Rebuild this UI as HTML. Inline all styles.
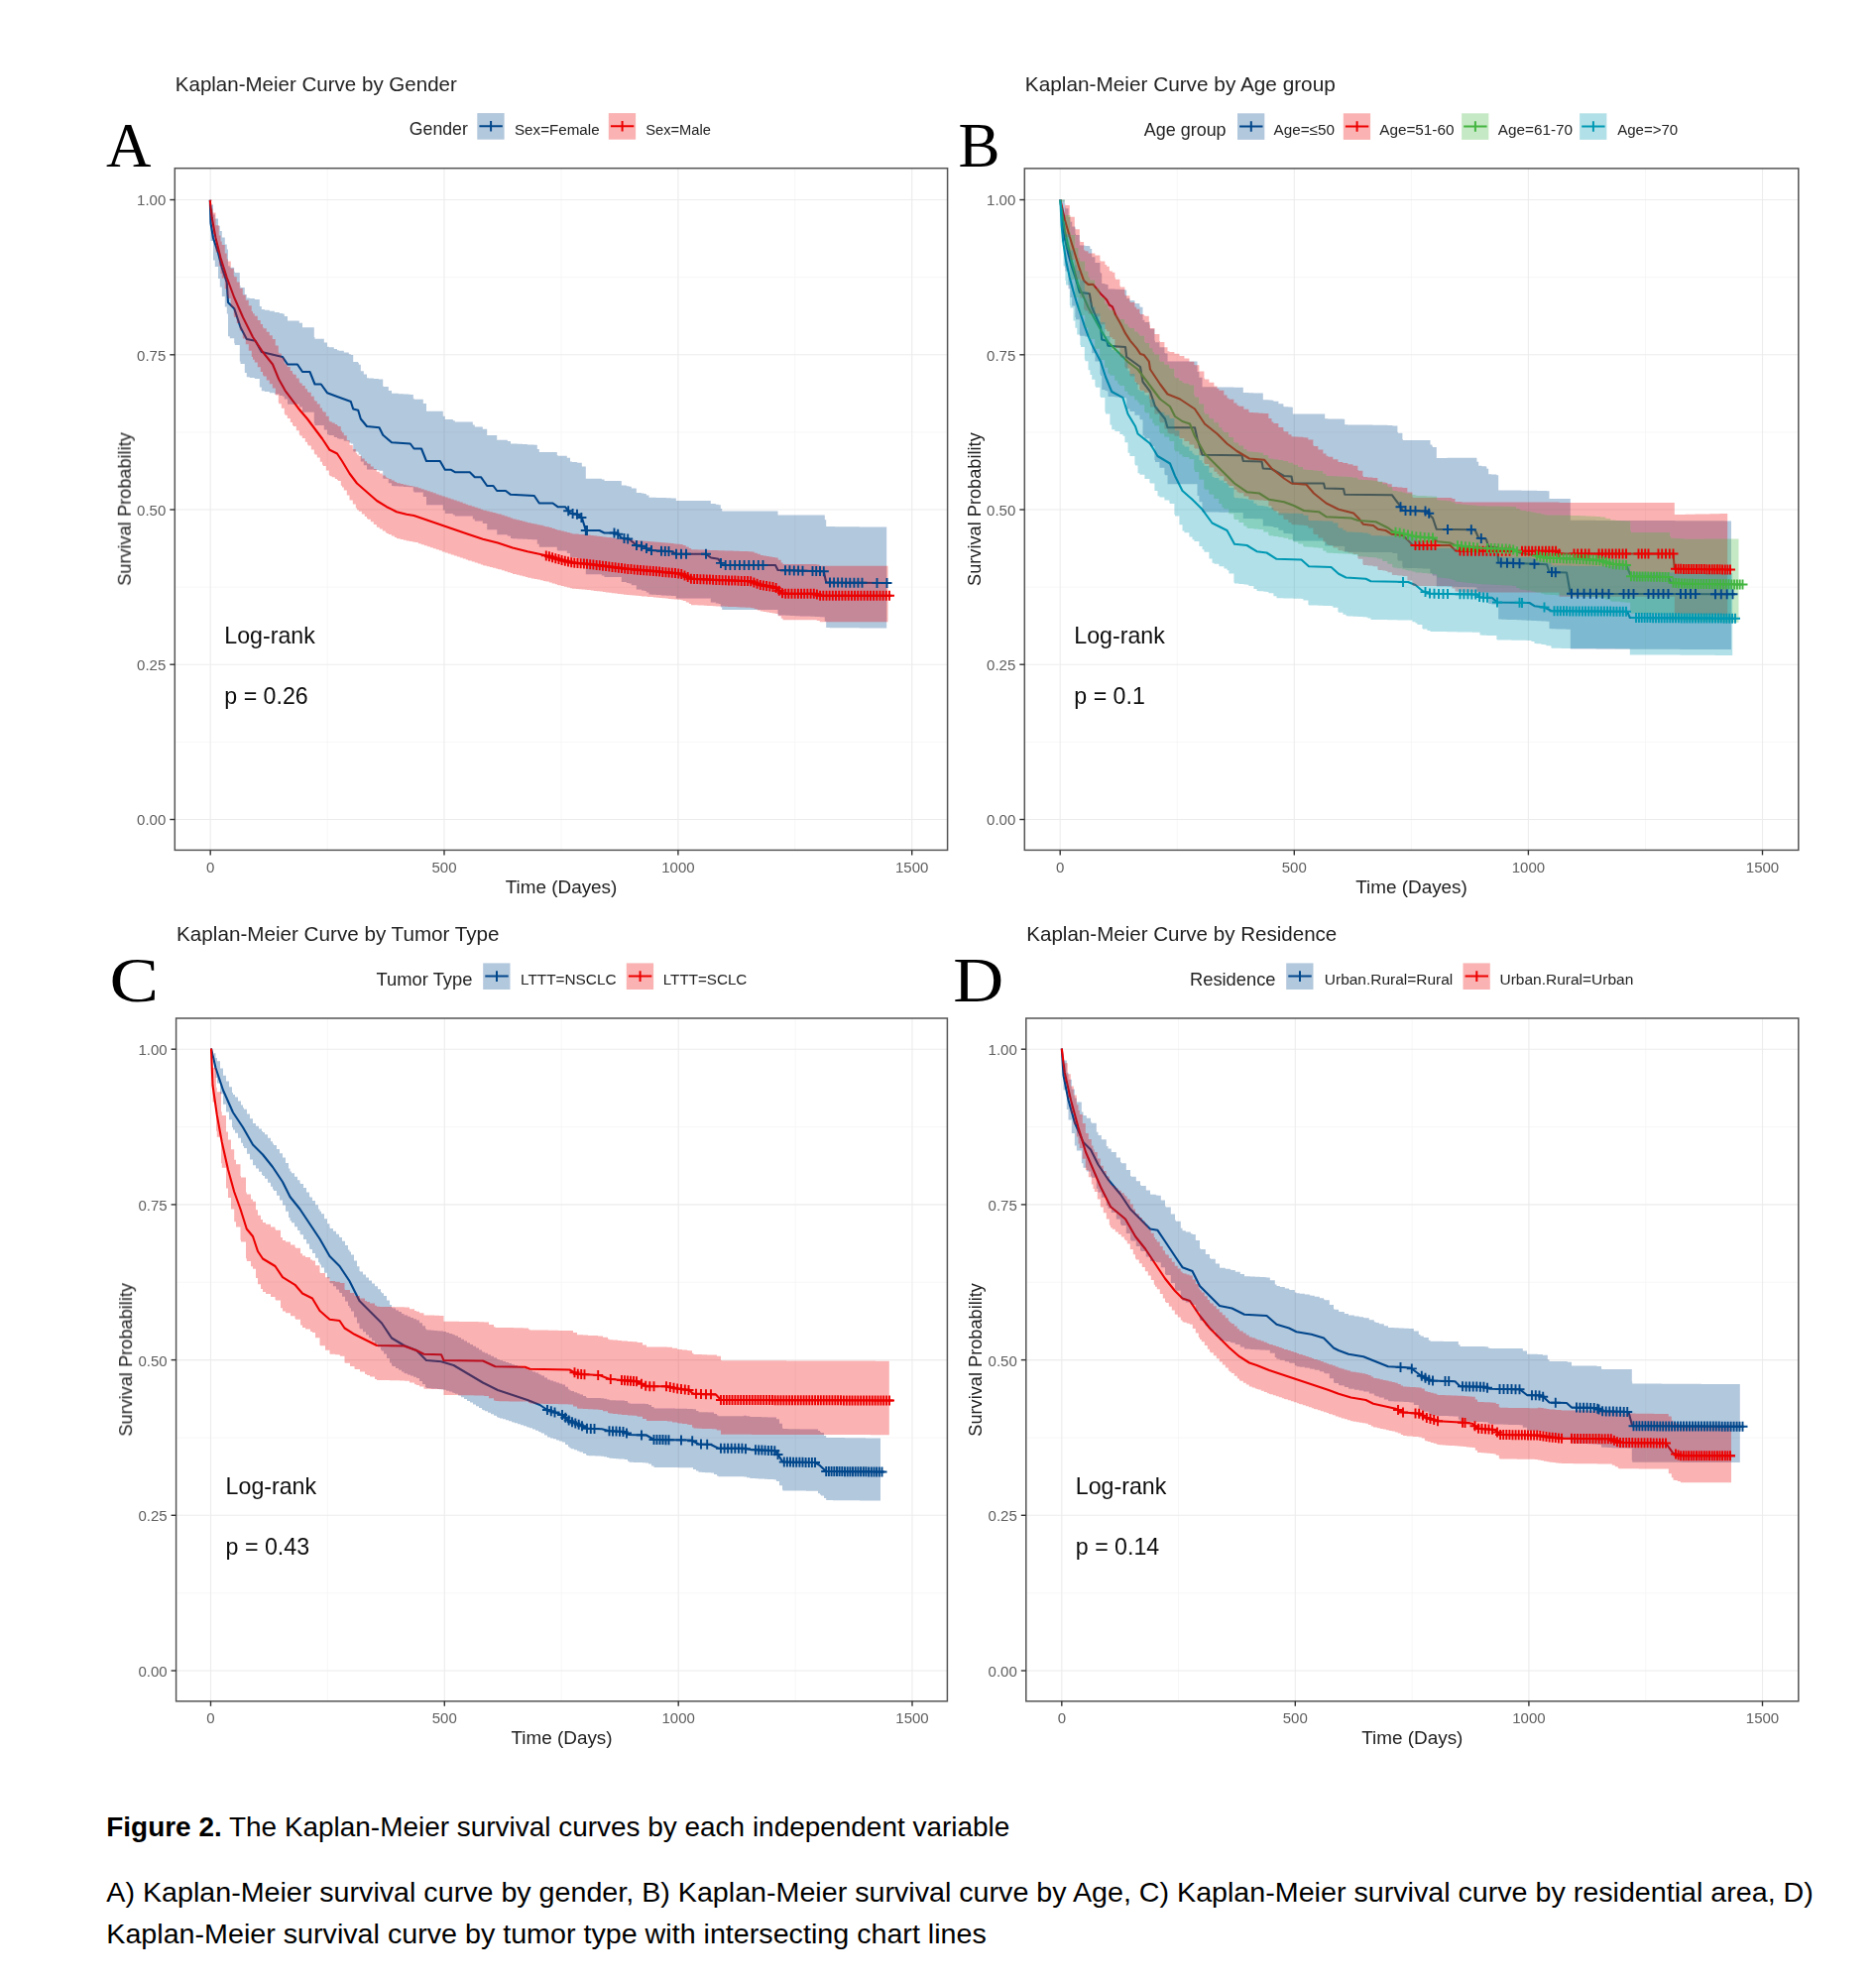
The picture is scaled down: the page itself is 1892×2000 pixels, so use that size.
<!DOCTYPE html>
<html><head><meta charset="utf-8"><title>Figure 2</title>
<style>
html,body{margin:0;padding:0;background:#fff}
svg{display:block}
.tk{font-family:"Liberation Sans", Arial, sans-serif;font-size:15px;fill:#5e5e5e}
.ax{font-family:"Liberation Sans", Arial, sans-serif;font-size:18.5px;fill:#222}
.ti{font-family:"Liberation Sans", Arial, sans-serif;font-size:20.6px;fill:#222}
.lt{font-family:"Liberation Sans", Arial, sans-serif;font-size:17.9px;fill:#222}
.ll{font-family:"Liberation Sans", Arial, sans-serif;font-size:15.2px;fill:#222}
.an{font-family:"Liberation Sans", Arial, sans-serif;font-size:23.2px;fill:#111}
.big{font-family:"Liberation Serif", "Times New Roman", serif;font-size:63px;fill:#000}
.cap{font-family:"Liberation Sans", Arial, sans-serif;font-size:27.5px;fill:#000}
</style></head><body>
<svg width="1892" height="2000" viewBox="0 0 1892 2000">
<rect width="1892" height="2000" fill="#fff"/>
<defs><filter id="soft" x="0" y="0" width="1892" height="1800" filterUnits="userSpaceOnUse"><feGaussianBlur stdDeviation="0.55"/></filter></defs>
<g filter="url(#soft)">
<line x1="330.1" x2="330.1" y1="169.7" y2="857.4" stroke="#f3f3f3" stroke-width="0.7"/>
<line x1="566.0" x2="566.0" y1="169.7" y2="857.4" stroke="#f3f3f3" stroke-width="0.7"/>
<line x1="801.8" x2="801.8" y1="169.7" y2="857.4" stroke="#f3f3f3" stroke-width="0.7"/>
<line x1="176.3" x2="955.6" y1="748.4" y2="748.4" stroke="#f3f3f3" stroke-width="0.7"/>
<line x1="176.3" x2="955.6" y1="592.1" y2="592.1" stroke="#f3f3f3" stroke-width="0.7"/>
<line x1="176.3" x2="955.6" y1="435.9" y2="435.9" stroke="#f3f3f3" stroke-width="0.7"/>
<line x1="176.3" x2="955.6" y1="279.6" y2="279.6" stroke="#f3f3f3" stroke-width="0.7"/>
<line x1="212.2" x2="212.2" y1="169.7" y2="857.4" stroke="#ececec" stroke-width="1.1"/>
<line x1="448.0" x2="448.0" y1="169.7" y2="857.4" stroke="#ececec" stroke-width="1.1"/>
<line x1="683.9" x2="683.9" y1="169.7" y2="857.4" stroke="#ececec" stroke-width="1.1"/>
<line x1="919.7" x2="919.7" y1="169.7" y2="857.4" stroke="#ececec" stroke-width="1.1"/>
<line x1="176.3" x2="955.6" y1="826.5" y2="826.5" stroke="#ececec" stroke-width="1.1"/>
<line x1="176.3" x2="955.6" y1="670.2" y2="670.2" stroke="#ececec" stroke-width="1.1"/>
<line x1="176.3" x2="955.6" y1="514.0" y2="514.0" stroke="#ececec" stroke-width="1.1"/>
<line x1="176.3" x2="955.6" y1="357.8" y2="357.8" stroke="#ececec" stroke-width="1.1"/>
<line x1="176.3" x2="955.6" y1="201.5" y2="201.5" stroke="#ececec" stroke-width="1.1"/>
<polyline points="211.8,201.8 212.5,225.0 215.0,240.0 220.0,255.0 223.8,270.0 228.8,285.0 230.0,305.0 236.2,311.2 242.5,330.0 248.8,342.0 257.5,343.8 263.8,355.0 285.0,360.0 290.0,367.5 300.0,367.5 305.0,375.0 312.5,375.0 317.5,387.5 323.8,387.5 330.0,396.2 340.0,400.0 353.8,405.0 356.2,412.5 361.2,413.8 363.8,422.5 370.0,430.0 382.5,431.2 386.2,438.8 395.0,446.2 413.8,447.5 417.5,452.5 425.0,452.5 430.0,465.0 443.8,465.0 448.8,473.8 455.0,473.8 458.8,476.2 473.8,476.2 478.8,481.2 485.0,481.2 491.2,490.0 497.5,490.0 501.2,495.0 510.0,495.0 515.0,498.8 538.8,500.0 543.8,507.5 557.5,507.5 562.5,511.2 570.0,511.2 575.0,517.5 582.5,518.8 587.0,522.5 590.8,535.0 604.5,535.0 609.5,537.5 622.0,537.5 627.0,542.5 634.5,543.8 642.0,550.0 649.5,551.2 654.5,555.0 677.0,556.2 682.0,558.8 712.0,558.8 717.0,562.5 724.5,563.8 728.2,570.0 782.0,570.0 784.5,575.0 830.8,576.2 833.2,587.5 898.2,588.0" fill="none" stroke="#00468B" stroke-width="2.1" stroke-linejoin="round"/>
<polyline points="211.8,201.8 213.8,220.0 217.5,240.0 222.5,260.0 228.8,280.0 236.2,300.0 245.0,320.0 255.0,340.0 265.0,355.0 275.0,367.5 281.2,382.5 287.5,393.8 295.0,403.8 302.5,413.8 310.0,422.5 317.5,432.5 325.0,442.5 332.5,453.8 340.0,457.5 345.0,465.0 352.5,477.5 360.0,487.5 370.0,496.2 380.0,505.0 390.0,511.2 400.0,516.2 410.0,518.8 417.5,520.0 472.0,538.8 487.0,543.8 502.0,547.5 517.0,552.5 532.0,556.2 549.5,560.0 562.0,563.8 577.0,567.5 592.0,568.8 612.0,571.2 632.0,573.8 662.0,576.2 687.0,578.8 697.0,583.8 724.5,585.0 757.0,586.2 767.0,590.0 782.0,592.5 789.5,598.8 822.0,598.8 827.0,600.8 899.5,600.8" fill="none" stroke="#ED0000" stroke-width="2.1" stroke-linejoin="round"/>
<polygon points="211.8,201.5 212.5,201.5 212.5,206.6 215.0,206.6 215.0,216.6 216.8,216.6 216.8,220.4 220.0,220.4 220.0,227.7 221.8,227.7 221.8,233.1 223.8,233.1 223.8,239.4 226.8,239.4 226.8,246.6 228.8,246.6 228.8,251.6 230.0,251.6 230.0,268.3 231.8,268.3 231.8,269.8 236.2,269.8 236.2,273.7 236.8,273.7 236.8,274.9 241.8,274.9 241.8,288.0 242.5,288.0 242.5,289.9 246.8,289.9 246.8,297.1 248.8,297.1 248.8,300.5 251.8,300.5 251.8,301.0 256.8,301.0 256.8,301.9 257.5,301.9 257.5,302.1 261.8,302.1 261.8,308.9 263.8,308.9 263.8,312.1 266.8,312.1 266.8,312.7 271.8,312.7 271.8,313.8 276.8,313.8 276.8,314.9 281.8,314.9 281.8,315.9 285.0,315.9 285.0,316.6 286.8,316.6 286.8,319.0 290.0,319.0 290.0,323.4 291.8,323.4 291.8,323.4 296.8,323.4 296.8,323.4 300.0,323.4 300.0,323.4 301.8,323.4 301.8,325.8 305.0,325.8 305.0,330.2 306.8,330.2 306.8,330.2 311.8,330.2 311.8,330.2 312.5,330.2 312.5,330.2 316.8,330.2 316.8,339.9 317.5,339.9 317.5,341.7 321.8,341.7 321.8,341.7 323.8,341.7 323.8,341.7 326.8,341.7 326.8,345.5 330.0,345.5 330.0,349.7 331.8,349.7 331.8,350.3 336.8,350.3 336.8,352.1 340.0,352.1 340.0,353.2 341.8,353.2 341.8,353.8 346.8,353.8 346.8,355.5 351.8,355.5 351.8,357.2 353.8,357.2 353.8,357.9 356.2,357.9 356.2,364.9 356.8,364.9 356.8,365.0 361.2,365.0 361.2,366.0 361.8,366.0 361.8,367.7 363.8,367.7 363.8,374.2 366.8,374.2 366.8,377.6 370.0,377.6 370.0,381.3 371.8,381.3 371.8,381.5 376.8,381.5 376.8,381.9 381.8,381.9 381.8,382.4 382.5,382.4 382.5,382.5 386.2,382.5 386.2,389.6 386.8,389.6 386.8,390.0 391.8,390.0 391.8,394.1 395.0,394.1 395.0,396.7 396.8,396.7 396.8,396.8 401.8,396.8 401.8,397.2 406.8,397.2 406.8,397.5 411.8,397.5 411.8,397.8 413.8,397.8 413.8,397.9 416.8,397.9 416.8,401.7 417.5,401.7 417.5,402.7 421.8,402.7 421.8,402.7 425.0,402.7 425.0,402.7 426.8,402.7 426.8,406.9 430.0,406.9 430.0,414.7 431.8,414.7 431.8,414.7 436.8,414.7 436.8,414.7 441.8,414.7 441.8,414.7 443.8,414.7 443.8,414.7 446.8,414.7 446.8,419.8 448.8,419.8 448.8,423.1 451.8,423.1 451.8,423.1 455.0,423.1 455.0,423.1 456.8,423.1 456.8,424.3 458.8,424.3 458.8,425.6 461.8,425.6 461.8,425.6 466.8,425.6 466.8,425.6 471.8,425.6 471.8,425.6 473.8,425.6 473.8,425.6 476.8,425.6 476.8,428.5 478.8,428.5 478.8,430.4 481.8,430.4 481.8,430.4 485.0,430.4 485.0,430.4 486.8,430.4 486.8,432.8 491.2,432.8 491.2,438.9 491.8,438.9 491.8,438.9 496.8,438.9 496.8,438.9 497.5,438.9 497.5,438.9 501.2,438.9 501.2,443.8 501.8,443.8 501.8,443.8 506.8,443.8 506.8,443.8 510.0,443.8 510.0,443.8 511.8,443.8 511.8,445.1 515.0,445.1 515.0,447.5 516.8,447.5 516.8,447.6 521.8,447.6 521.8,447.8 526.8,447.8 526.8,448.1 531.8,448.1 531.8,448.4 536.8,448.4 536.8,448.6 538.8,448.6 538.8,448.7 541.8,448.7 541.8,453.1 543.8,453.1 543.8,456.1 546.8,456.1 546.8,456.1 551.8,456.1 551.8,456.1 556.8,456.1 556.8,456.1 557.5,456.1 557.5,456.1 561.8,456.1 561.8,459.1 562.5,459.1 562.5,459.7 566.8,459.7 566.8,459.7 570.0,459.7 570.0,459.7 571.8,459.7 571.8,461.7 575.0,461.7 575.0,465.6 576.8,465.6 576.8,465.9 581.8,465.9 581.8,466.6 582.5,466.6 582.5,466.7 586.8,466.7 586.8,470.2 587.0,470.2 587.0,470.4 590.8,470.4 590.8,482.7 591.8,482.7 591.8,482.7 596.8,482.7 596.8,482.7 601.8,482.7 601.8,482.7 604.5,482.7 604.5,482.7 606.8,482.7 606.8,483.6 609.5,483.6 609.5,484.9 611.8,484.9 611.8,484.9 616.8,484.9 616.8,484.9 621.8,484.9 621.8,484.9 622.0,484.9 622.0,484.9 626.8,484.9 626.8,489.4 627.0,489.4 627.0,489.6 631.8,489.6 631.8,490.3 634.5,490.3 634.5,490.7 636.8,490.7 636.8,492.6 641.8,492.6 641.8,496.7 642.0,496.7 642.0,496.9 646.8,496.9 646.8,497.6 649.5,497.6 649.5,498.0 651.8,498.0 651.8,499.6 654.5,499.6 654.5,501.7 656.8,501.7 656.8,501.7 661.8,501.7 661.8,501.9 666.8,501.9 666.8,502.1 671.8,502.1 671.8,502.3 676.8,502.3 676.8,502.5 677.0,502.5 677.0,502.5 681.8,502.5 681.8,504.8 682.0,504.8 682.0,504.9 686.8,504.9 686.8,504.9 691.8,504.9 691.8,504.9 696.8,504.9 696.8,504.9 701.8,504.9 701.8,504.9 706.8,504.9 706.8,504.9 711.8,504.9 711.8,504.9 712.0,504.9 712.0,504.9 716.8,504.9 716.8,507.9 717.0,507.9 717.0,508.1 721.8,508.1 721.8,508.8 724.5,508.8 724.5,509.2 726.8,509.2 726.8,512.9 728.2,512.9 728.2,515.4 731.8,515.4 731.8,515.4 736.8,515.4 736.8,515.4 741.8,515.4 741.8,515.4 746.8,515.4 746.8,515.4 751.8,515.4 751.8,515.4 756.8,515.4 756.8,515.4 761.8,515.4 761.8,515.4 766.8,515.4 766.8,515.4 771.8,515.4 771.8,515.4 776.8,515.4 776.8,515.4 781.8,515.4 781.8,515.4 782.0,515.4 782.0,515.4 784.5,515.4 784.5,519.4 786.8,519.4 786.8,519.4 791.8,519.4 791.8,519.4 796.8,519.4 796.8,519.4 801.8,519.4 801.8,519.5 806.8,519.5 806.8,519.5 811.8,519.5 811.8,519.5 816.8,519.5 816.8,519.6 821.8,519.6 821.8,519.6 826.8,519.6 826.8,519.6 830.8,519.6 830.8,519.6 831.8,519.6 831.8,524.2 833.2,524.2 833.2,531.1 836.8,531.1 836.8,531.1 841.8,531.1 841.8,531.2 846.8,531.2 846.8,531.2 851.8,531.2 851.8,531.3 856.8,531.3 856.8,531.3 861.8,531.3 861.8,531.3 866.8,531.3 866.8,531.4 871.8,531.4 871.8,531.4 876.8,531.4 876.8,531.5 881.8,531.5 881.8,531.5 886.8,531.5 886.8,531.6 891.8,531.6 891.8,531.6 894.2,531.6 894.2,531.7 894.2,633.5 894.2,633.5 891.8,633.5 891.8,633.5 886.8,633.5 886.8,633.5 881.8,633.5 881.8,633.4 876.8,633.4 876.8,633.4 871.8,633.4 871.8,633.4 866.8,633.4 866.8,633.3 861.8,633.3 861.8,633.3 856.8,633.3 856.8,633.3 851.8,633.3 851.8,633.2 846.8,633.2 846.8,633.2 841.8,633.2 841.8,633.2 836.8,633.2 836.8,633.1 833.2,633.1 833.2,626.7 831.8,626.7 831.8,622.4 830.8,622.4 830.8,622.3 826.8,622.3 826.8,622.0 821.8,622.0 821.8,621.8 816.8,621.8 816.8,621.6 811.8,621.6 811.8,621.4 806.8,621.4 806.8,621.2 801.8,621.2 801.8,621.0 796.8,621.0 796.8,620.8 791.8,620.8 791.8,620.6 786.8,620.6 786.8,620.6 784.5,620.6 784.5,615.0 782.0,615.0 782.0,615.0 781.8,615.0 781.8,615.0 776.8,615.0 776.8,615.0 771.8,615.0 771.8,615.0 766.8,615.0 766.8,615.0 761.8,615.0 761.8,615.0 756.8,615.0 756.8,615.0 751.8,615.0 751.8,615.0 746.8,615.0 746.8,615.0 741.8,615.0 741.8,615.0 736.8,615.0 736.8,615.0 731.8,615.0 731.8,615.0 728.2,615.0 728.2,612.6 726.8,612.6 726.8,608.9 724.5,608.9 724.5,608.5 721.8,608.5 721.8,607.6 717.0,607.6 717.0,607.5 716.8,607.5 716.8,603.6 712.0,603.6 712.0,603.6 711.8,603.6 711.8,603.6 706.8,603.6 706.8,603.6 701.8,603.6 701.8,603.6 696.8,603.6 696.8,603.6 691.8,603.6 691.8,603.6 686.8,603.6 686.8,603.6 682.0,603.6 682.0,603.4 681.8,603.4 681.8,601.1 677.0,601.1 677.0,601.1 676.8,601.1 676.8,600.7 671.8,600.7 671.8,600.4 666.8,600.4 666.8,600.1 661.8,600.1 661.8,599.7 656.8,599.7 656.8,599.6 654.5,599.6 654.5,597.5 651.8,597.5 651.8,595.9 649.5,595.9 649.5,595.4 646.8,595.4 646.8,594.6 642.0,594.6 642.0,594.4 641.8,594.4 641.8,590.3 636.8,590.3 636.8,588.4 634.5,588.4 634.5,587.9 631.8,587.9 631.8,587.1 627.0,587.1 627.0,586.8 626.8,586.8 626.8,582.0 622.0,582.0 622.0,582.0 621.8,582.0 621.8,582.0 616.8,582.0 616.8,582.0 611.8,582.0 611.8,582.0 609.5,582.0 609.5,580.6 606.8,580.6 606.8,579.3 604.5,579.3 604.5,579.3 601.8,579.3 601.8,579.3 596.8,579.3 596.8,579.3 591.8,579.3 591.8,579.3 590.8,579.3 590.8,567.0 587.0,567.0 587.0,566.8 586.8,566.8 586.8,563.2 582.5,563.2 582.5,563.1 581.8,563.1 581.8,562.2 576.8,562.2 576.8,561.9 575.0,561.9 575.0,557.9 571.8,557.9 571.8,555.6 570.0,555.6 570.0,555.6 566.8,555.6 566.8,555.6 562.5,555.6 562.5,555.0 561.8,555.0 561.8,551.8 557.5,551.8 557.5,551.8 556.8,551.8 556.8,551.8 551.8,551.8 551.8,551.8 546.8,551.8 546.8,551.8 543.8,551.8 543.8,548.8 541.8,548.8 541.8,544.3 538.8,544.3 538.8,544.2 536.8,544.2 536.8,544.0 531.8,544.0 531.8,543.7 526.8,543.7 526.8,543.4 521.8,543.4 521.8,543.2 516.8,543.2 516.8,543.1 515.0,543.1 515.0,540.6 511.8,540.6 511.8,539.3 510.0,539.3 510.0,539.3 506.8,539.3 506.8,539.3 501.8,539.3 501.8,539.3 501.2,539.3 501.2,534.3 497.5,534.3 497.5,534.3 496.8,534.3 496.8,534.3 491.8,534.3 491.8,534.3 491.2,534.3 491.2,528.0 486.8,528.0 486.8,525.6 485.0,525.6 485.0,525.6 481.8,525.6 481.8,525.6 478.8,525.6 478.8,523.5 476.8,523.5 476.8,520.5 473.8,520.5 473.8,520.5 471.8,520.5 471.8,520.5 466.8,520.5 466.8,520.5 461.8,520.5 461.8,520.5 458.8,520.5 458.8,519.2 456.8,519.2 456.8,518.0 455.0,518.0 455.0,518.0 451.8,518.0 451.8,518.0 448.8,518.0 448.8,514.5 446.8,514.5 446.8,509.2 443.8,509.2 443.8,509.2 441.8,509.2 441.8,509.2 436.8,509.2 436.8,509.2 431.8,509.2 431.8,509.2 430.0,509.2 430.0,500.9 426.8,500.9 426.8,496.4 425.0,496.4 425.0,496.4 421.8,496.4 421.8,496.4 417.5,496.4 417.5,495.4 416.8,495.4 416.8,491.3 413.8,491.3 413.8,491.2 411.8,491.2 411.8,490.9 406.8,490.9 406.8,490.5 401.8,490.5 401.8,490.2 396.8,490.2 396.8,490.1 395.0,490.1 395.0,487.2 391.8,487.2 391.8,482.8 386.8,482.8 386.8,482.4 386.2,482.4 386.2,474.7 382.5,474.7 382.5,474.6 381.8,474.6 381.8,474.1 376.8,474.1 376.8,473.5 371.8,473.5 371.8,473.4 370.0,473.4 370.0,469.3 366.8,469.3 366.8,465.6 363.8,465.6 363.8,458.4 361.8,458.4 361.8,456.5 361.2,456.5 361.2,455.4 356.8,455.4 356.8,455.2 356.2,455.2 356.2,447.4 353.8,447.4 353.8,446.6 351.8,446.6 351.8,444.7 346.8,444.7 346.8,442.8 341.8,442.8 341.8,442.2 340.0,442.2 340.0,440.9 336.8,440.9 336.8,438.9 331.8,438.9 331.8,438.2 330.0,438.2 330.0,433.4 326.8,433.4 326.8,429.0 323.8,429.0 323.8,429.0 321.8,429.0 321.8,429.0 317.5,429.0 317.5,427.0 316.8,427.0 316.8,415.7 312.5,415.7 312.5,415.7 311.8,415.7 311.8,415.7 306.8,415.7 306.8,415.7 305.0,415.7 305.0,410.6 301.8,410.6 301.8,407.7 300.0,407.7 300.0,407.7 296.8,407.7 296.8,407.7 291.8,407.7 291.8,407.7 290.0,407.7 290.0,402.5 286.8,402.5 286.8,399.7 285.0,399.7 285.0,398.9 281.8,398.9 281.8,397.6 276.8,397.6 276.8,396.3 271.8,396.3 271.8,395.1 266.8,395.1 266.8,394.3 263.8,394.3 263.8,390.4 261.8,390.4 261.8,382.1 257.5,382.1 257.5,382.0 256.8,382.0 256.8,380.9 251.8,380.9 251.8,380.2 248.8,380.2 248.8,376.0 246.8,376.0 246.8,367.1 242.5,367.1 242.5,364.6 241.8,364.6 241.8,348.0 236.8,348.0 236.8,346.3 236.2,346.3 236.2,341.2 231.8,341.2 231.8,339.3 230.0,339.3 230.0,316.5 228.8,316.5 228.8,309.5 226.8,309.5 226.8,299.0 223.8,299.0 223.8,289.5 221.8,289.5 221.8,281.1 220.0,281.1 220.0,269.1 216.8,269.1 216.8,262.5 215.0,262.5 215.0,242.9 212.5,242.9 212.5,203.7 211.8,203.7" fill="#00468B" fill-opacity="0.3"/>
<polygon points="211.8,201.5 213.8,201.5 213.8,210.4 214.8,210.4 214.8,214.5 217.5,214.5 217.5,226.4 217.8,226.4 217.8,227.2 220.8,227.2 220.8,237.4 222.5,237.4 222.5,243.5 223.8,243.5 223.8,247.0 226.8,247.0 226.8,255.4 228.8,255.4 228.8,261.2 229.8,261.2 229.8,263.5 232.8,263.5 232.8,270.8 235.8,270.8 235.8,278.0 236.2,278.0 236.2,279.2 238.8,279.2 238.8,284.5 241.8,284.5 241.8,290.7 244.8,290.7 244.8,297.1 245.0,297.1 245.0,297.6 247.8,297.6 247.8,302.7 250.8,302.7 250.8,308.3 253.8,308.3 253.8,313.9 255.0,313.9 255.0,316.2 256.8,316.2 256.8,318.7 259.8,318.7 259.8,322.9 262.8,322.9 262.8,327.1 265.0,327.1 265.0,330.3 265.8,330.3 265.8,331.2 268.8,331.2 268.8,334.7 271.8,334.7 271.8,338.3 274.8,338.3 274.8,341.8 275.0,341.8 275.0,342.1 277.8,342.1 277.8,348.4 280.8,348.4 280.8,355.3 281.2,355.3 281.2,356.4 283.8,356.4 283.8,360.7 286.8,360.7 286.8,365.9 287.5,365.9 287.5,367.2 289.8,367.2 289.8,370.0 292.8,370.0 292.8,373.9 295.0,373.9 295.0,376.8 295.8,376.8 295.8,377.7 298.8,377.7 298.8,381.6 301.8,381.6 301.8,385.4 302.5,385.4 302.5,386.4 304.8,386.4 304.8,388.9 307.8,388.9 307.8,392.3 310.0,392.3 310.0,394.9 310.8,394.9 310.8,395.8 313.8,395.8 313.8,399.7 316.8,399.7 316.8,403.6 317.5,403.6 317.5,404.6 319.8,404.6 319.8,407.5 322.8,407.5 322.8,411.4 325.0,411.4 325.0,414.3 325.8,414.3 325.8,415.4 328.8,415.4 328.8,419.8 331.8,419.8 331.8,424.2 332.5,424.2 332.5,425.3 334.8,425.3 334.8,426.4 337.8,426.4 337.8,427.9 340.0,427.9 340.0,429.0 340.8,429.0 340.8,430.1 343.8,430.1 343.8,434.5 345.0,434.5 345.0,436.3 346.8,436.3 346.8,439.2 349.8,439.2 349.8,444.1 352.5,444.1 352.5,448.6 352.8,448.6 352.8,448.9 355.8,448.9 355.8,452.9 358.8,452.9 358.8,456.8 360.0,456.8 360.0,458.5 361.8,458.5 361.8,460.0 364.8,460.0 364.8,462.6 367.8,462.6 367.8,465.2 370.0,465.2 370.0,467.1 370.8,467.1 370.8,467.8 373.8,467.8 373.8,470.4 376.8,470.4 376.8,473.0 379.8,473.0 379.8,475.6 380.0,475.6 380.0,475.8 382.8,475.8 382.8,477.5 385.8,477.5 385.8,479.4 388.8,479.4 388.8,481.2 390.0,481.2 390.0,482.0 391.8,482.0 391.8,482.9 394.8,482.9 394.8,484.4 397.8,484.4 397.8,485.9 400.0,485.9 400.0,487.0 400.8,487.0 400.8,487.2 403.8,487.2 403.8,487.9 406.8,487.9 406.8,488.7 409.8,488.7 409.8,489.4 410.0,489.4 410.0,489.5 412.8,489.5 412.8,489.9 415.8,489.9 415.8,490.4 417.5,490.4 417.5,490.7 418.8,490.7 418.8,491.2 421.8,491.2 421.8,492.2 424.8,492.2 424.8,493.2 427.8,493.2 427.8,494.3 430.8,494.3 430.8,495.3 433.8,495.3 433.8,496.3 436.8,496.3 436.8,497.3 439.8,497.3 439.8,498.4 442.8,498.4 442.8,499.4 445.8,499.4 445.8,500.4 448.8,500.4 448.8,501.5 451.8,501.5 451.8,502.5 454.8,502.5 454.8,503.5 457.8,503.5 457.8,504.6 460.8,504.6 460.8,505.6 463.8,505.6 463.8,506.6 466.8,506.6 466.8,507.7 469.8,507.7 469.8,508.7 472.0,508.7 472.0,509.5 472.8,509.5 472.8,509.7 475.8,509.7 475.8,510.7 478.8,510.7 478.8,511.7 481.8,511.7 481.8,512.7 484.8,512.7 484.8,513.8 487.0,513.8 487.0,514.5 487.8,514.5 487.8,514.7 490.8,514.7 490.8,515.4 493.8,515.4 493.8,516.2 496.8,516.2 496.8,517.0 499.8,517.0 499.8,517.7 502.0,517.7 502.0,518.3 502.8,518.3 502.8,518.5 505.8,518.5 505.8,519.5 508.8,519.5 508.8,520.5 511.8,520.5 511.8,521.5 514.8,521.5 514.8,522.5 517.0,522.5 517.0,523.3 517.8,523.3 517.8,523.5 520.8,523.5 520.8,524.2 523.8,524.2 523.8,525.0 526.8,525.0 526.8,525.8 529.8,525.8 529.8,526.5 532.0,526.5 532.0,527.1 532.8,527.1 532.8,527.2 535.8,527.2 535.8,527.9 538.8,527.9 538.8,528.5 541.8,528.5 541.8,529.2 544.8,529.2 544.8,529.8 547.8,529.8 547.8,530.5 549.5,530.5 549.5,530.9 550.8,530.9 550.8,531.2 553.8,531.2 553.8,532.1 556.8,532.1 556.8,533.1 559.8,533.1 559.8,533.9 562.0,533.9 562.0,534.6 562.8,534.6 562.8,534.8 565.8,534.8 565.8,535.5 568.8,535.5 568.8,536.3 571.8,536.3 571.8,537.0 574.8,537.0 574.8,537.8 577.0,537.8 577.0,538.3 577.8,538.3 577.8,538.4 580.8,538.4 580.8,538.6 583.8,538.6 583.8,538.9 586.8,538.9 586.8,539.1 589.8,539.1 589.8,539.3 592.0,539.3 592.0,539.5 592.8,539.5 592.8,539.6 595.8,539.6 595.8,540.0 598.8,540.0 598.8,540.3 601.8,540.3 601.8,540.7 604.8,540.7 604.8,541.1 607.8,541.1 607.8,541.4 610.8,541.4 610.8,541.8 612.0,541.8 612.0,541.9 613.8,541.9 613.8,542.1 616.8,542.1 616.8,542.5 619.8,542.5 619.8,542.9 622.8,542.9 622.8,543.2 625.8,543.2 625.8,543.6 628.8,543.6 628.8,544.0 631.8,544.0 631.8,544.3 632.0,544.3 632.0,544.4 634.8,544.4 634.8,544.6 637.8,544.6 637.8,544.8 640.8,544.8 640.8,545.0 643.8,545.0 643.8,545.3 646.8,545.3 646.8,545.5 649.8,545.5 649.8,545.7 652.8,545.7 652.8,546.0 655.8,546.0 655.8,546.2 658.8,546.2 658.8,546.5 661.8,546.5 661.8,546.7 662.0,546.7 662.0,546.7 664.8,546.7 664.8,547.0 667.8,547.0 667.8,547.3 670.8,547.3 670.8,547.5 673.8,547.5 673.8,547.8 676.8,547.8 676.8,548.1 679.8,548.1 679.8,548.4 682.8,548.4 682.8,548.7 685.8,548.7 685.8,549.0 687.0,549.0 687.0,549.1 688.8,549.1 688.8,550.0 691.8,550.0 691.8,551.5 694.8,551.5 694.8,553.0 697.0,553.0 697.0,554.1 697.8,554.1 697.8,554.2 700.8,554.2 700.8,554.3 703.8,554.3 703.8,554.4 706.8,554.4 706.8,554.5 709.8,554.5 709.8,554.6 712.8,554.6 712.8,554.8 715.8,554.8 715.8,554.9 718.8,554.9 718.8,555.0 721.8,555.0 721.8,555.1 724.5,555.1 724.5,555.2 724.8,555.2 724.8,555.2 727.8,555.2 727.8,555.3 730.8,555.3 730.8,555.4 733.8,555.4 733.8,555.5 736.8,555.5 736.8,555.6 739.8,555.6 739.8,555.7 742.8,555.7 742.8,555.8 745.8,555.8 745.8,555.9 748.8,555.9 748.8,556.0 751.8,556.0 751.8,556.1 754.8,556.1 754.8,556.2 757.0,556.2 757.0,556.3 757.8,556.3 757.8,556.6 760.8,556.6 760.8,557.7 763.8,557.7 763.8,558.8 766.8,558.8 766.8,560.0 767.0,560.0 767.0,560.1 769.8,560.1 769.8,560.5 772.8,560.5 772.8,561.0 775.8,561.0 775.8,561.5 778.8,561.5 778.8,562.0 781.8,562.0 781.8,562.5 782.0,562.5 782.0,562.5 784.8,562.5 784.8,564.8 787.8,564.8 787.8,567.4 789.5,567.4 789.5,568.9 790.8,568.9 790.8,568.9 793.8,568.9 793.8,568.9 796.8,568.9 796.8,568.9 799.8,568.9 799.8,568.9 802.8,568.9 802.8,568.9 805.8,568.9 805.8,568.9 808.8,568.9 808.8,568.9 811.8,568.9 811.8,568.9 814.8,568.9 814.8,568.9 817.8,568.9 817.8,568.9 820.8,568.9 820.8,568.9 822.0,568.9 822.0,568.9 823.8,568.9 823.8,569.4 826.8,569.4 826.8,570.6 827.0,570.6 827.0,570.7 829.8,570.7 829.8,570.7 832.8,570.7 832.8,570.7 835.8,570.7 835.8,570.7 838.8,570.7 838.8,570.7 841.8,570.7 841.8,570.7 844.8,570.7 844.8,570.7 847.8,570.7 847.8,570.7 850.8,570.7 850.8,570.7 853.8,570.7 853.8,570.7 856.8,570.7 856.8,570.7 859.8,570.7 859.8,570.7 862.8,570.7 862.8,570.7 865.8,570.7 865.8,570.7 868.8,570.7 868.8,570.7 871.8,570.7 871.8,570.7 874.8,570.7 874.8,570.7 877.8,570.7 877.8,570.7 880.8,570.7 880.8,570.7 883.8,570.7 883.8,570.7 886.8,570.7 886.8,570.7 889.8,570.7 889.8,570.7 892.8,570.7 892.8,570.7 895.5,570.7 895.5,570.7 895.5,627.3 895.5,627.3 892.8,627.3 892.8,627.3 889.8,627.3 889.8,627.3 886.8,627.3 886.8,627.3 883.8,627.3 883.8,627.3 880.8,627.3 880.8,627.3 877.8,627.3 877.8,627.3 874.8,627.3 874.8,627.3 871.8,627.3 871.8,627.3 868.8,627.3 868.8,627.3 865.8,627.3 865.8,627.3 862.8,627.3 862.8,627.3 859.8,627.3 859.8,627.3 856.8,627.3 856.8,627.3 853.8,627.3 853.8,627.3 850.8,627.3 850.8,627.3 847.8,627.3 847.8,627.3 844.8,627.3 844.8,627.3 841.8,627.3 841.8,627.3 838.8,627.3 838.8,627.3 835.8,627.3 835.8,627.3 832.8,627.3 832.8,627.3 829.8,627.3 829.8,627.3 827.0,627.3 827.0,627.2 826.8,627.2 826.8,626.0 823.8,626.0 823.8,625.2 822.0,625.2 822.0,625.2 820.8,625.2 820.8,625.2 817.8,625.2 817.8,625.2 814.8,625.2 814.8,625.2 811.8,625.2 811.8,625.2 808.8,625.2 808.8,625.2 805.8,625.2 805.8,625.2 802.8,625.2 802.8,625.2 799.8,625.2 799.8,625.2 796.8,625.2 796.8,625.2 793.8,625.2 793.8,625.2 790.8,625.2 790.8,625.2 789.5,625.2 789.5,623.8 787.8,623.8 787.8,621.3 784.8,621.3 784.8,619.1 782.0,619.1 782.0,619.0 781.8,619.0 781.8,618.5 778.8,618.5 778.8,618.0 775.8,618.0 775.8,617.5 772.8,617.5 772.8,617.0 769.8,617.0 769.8,616.6 767.0,616.6 767.0,616.5 766.8,616.5 766.8,615.4 763.8,615.4 763.8,614.3 760.8,614.3 760.8,613.2 757.8,613.2 757.8,612.9 757.0,612.9 757.0,612.8 754.8,612.8 754.8,612.7 751.8,612.7 751.8,612.5 748.8,612.5 748.8,612.4 745.8,612.4 745.8,612.3 742.8,612.3 742.8,612.1 739.8,612.1 739.8,612.0 736.8,612.0 736.8,611.9 733.8,611.9 733.8,611.8 730.8,611.8 730.8,611.6 727.8,611.6 727.8,611.5 724.8,611.5 724.8,611.5 724.5,611.5 724.5,611.4 721.8,611.4 721.8,611.2 718.8,611.2 718.8,611.1 715.8,611.1 715.8,610.9 712.8,610.9 712.8,610.8 709.8,610.8 709.8,610.6 706.8,610.6 706.8,610.5 703.8,610.5 703.8,610.3 700.8,610.3 700.8,610.2 697.8,610.2 697.8,610.2 697.0,610.2 697.0,609.0 694.8,609.0 694.8,607.6 691.8,607.6 691.8,606.1 688.8,606.1 688.8,605.2 687.0,605.2 687.0,605.1 685.8,605.1 685.8,604.8 682.8,604.8 682.8,604.5 679.8,604.5 679.8,604.2 676.8,604.2 676.8,603.9 673.8,603.9 673.8,603.6 670.8,603.6 670.8,603.3 667.8,603.3 667.8,603.0 664.8,603.0 664.8,602.7 662.0,602.7 662.0,602.6 661.8,602.6 661.8,602.4 658.8,602.4 658.8,602.1 655.8,602.1 655.8,601.9 652.8,601.9 652.8,601.6 649.8,601.6 649.8,601.4 646.8,601.4 646.8,601.1 643.8,601.1 643.8,600.8 640.8,600.8 640.8,600.6 637.8,600.6 637.8,600.3 634.8,600.3 634.8,600.1 632.0,600.1 632.0,600.1 631.8,600.1 631.8,599.7 628.8,599.7 628.8,599.3 625.8,599.3 625.8,598.9 622.8,598.9 622.8,598.5 619.8,598.5 619.8,598.2 616.8,598.2 616.8,597.8 613.8,597.8 613.8,597.6 612.0,597.6 612.0,597.4 610.8,597.4 610.8,597.0 607.8,597.0 607.8,596.6 604.8,596.6 604.8,596.2 601.8,596.2 601.8,595.9 598.8,595.9 598.8,595.5 595.8,595.5 595.8,595.1 592.8,595.1 592.8,595.0 592.0,595.0 592.0,594.8 589.8,594.8 589.8,594.6 586.8,594.6 586.8,594.3 583.8,594.3 583.8,594.0 580.8,594.0 580.8,593.8 577.8,593.8 577.8,593.7 577.0,593.7 577.0,593.2 574.8,593.2 574.8,592.4 571.8,592.4 571.8,591.7 568.8,591.7 568.8,590.9 565.8,590.9 565.8,590.2 562.8,590.2 562.8,590.0 562.0,590.0 562.0,589.3 559.8,589.3 559.8,588.4 556.8,588.4 556.8,587.5 553.8,587.5 553.8,586.6 550.8,586.6 550.8,586.3 549.5,586.3 549.5,585.9 547.8,585.9 547.8,585.3 544.8,585.3 544.8,584.6 541.8,584.6 541.8,584.0 538.8,584.0 538.8,583.4 535.8,583.4 535.8,582.7 532.8,582.7 532.8,582.6 532.0,582.6 532.0,582.0 529.8,582.0 529.8,581.3 526.8,581.3 526.8,580.5 523.8,580.5 523.8,579.8 520.8,579.8 520.8,579.1 517.8,579.1 517.8,578.9 517.0,578.9 517.0,578.1 514.8,578.1 514.8,577.2 511.8,577.2 511.8,576.2 508.8,576.2 508.8,575.2 505.8,575.2 505.8,574.2 502.8,574.2 502.8,574.0 502.0,574.0 502.0,573.4 499.8,573.4 499.8,572.7 496.8,572.7 496.8,571.9 493.8,571.9 493.8,571.2 490.8,571.2 490.8,570.4 487.8,570.4 487.8,570.3 487.0,570.3 487.0,569.5 484.8,569.5 484.8,568.5 481.8,568.5 481.8,567.5 478.8,567.5 478.8,566.5 475.8,566.5 475.8,565.6 472.8,565.6 472.8,565.3 472.0,565.3 472.0,564.5 469.8,564.5 469.8,563.5 466.8,563.5 466.8,562.5 463.8,562.5 463.8,561.5 460.8,561.5 460.8,560.5 457.8,560.5 457.8,559.4 454.8,559.4 454.8,558.4 451.8,558.4 451.8,557.4 448.8,557.4 448.8,556.4 445.8,556.4 445.8,555.3 442.8,555.3 442.8,554.3 439.8,554.3 439.8,553.3 436.8,553.3 436.8,552.3 433.8,552.3 433.8,551.2 430.8,551.2 430.8,550.2 427.8,550.2 427.8,549.2 424.8,549.2 424.8,548.2 421.8,548.2 421.8,547.1 418.8,547.1 418.8,546.7 417.5,546.7 417.5,546.4 415.8,546.4 415.8,545.9 412.8,545.9 412.8,545.5 410.0,545.5 410.0,545.4 409.8,545.4 409.8,544.7 406.8,544.7 406.8,543.9 403.8,543.9 403.8,543.2 400.8,543.2 400.8,543.0 400.0,543.0 400.0,541.9 397.8,541.9 397.8,540.4 394.8,540.4 394.8,538.9 391.8,538.9 391.8,538.0 390.0,538.0 390.0,537.2 388.8,537.2 388.8,535.4 385.8,535.4 385.8,533.5 382.8,533.5 382.8,531.8 380.0,531.8 380.0,531.5 379.8,531.5 379.8,528.9 376.8,528.9 376.8,526.3 373.8,526.3 373.8,523.7 370.8,523.7 370.8,523.0 370.0,523.0 370.0,521.0 367.8,521.0 367.8,518.4 364.8,518.4 364.8,515.8 361.8,515.8 361.8,514.2 360.0,514.2 360.0,512.6 358.8,512.6 358.8,508.5 355.8,508.5 355.8,504.5 352.8,504.5 352.8,504.2 352.5,504.2 352.5,499.6 349.8,499.6 349.8,494.5 346.8,494.5 346.8,491.6 345.0,491.6 345.0,489.7 343.8,489.7 343.8,485.1 340.8,485.1 340.8,484.0 340.0,484.0 340.0,482.9 337.8,482.9 337.8,481.3 334.8,481.3 334.8,480.2 332.5,480.2 332.5,479.1 331.8,479.1 331.8,474.5 328.8,474.5 328.8,469.9 325.8,469.9 325.8,468.8 325.0,468.8 325.0,465.7 322.8,465.7 322.8,461.6 319.8,461.6 319.8,458.6 317.5,458.6 317.5,457.6 316.8,457.6 316.8,453.5 313.8,453.5 313.8,449.4 310.8,449.4 310.8,448.4 310.0,448.4 310.0,445.7 307.8,445.7 307.8,442.1 304.8,442.1 304.8,439.4 302.5,439.4 302.5,438.4 301.8,438.4 301.8,434.3 298.8,434.3 298.8,430.1 295.8,430.1 295.8,429.1 295.0,429.1 295.0,426.0 292.8,426.0 292.8,421.9 289.8,421.9 289.8,418.8 287.5,418.8 287.5,417.4 286.8,417.4 286.8,411.8 283.8,411.8 283.8,407.2 281.2,407.2 281.2,405.9 280.8,405.9 280.8,398.4 277.8,398.4 277.8,391.5 275.0,391.5 275.0,391.2 274.8,391.2 274.8,387.3 271.8,387.3 271.8,383.4 268.8,383.4 268.8,379.4 265.8,379.4 265.8,378.5 265.0,378.5 265.0,374.9 262.8,374.9 262.8,370.2 259.8,370.2 259.8,365.4 256.8,365.4 256.8,362.7 255.0,362.7 255.0,360.0 253.8,360.0 253.8,353.7 250.8,353.7 250.8,347.3 247.8,347.3 247.8,341.4 245.0,341.4 245.0,340.8 244.8,340.8 244.8,333.5 241.8,333.5 241.8,326.1 238.8,326.1 238.8,320.0 236.2,320.0 236.2,318.5 235.8,318.5 235.8,309.9 232.8,309.9 232.8,301.1 229.8,301.1 229.8,298.2 228.8,298.2 228.8,291.2 226.8,291.2 226.8,280.5 223.8,280.5 223.8,276.1 222.5,276.1 222.5,268.2 220.8,268.2 220.8,254.4 217.8,254.4 217.8,253.3 217.5,253.3 217.5,235.9 214.8,235.9 214.8,229.4 213.8,229.4 213.8,202.9 211.8,202.9" fill="#ED0000" fill-opacity="0.3"/>
<path d="M568.2 515.3h10.0M573.2 510.3v10.0M572.6 517.9h10.0M577.6 512.9v10.0M577.0 518.7h10.0M582.0 513.7v10.0M581.4 522.0h10.0M586.4 517.0v10.0M585.8 535.0h10.0M590.8 530.0v10.0M587.0 535.0h10.0M592.0 530.0v10.0M614.5 537.5h10.0M619.5 532.5v10.0M618.2 538.8h10.0M623.2 533.8v10.0M624.5 542.9h10.0M629.5 537.9v10.0M628.2 543.5h10.0M633.2 538.5v10.0M637.0 550.0h10.0M642.0 545.0v10.0M642.0 550.8h10.0M647.0 545.8v10.0M647.0 553.1h10.0M652.0 548.1v10.0M652.0 555.1h10.0M657.0 550.1v10.0M662.0 555.7h10.0M667.0 550.7v10.0M665.8 555.9h10.0M670.8 550.9v10.0M669.5 556.1h10.0M674.5 551.1v10.0M677.0 558.8h10.0M682.0 553.8v10.0M682.0 558.8h10.0M687.0 553.8v10.0M687.0 558.8h10.0M692.0 553.8v10.0M707.0 558.8h10.0M712.0 553.8v10.0M722.0 567.9h10.0M727.0 562.9v10.0M726.7 570.0h10.0M731.7 565.0v10.0M731.4 570.0h10.0M736.4 565.0v10.0M736.2 570.0h10.0M741.2 565.0v10.0M740.9 570.0h10.0M745.9 565.0v10.0M745.6 570.0h10.0M750.6 565.0v10.0M750.3 570.0h10.0M755.3 565.0v10.0M755.1 570.0h10.0M760.1 565.0v10.0M759.8 570.0h10.0M764.8 565.0v10.0M764.5 570.0h10.0M769.5 565.0v10.0M787.0 575.2h10.0M792.0 570.2v10.0M791.4 575.3h10.0M796.4 570.3v10.0M795.8 575.4h10.0M800.8 570.4v10.0M800.1 575.6h10.0M805.1 570.6v10.0M804.5 575.7h10.0M809.5 570.7v10.0M814.5 575.9h10.0M819.5 570.9v10.0M818.2 576.0h10.0M823.2 571.0v10.0M822.0 576.1h10.0M827.0 571.1v10.0M825.8 576.2h10.0M830.8 571.2v10.0M832.0 587.5h10.0M837.0 582.5v10.0M836.1 587.6h10.0M841.1 582.6v10.0M840.1 587.6h10.0M845.1 582.6v10.0M844.2 587.6h10.0M849.2 582.6v10.0M848.2 587.7h10.0M853.2 582.7v10.0M852.3 587.7h10.0M857.3 582.7v10.0M856.4 587.7h10.0M861.4 582.7v10.0M860.4 587.7h10.0M865.4 582.7v10.0M864.5 587.8h10.0M869.5 582.8v10.0M879.5 587.9h10.0M884.5 582.9v10.0M889.5 588.0h10.0M894.5 583.0v10.0" stroke="#00468B" stroke-width="1.9" fill="none"/>
<path d="M545.8 560.4h10.0M550.8 555.4v10.0M548.9 561.3h10.0M553.9 556.3v10.0M552.1 562.3h10.0M557.1 557.3v10.0M555.3 563.2h10.0M560.3 558.2v10.0M558.5 564.1h10.0M563.5 559.1v10.0M561.6 564.9h10.0M566.6 559.9v10.0M564.8 565.7h10.0M569.8 560.7v10.0M568.0 566.5h10.0M573.0 561.5v10.0M571.2 567.3h10.0M576.2 562.3v10.0M574.3 567.7h10.0M579.3 562.7v10.0M577.5 568.0h10.0M582.5 563.0v10.0M580.7 568.2h10.0M585.7 563.2v10.0M583.9 568.5h10.0M588.9 563.5v10.0M587.0 568.8h10.0M592.0 563.8v10.0M590.2 569.2h10.0M595.2 564.2v10.0M593.4 569.5h10.0M598.4 564.5v10.0M596.6 569.9h10.0M601.6 564.9v10.0M599.8 570.3h10.0M604.8 565.3v10.0M602.9 570.7h10.0M607.9 565.7v10.0M606.1 571.1h10.0M611.1 566.1v10.0M609.3 571.5h10.0M614.3 566.5v10.0M612.5 571.9h10.0M617.5 566.9v10.0M615.6 572.3h10.0M620.6 567.3v10.0M618.8 572.7h10.0M623.8 567.7v10.0M622.0 573.1h10.0M627.0 568.1v10.0M625.2 573.5h10.0M630.2 568.5v10.0M628.3 573.9h10.0M633.3 568.9v10.0M631.5 574.1h10.0M636.5 569.1v10.0M634.7 574.4h10.0M639.7 569.4v10.0M637.9 574.7h10.0M642.9 569.7v10.0M641.0 574.9h10.0M646.0 569.9v10.0M644.2 575.2h10.0M649.2 570.2v10.0M647.4 575.5h10.0M652.4 570.5v10.0M650.6 575.7h10.0M655.6 570.7v10.0M653.8 576.0h10.0M658.8 571.0v10.0M656.9 576.2h10.0M661.9 571.2v10.0M660.1 576.6h10.0M665.1 571.6v10.0M663.3 576.9h10.0M668.3 571.9v10.0M666.5 577.2h10.0M671.5 572.2v10.0M669.6 577.5h10.0M674.6 572.5v10.0M672.8 577.8h10.0M677.8 572.8v10.0M676.0 578.1h10.0M681.0 573.1v10.0M679.2 578.5h10.0M684.2 573.5v10.0M682.3 578.9h10.0M687.3 573.9v10.0M685.5 580.5h10.0M690.5 575.5v10.0M688.7 582.1h10.0M693.7 577.1v10.0M691.9 583.7h10.0M696.9 578.7v10.0M695.1 583.9h10.0M700.1 578.9v10.0M698.2 584.0h10.0M703.2 579.0v10.0M701.4 584.2h10.0M706.4 579.2v10.0M704.6 584.3h10.0M709.6 579.3v10.0M707.8 584.5h10.0M712.8 579.5v10.0M710.9 584.6h10.0M715.9 579.6v10.0M714.1 584.8h10.0M719.1 579.8v10.0M717.3 584.9h10.0M722.3 579.9v10.0M720.5 585.0h10.0M725.5 580.0v10.0M723.6 585.2h10.0M728.6 580.2v10.0M726.8 585.3h10.0M731.8 580.3v10.0M730.0 585.4h10.0M735.0 580.4v10.0M733.2 585.5h10.0M738.2 580.5v10.0M736.3 585.6h10.0M741.3 580.6v10.0M739.5 585.8h10.0M744.5 580.8v10.0M742.7 585.9h10.0M747.7 580.9v10.0M745.9 586.0h10.0M750.9 581.0v10.0M749.1 586.1h10.0M754.1 581.1v10.0M752.2 586.3h10.0M757.2 581.3v10.0M755.4 587.5h10.0M760.4 582.5v10.0M758.6 588.7h10.0M763.6 583.7v10.0M761.8 589.9h10.0M766.8 584.9v10.0M764.9 590.5h10.0M769.9 585.5v10.0M768.1 591.0h10.0M773.1 586.0v10.0M771.3 591.5h10.0M776.3 586.5v10.0M774.5 592.1h10.0M779.5 587.1v10.0M777.6 593.0h10.0M782.6 588.0v10.0M780.8 595.7h10.0M785.8 590.7v10.0M784.0 598.3h10.0M789.0 593.3v10.0M787.2 598.8h10.0M792.2 593.8v10.0M790.3 598.8h10.0M795.3 593.8v10.0M793.5 598.8h10.0M798.5 593.8v10.0M796.7 598.8h10.0M801.7 593.8v10.0M799.9 598.8h10.0M804.9 593.8v10.0M803.1 598.8h10.0M808.1 593.8v10.0M806.2 598.8h10.0M811.2 593.8v10.0M809.4 598.8h10.0M814.4 593.8v10.0M812.6 598.8h10.0M817.6 593.8v10.0M815.8 598.8h10.0M820.8 593.8v10.0M818.9 599.5h10.0M823.9 594.5v10.0M822.1 600.8h10.0M827.1 595.8v10.0M825.3 600.8h10.0M830.3 595.8v10.0M828.5 600.8h10.0M833.5 595.8v10.0M831.6 600.8h10.0M836.6 595.8v10.0M834.8 600.8h10.0M839.8 595.8v10.0M838.0 600.8h10.0M843.0 595.8v10.0M841.2 600.8h10.0M846.2 595.8v10.0M844.4 600.8h10.0M849.4 595.8v10.0M847.5 600.8h10.0M852.5 595.8v10.0M850.7 600.8h10.0M855.7 595.8v10.0M853.9 600.8h10.0M858.9 595.8v10.0M857.1 600.8h10.0M862.1 595.8v10.0M860.2 600.8h10.0M865.2 595.8v10.0M863.4 600.8h10.0M868.4 595.8v10.0M866.6 600.8h10.0M871.6 595.8v10.0M869.8 600.8h10.0M874.8 595.8v10.0M872.9 600.8h10.0M877.9 595.8v10.0M876.1 600.8h10.0M881.1 595.8v10.0M879.3 600.8h10.0M884.3 595.8v10.0M882.5 600.8h10.0M887.5 595.8v10.0M885.6 600.8h10.0M890.6 595.8v10.0M888.8 600.8h10.0M893.8 595.8v10.0M892.0 600.8h10.0M897.0 595.8v10.0" stroke="#ED0000" stroke-width="1.9" fill="none"/>
<rect x="176.3" y="169.7" width="779.3" height="687.7" fill="none" stroke="#555" stroke-width="1.5"/>
<line x1="212.2" x2="212.2" y1="857.4" y2="862.4" stroke="#333" stroke-width="1.4"/>
<text x="212.2" y="879.9" text-anchor="middle" class="tk">0</text>
<line x1="448.0" x2="448.0" y1="857.4" y2="862.4" stroke="#333" stroke-width="1.4"/>
<text x="448.0" y="879.9" text-anchor="middle" class="tk">500</text>
<line x1="683.9" x2="683.9" y1="857.4" y2="862.4" stroke="#333" stroke-width="1.4"/>
<text x="683.9" y="879.9" text-anchor="middle" class="tk">1000</text>
<line x1="919.7" x2="919.7" y1="857.4" y2="862.4" stroke="#333" stroke-width="1.4"/>
<text x="919.7" y="879.9" text-anchor="middle" class="tk">1500</text>
<line x1="171.3" x2="176.3" y1="826.5" y2="826.5" stroke="#333" stroke-width="1.4"/>
<text x="167.3" y="832.4" text-anchor="end" class="tk">0.00</text>
<line x1="171.3" x2="176.3" y1="670.2" y2="670.2" stroke="#333" stroke-width="1.4"/>
<text x="167.3" y="676.1" text-anchor="end" class="tk">0.25</text>
<line x1="171.3" x2="176.3" y1="514.0" y2="514.0" stroke="#333" stroke-width="1.4"/>
<text x="167.3" y="519.9" text-anchor="end" class="tk">0.50</text>
<line x1="171.3" x2="176.3" y1="357.8" y2="357.8" stroke="#333" stroke-width="1.4"/>
<text x="167.3" y="363.6" text-anchor="end" class="tk">0.75</text>
<line x1="171.3" x2="176.3" y1="201.5" y2="201.5" stroke="#333" stroke-width="1.4"/>
<text x="167.3" y="207.4" text-anchor="end" class="tk">1.00</text>
<text x="566.0" y="900.9" text-anchor="middle" class="ax" style="font-size:18.9px">Time (Dayes)</text>
<text transform="translate(131.8 513.5) rotate(-90)" text-anchor="middle" class="ax" style="font-size:18.2px">Survival Probability</text>
<text x="176.8" y="91.5" class="ti" textLength="284.0" lengthAdjust="spacingAndGlyphs">Kaplan-Meier Curve by Gender</text>
<text x="226.3" y="648.8" class="an">Log-rank</text>
<text x="226.3" y="710.2" class="an">p = 0.26</text>
<text x="412.8" y="136.3" class="lt" textLength="59.0" lengthAdjust="spacingAndGlyphs">Gender</text>
<rect x="481.3" y="114.1" width="27.3" height="26.6" fill="#00468B" fill-opacity="0.3"/>
<path d="M483.4 127.3h23.4M495.1 122.0v10.6" stroke="#00468B" stroke-width="2" fill="none"/>
<text x="519.0" y="135.9" class="ll" textLength="85.6" lengthAdjust="spacingAndGlyphs">Sex=Female</text>
<rect x="613.8" y="114.1" width="27.3" height="26.6" fill="#ED0000" fill-opacity="0.3"/>
<path d="M615.9 127.3h23.4M627.6 122.0v10.6" stroke="#ED0000" stroke-width="2" fill="none"/>
<text x="651.2" y="135.9" class="ll" textLength="65.8" lengthAdjust="spacingAndGlyphs">Sex=Male</text>
<line x1="1187.3" x2="1187.3" y1="169.9" y2="857.4" stroke="#f3f3f3" stroke-width="0.7"/>
<line x1="1423.4" x2="1423.4" y1="169.9" y2="857.4" stroke="#f3f3f3" stroke-width="0.7"/>
<line x1="1659.5" x2="1659.5" y1="169.9" y2="857.4" stroke="#f3f3f3" stroke-width="0.7"/>
<line x1="1033.3" x2="1813.8" y1="748.4" y2="748.4" stroke="#f3f3f3" stroke-width="0.7"/>
<line x1="1033.3" x2="1813.8" y1="592.1" y2="592.1" stroke="#f3f3f3" stroke-width="0.7"/>
<line x1="1033.3" x2="1813.8" y1="435.9" y2="435.9" stroke="#f3f3f3" stroke-width="0.7"/>
<line x1="1033.3" x2="1813.8" y1="279.6" y2="279.6" stroke="#f3f3f3" stroke-width="0.7"/>
<line x1="1069.2" x2="1069.2" y1="169.9" y2="857.4" stroke="#ececec" stroke-width="1.1"/>
<line x1="1305.3" x2="1305.3" y1="169.9" y2="857.4" stroke="#ececec" stroke-width="1.1"/>
<line x1="1541.4" x2="1541.4" y1="169.9" y2="857.4" stroke="#ececec" stroke-width="1.1"/>
<line x1="1777.5" x2="1777.5" y1="169.9" y2="857.4" stroke="#ececec" stroke-width="1.1"/>
<line x1="1033.3" x2="1813.8" y1="826.5" y2="826.5" stroke="#ececec" stroke-width="1.1"/>
<line x1="1033.3" x2="1813.8" y1="670.2" y2="670.2" stroke="#ececec" stroke-width="1.1"/>
<line x1="1033.3" x2="1813.8" y1="514.0" y2="514.0" stroke="#ececec" stroke-width="1.1"/>
<line x1="1033.3" x2="1813.8" y1="357.8" y2="357.8" stroke="#ececec" stroke-width="1.1"/>
<line x1="1033.3" x2="1813.8" y1="201.5" y2="201.5" stroke="#ececec" stroke-width="1.1"/>
<polyline points="1069.4,201.2 1071.2,221.2 1073.8,240.0 1077.5,256.2 1081.2,270.0 1085.0,281.2 1088.8,295.0 1090.0,295.0 1098.8,296.2 1101.2,310.0 1110.0,330.0 1111.2,342.5 1116.2,343.8 1117.5,348.8 1135.0,350.0 1136.2,360.0 1150.0,370.0 1152.5,385.0 1160.0,395.0 1165.0,410.0 1175.0,422.5 1177.5,431.2 1205.0,431.2 1207.5,442.5 1212.5,458.8 1252.5,459.2 1253.8,465.0 1272.5,465.5 1273.8,472.5 1282.5,473.0 1295.0,480.0 1302.5,480.5 1303.8,487.5 1335.0,487.5 1336.2,492.5 1355.0,493.0 1356.2,498.8 1403.8,499.2 1410.0,507.5 1415.0,515.0 1440.0,515.5 1442.5,520.0 1445.0,522.5 1448.8,533.8 1487.5,534.2 1491.2,542.5 1498.8,543.8 1501.2,551.2 1510.0,552.5 1511.2,567.5 1550.0,568.8 1560.0,569.2 1562.5,577.0 1580.0,577.5 1583.8,598.8 1750.0,599.2" fill="none" stroke="#00468B" stroke-width="2.1" stroke-linejoin="round"/>
<polyline points="1069.4,201.2 1073.8,221.2 1078.8,238.8 1083.8,255.0 1088.8,271.2 1093.1,283.1 1097.5,286.9 1102.5,286.9 1110.0,296.2 1116.2,302.5 1118.8,307.5 1121.9,309.4 1125.0,317.5 1130.0,326.2 1135.0,336.2 1140.0,343.8 1146.2,351.2 1150.0,356.9 1153.8,358.1 1158.8,364.6 1160.0,372.5 1170.0,387.5 1177.5,397.5 1190.0,402.5 1205.0,412.5 1215.0,427.5 1227.5,437.5 1237.5,447.5 1247.5,455.0 1260.0,462.5 1275.0,463.8 1282.5,472.5 1295.0,482.5 1302.5,487.5 1317.5,488.8 1325.0,497.5 1337.5,507.5 1350.0,513.8 1365.0,517.5 1370.0,522.5 1375.0,528.8 1385.0,530.0 1390.0,533.8 1397.5,535.0 1403.8,538.8 1415.0,540.0 1425.0,550.0 1462.5,550.0 1467.5,555.0 1475.0,555.8 1570.0,555.8 1572.5,558.5 1687.5,558.5 1688.8,573.8 1746.2,574.5" fill="none" stroke="#ED0000" stroke-width="2.1" stroke-linejoin="round"/>
<polyline points="1069.2,201.8 1073.8,232.5 1080.0,260.0 1087.5,287.5 1097.5,310.0 1110.0,332.5 1117.5,345.0 1127.5,355.0 1137.5,365.0 1147.5,372.5 1155.0,382.5 1162.5,392.5 1170.0,402.5 1180.0,410.0 1185.0,420.0 1192.5,425.0 1200.0,427.5 1205.0,440.0 1215.0,457.5 1220.0,462.5 1232.5,475.0 1245.0,487.5 1257.5,496.2 1270.0,497.5 1280.0,503.8 1295.0,506.2 1305.0,510.0 1315.0,515.0 1330.0,516.2 1337.5,521.2 1362.5,522.5 1370.0,525.0 1387.5,526.2 1400.0,532.5 1405.0,536.2 1417.5,538.8 1427.5,541.2 1445.0,542.5 1450.0,546.2 1462.5,547.5 1467.5,550.0 1490.0,552.5 1525.0,553.8 1532.5,557.5 1547.5,560.0 1557.5,562.5 1590.0,563.8 1612.5,565.0 1625.0,568.8 1640.0,570.0 1645.0,581.2 1682.5,582.0 1685.0,587.5 1700.0,588.8 1757.5,589.5" fill="none" stroke="#42B540" stroke-width="2.1" stroke-linejoin="round"/>
<polyline points="1069.4,201.2 1070.6,227.5 1072.5,246.2 1075.0,262.5 1078.8,280.0 1082.5,293.8 1086.2,306.2 1090.0,317.5 1093.8,328.8 1097.5,338.8 1101.2,347.5 1105.0,355.0 1110.0,364.6 1115.0,380.0 1121.2,395.0 1132.5,401.2 1137.5,417.5 1145.0,430.0 1147.5,437.5 1160.0,447.5 1167.5,460.0 1180.0,467.5 1185.0,480.0 1192.5,495.0 1202.5,503.8 1212.5,513.8 1222.5,527.5 1237.5,535.0 1245.0,548.8 1257.5,550.0 1267.5,556.2 1277.5,557.5 1287.5,563.8 1312.5,564.5 1320.0,571.2 1342.5,572.0 1350.0,578.8 1357.5,582.5 1377.5,583.8 1382.5,586.2 1420.0,587.0 1427.5,590.0 1435.0,596.2 1442.5,598.8 1490.0,599.5 1492.5,602.5 1505.0,603.0 1510.0,607.5 1542.5,608.0 1547.5,611.2 1557.5,612.5 1565.0,616.2 1641.2,616.8 1643.8,623.0 1751.2,623.8" fill="none" stroke="#0099B4" stroke-width="2.1" stroke-linejoin="round"/>
<polygon points="1069.4,201.5 1071.2,201.5 1071.2,201.5 1073.8,201.5 1073.8,208.5 1074.4,208.5 1074.4,210.2 1077.5,210.2 1077.5,219.0 1079.4,219.0 1079.4,223.7 1081.2,223.7 1081.2,228.6 1084.4,228.6 1084.4,235.5 1085.0,235.5 1085.0,236.9 1088.8,236.9 1088.8,247.4 1089.4,247.4 1089.4,247.4 1090.0,247.4 1090.0,247.4 1094.4,247.4 1094.4,247.9 1098.8,247.9 1098.8,248.4 1099.4,248.4 1099.4,251.1 1101.2,251.1 1101.2,259.3 1104.4,259.3 1104.4,265.1 1109.4,265.1 1109.4,274.4 1110.0,274.4 1110.0,275.6 1111.2,275.6 1111.2,286.1 1114.4,286.1 1114.4,286.7 1116.2,286.7 1116.2,287.1 1117.5,287.1 1117.5,291.4 1119.4,291.4 1119.4,291.5 1124.4,291.5 1124.4,291.8 1129.4,291.8 1129.4,292.1 1134.4,292.1 1134.4,292.4 1135.0,292.4 1135.0,292.4 1136.2,292.4 1136.2,301.0 1139.4,301.0 1139.4,303.0 1144.4,303.0 1144.4,306.1 1149.4,306.1 1149.4,309.3 1150.0,309.3 1150.0,309.7 1152.5,309.7 1152.5,322.8 1154.4,322.8 1154.4,325.1 1159.4,325.1 1159.4,331.0 1160.0,331.0 1160.0,331.7 1164.4,331.7 1164.4,343.5 1165.0,343.5 1165.0,345.2 1169.4,345.2 1169.4,350.2 1174.4,350.2 1174.4,355.9 1175.0,355.9 1175.0,356.6 1177.5,356.6 1177.5,364.6 1179.4,364.6 1179.4,364.6 1184.4,364.6 1184.4,364.6 1189.4,364.6 1189.4,364.6 1194.4,364.6 1194.4,364.6 1199.4,364.6 1199.4,364.6 1204.4,364.6 1204.4,364.6 1205.0,364.6 1205.0,364.6 1207.5,364.6 1207.5,375.0 1209.4,375.0 1209.4,380.7 1212.5,380.7 1212.5,390.2 1214.4,390.2 1214.4,390.2 1219.4,390.2 1219.4,390.3 1224.4,390.3 1224.4,390.4 1229.4,390.4 1229.4,390.5 1234.4,390.5 1234.4,390.5 1239.4,390.5 1239.4,390.6 1244.4,390.6 1244.4,390.7 1249.4,390.7 1249.4,390.8 1252.5,390.8 1252.5,390.8 1253.8,390.8 1253.8,396.1 1254.4,396.1 1254.4,396.1 1259.4,396.1 1259.4,396.2 1264.4,396.2 1264.4,396.4 1269.4,396.4 1269.4,396.5 1272.5,396.5 1272.5,396.6 1273.8,396.6 1273.8,403.2 1274.4,403.2 1274.4,403.2 1279.4,403.2 1279.4,403.5 1282.5,403.5 1282.5,403.7 1284.4,403.7 1284.4,404.7 1289.4,404.7 1289.4,407.3 1294.4,407.3 1294.4,410.0 1295.0,410.0 1295.0,410.3 1299.4,410.3 1299.4,410.6 1302.5,410.6 1302.5,410.8 1303.8,410.8 1303.8,417.5 1304.4,417.5 1304.4,417.5 1309.4,417.5 1309.4,417.5 1314.4,417.5 1314.4,417.5 1319.4,417.5 1319.4,417.5 1324.4,417.5 1324.4,417.5 1329.4,417.5 1329.4,417.5 1334.4,417.5 1334.4,417.5 1335.0,417.5 1335.0,417.5 1336.2,417.5 1336.2,422.3 1339.4,422.3 1339.4,422.4 1344.4,422.4 1344.4,422.5 1349.4,422.5 1349.4,422.6 1354.4,422.6 1354.4,422.8 1355.0,422.8 1355.0,422.8 1356.2,422.8 1356.2,428.3 1359.4,428.3 1359.4,428.4 1364.4,428.4 1364.4,428.4 1369.4,428.4 1369.4,428.5 1374.4,428.5 1374.4,428.6 1379.4,428.6 1379.4,428.6 1384.4,428.6 1384.4,428.7 1389.4,428.7 1389.4,428.8 1394.4,428.8 1394.4,428.8 1399.4,428.8 1399.4,428.9 1403.8,428.9 1403.8,428.9 1404.4,428.9 1404.4,429.6 1409.4,429.6 1409.4,436.0 1410.0,436.0 1410.0,436.8 1414.4,436.8 1414.4,443.2 1415.0,443.2 1415.0,444.1 1419.4,444.1 1419.4,444.1 1424.4,444.1 1424.4,444.1 1429.4,444.1 1429.4,444.1 1434.4,444.1 1434.4,444.1 1439.4,444.1 1439.4,444.1 1440.0,444.1 1440.0,444.1 1442.5,444.1 1442.5,448.5 1444.4,448.5 1444.4,450.3 1445.0,450.3 1445.0,450.9 1448.8,450.9 1448.8,461.9 1449.4,461.9 1449.4,461.9 1454.4,461.9 1454.4,461.9 1459.4,461.9 1459.4,461.8 1464.4,461.8 1464.4,461.8 1469.4,461.8 1469.4,461.8 1474.4,461.8 1474.4,461.7 1479.4,461.7 1479.4,461.7 1484.4,461.7 1484.4,461.7 1487.5,461.7 1487.5,461.7 1489.4,461.7 1489.4,465.7 1491.2,465.7 1491.2,469.7 1494.4,469.7 1494.4,470.2 1498.8,470.2 1498.8,470.8 1499.4,470.8 1499.4,472.7 1501.2,472.7 1501.2,478.3 1504.4,478.3 1504.4,478.6 1509.4,478.6 1509.4,479.3 1510.0,479.3 1510.0,479.3 1511.2,479.3 1511.2,494.4 1514.4,494.4 1514.4,494.4 1519.4,494.4 1519.4,494.5 1524.4,494.5 1524.4,494.5 1529.4,494.5 1529.4,494.6 1534.4,494.6 1534.4,494.7 1539.4,494.7 1539.4,494.7 1544.4,494.7 1544.4,494.8 1549.4,494.8 1549.4,494.8 1550.0,494.8 1550.0,494.9 1554.4,494.9 1554.4,495.0 1559.4,495.0 1559.4,495.1 1560.0,495.1 1560.0,495.2 1562.5,495.2 1562.5,502.9 1564.4,502.9 1564.4,503.0 1569.4,503.0 1569.4,503.0 1574.4,503.0 1574.4,503.0 1579.4,503.0 1579.4,503.1 1580.0,503.1 1580.0,503.1 1583.8,503.1 1583.8,524.7 1584.4,524.7 1584.4,524.8 1589.4,524.8 1589.4,524.8 1594.4,524.8 1594.4,524.8 1599.4,524.8 1599.4,524.8 1604.4,524.8 1604.4,524.8 1609.4,524.8 1609.4,524.9 1614.4,524.9 1614.4,524.9 1619.4,524.9 1619.4,524.9 1624.4,524.9 1624.4,524.9 1629.4,524.9 1629.4,524.9 1634.4,524.9 1634.4,525.0 1639.4,525.0 1639.4,525.0 1644.4,525.0 1644.4,525.0 1649.4,525.0 1649.4,525.0 1654.4,525.0 1654.4,525.0 1659.4,525.0 1659.4,525.1 1664.4,525.1 1664.4,525.1 1669.4,525.1 1669.4,525.1 1674.4,525.1 1674.4,525.1 1679.4,525.1 1679.4,525.1 1684.4,525.1 1684.4,525.1 1689.4,525.1 1689.4,525.2 1694.4,525.2 1694.4,525.2 1699.4,525.2 1699.4,525.2 1704.4,525.2 1704.4,525.2 1709.4,525.2 1709.4,525.2 1714.4,525.2 1714.4,525.3 1719.4,525.3 1719.4,525.3 1724.4,525.3 1724.4,525.3 1729.4,525.3 1729.4,525.3 1734.4,525.3 1734.4,525.3 1739.4,525.3 1739.4,525.4 1744.4,525.4 1744.4,525.4 1746.0,525.4 1746.0,525.4 1746.0,655.0 1746.0,655.0 1744.4,655.0 1744.4,655.0 1739.4,655.0 1739.4,654.9 1734.4,654.9 1734.4,654.9 1729.4,654.9 1729.4,654.9 1724.4,654.9 1724.4,654.9 1719.4,654.9 1719.4,654.9 1714.4,654.9 1714.4,654.9 1709.4,654.9 1709.4,654.9 1704.4,654.9 1704.4,654.9 1699.4,654.9 1699.4,654.9 1694.4,654.9 1694.4,654.8 1689.4,654.8 1689.4,654.8 1684.4,654.8 1684.4,654.8 1679.4,654.8 1679.4,654.8 1674.4,654.8 1674.4,654.8 1669.4,654.8 1669.4,654.8 1664.4,654.8 1664.4,654.8 1659.4,654.8 1659.4,654.8 1654.4,654.8 1654.4,654.8 1649.4,654.8 1649.4,654.7 1644.4,654.7 1644.4,654.7 1639.4,654.7 1639.4,654.7 1634.4,654.7 1634.4,654.7 1629.4,654.7 1629.4,654.7 1624.4,654.7 1624.4,654.7 1619.4,654.7 1619.4,654.7 1614.4,654.7 1614.4,654.7 1609.4,654.7 1609.4,654.6 1604.4,654.6 1604.4,654.6 1599.4,654.6 1599.4,654.6 1594.4,654.6 1594.4,654.6 1589.4,654.6 1589.4,654.6 1584.4,654.6 1584.4,654.6 1583.8,654.6 1583.8,634.8 1580.0,634.8 1580.0,634.8 1579.4,634.8 1579.4,634.6 1574.4,634.6 1574.4,634.4 1569.4,634.4 1569.4,634.2 1564.4,634.2 1564.4,634.1 1562.5,634.1 1562.5,626.8 1560.0,626.8 1560.0,626.8 1559.4,626.8 1559.4,626.5 1554.4,626.5 1554.4,626.2 1550.0,626.2 1550.0,626.2 1549.4,626.2 1549.4,625.9 1544.4,625.9 1544.4,625.7 1539.4,625.7 1539.4,625.5 1534.4,625.5 1534.4,625.3 1529.4,625.3 1529.4,625.1 1524.4,625.1 1524.4,624.9 1519.4,624.9 1519.4,624.7 1514.4,624.7 1514.4,624.5 1511.2,624.5 1511.2,610.3 1510.0,610.3 1510.0,610.2 1509.4,610.2 1509.4,609.4 1504.4,609.4 1504.4,608.9 1501.2,608.9 1501.2,603.5 1499.4,603.5 1499.4,601.7 1498.8,601.7 1498.8,601.0 1494.4,601.0 1494.4,600.4 1491.2,600.4 1491.2,596.4 1489.4,596.4 1489.4,592.4 1487.5,592.4 1487.5,592.3 1484.4,592.3 1484.4,592.2 1479.4,592.2 1479.4,592.1 1474.4,592.1 1474.4,592.0 1469.4,592.0 1469.4,591.8 1464.4,591.8 1464.4,591.7 1459.4,591.7 1459.4,591.6 1454.4,591.6 1454.4,591.5 1449.4,591.5 1449.4,591.4 1448.8,591.4 1448.8,580.5 1445.0,580.5 1445.0,579.8 1444.4,579.8 1444.4,578.0 1442.5,578.0 1442.5,573.5 1440.0,573.5 1440.0,573.5 1439.4,573.5 1439.4,573.4 1434.4,573.4 1434.4,573.2 1429.4,573.2 1429.4,573.0 1424.4,573.0 1424.4,572.9 1419.4,572.9 1419.4,572.8 1415.0,572.8 1415.0,571.8 1414.4,571.8 1414.4,565.4 1410.0,565.4 1410.0,564.6 1409.4,564.6 1409.4,558.0 1404.4,558.0 1404.4,557.1 1403.8,557.1 1403.8,557.1 1399.4,557.1 1399.4,557.0 1394.4,557.0 1394.4,557.0 1389.4,557.0 1389.4,557.0 1384.4,557.0 1384.4,556.9 1379.4,556.9 1379.4,556.9 1374.4,556.9 1374.4,556.8 1369.4,556.8 1369.4,556.8 1364.4,556.8 1364.4,556.7 1359.4,556.7 1359.4,556.7 1356.2,556.7 1356.2,551.0 1355.0,551.0 1355.0,551.0 1354.4,551.0 1354.4,550.8 1349.4,550.8 1349.4,550.7 1344.4,550.7 1344.4,550.6 1339.4,550.6 1339.4,550.5 1336.2,550.5 1336.2,545.5 1335.0,545.5 1335.0,545.5 1334.4,545.5 1334.4,545.5 1329.4,545.5 1329.4,545.5 1324.4,545.5 1324.4,545.5 1319.4,545.5 1319.4,545.5 1314.4,545.5 1314.4,545.5 1309.4,545.5 1309.4,545.5 1304.4,545.5 1304.4,545.5 1303.8,545.5 1303.8,538.5 1302.5,538.5 1302.5,538.3 1299.4,538.3 1299.4,538.0 1295.0,538.0 1295.0,537.7 1294.4,537.7 1294.4,534.8 1289.4,534.8 1289.4,532.0 1284.4,532.0 1284.4,531.0 1282.5,531.0 1282.5,530.8 1279.4,530.8 1279.4,530.5 1274.4,530.5 1274.4,530.5 1273.8,530.5 1273.8,523.4 1272.5,523.4 1272.5,523.3 1269.4,523.3 1269.4,523.2 1264.4,523.2 1264.4,523.0 1259.4,523.0 1259.4,522.9 1254.4,522.9 1254.4,522.9 1253.8,522.9 1253.8,516.9 1252.5,516.9 1252.5,516.9 1249.4,516.9 1249.4,516.9 1244.4,516.9 1244.4,516.8 1239.4,516.8 1239.4,516.8 1234.4,516.8 1234.4,516.7 1229.4,516.7 1229.4,516.6 1224.4,516.6 1224.4,516.6 1219.4,516.6 1219.4,516.5 1214.4,516.5 1214.4,516.5 1212.5,516.5 1212.5,506.2 1209.4,506.2 1209.4,499.9 1207.5,499.9 1207.5,488.3 1205.0,488.3 1205.0,488.3 1204.4,488.3 1204.4,488.3 1199.4,488.3 1199.4,488.3 1194.4,488.3 1194.4,488.3 1189.4,488.3 1189.4,488.3 1184.4,488.3 1184.4,488.3 1179.4,488.3 1179.4,488.3 1177.5,488.3 1177.5,479.2 1175.0,479.2 1175.0,478.4 1174.4,478.4 1174.4,471.8 1169.4,471.8 1169.4,466.1 1165.0,466.1 1165.0,464.1 1164.4,464.1 1164.4,450.2 1160.0,450.2 1160.0,449.3 1159.4,449.3 1159.4,442.2 1154.4,442.2 1154.4,439.5 1152.5,439.5 1152.5,423.3 1150.0,423.3 1150.0,422.8 1149.4,422.8 1149.4,418.8 1144.4,418.8 1144.4,414.9 1139.4,414.9 1139.4,412.4 1136.2,412.4 1136.2,401.4 1135.0,401.4 1135.0,401.3 1134.4,401.3 1134.4,400.9 1129.4,400.9 1129.4,400.5 1124.4,400.5 1124.4,400.1 1119.4,400.1 1119.4,400.0 1117.5,400.0 1117.5,394.4 1116.2,394.4 1116.2,393.9 1114.4,393.9 1114.4,393.0 1111.2,393.0 1111.2,379.0 1110.0,379.0 1110.0,377.4 1109.4,377.4 1109.4,364.4 1104.4,364.4 1104.4,356.2 1101.2,356.2 1101.2,344.2 1099.4,344.2 1099.4,340.1 1098.8,340.1 1098.8,339.4 1094.4,339.4 1094.4,338.7 1090.0,338.7 1090.0,338.7 1089.4,338.7 1089.4,338.7 1088.8,338.7 1088.8,322.2 1085.0,322.2 1085.0,320.0 1084.4,320.0 1084.4,308.5 1081.2,308.5 1081.2,300.0 1079.4,300.0 1079.4,291.2 1077.5,291.2 1077.5,273.6 1074.4,273.6 1074.4,269.9 1073.8,269.9 1073.8,243.2 1071.2,243.2 1071.2,201.5 1069.4,201.5" fill="#00468B" fill-opacity="0.3"/>
<polygon points="1069.4,201.5 1073.8,201.5 1073.8,205.5 1074.4,205.5 1074.4,206.9 1078.8,206.9 1078.8,217.3 1079.4,217.3 1079.4,218.8 1083.8,218.8 1083.8,229.6 1084.4,229.6 1084.4,231.2 1088.8,231.2 1088.8,242.5 1089.4,242.5 1089.4,243.9 1093.1,243.9 1093.1,252.3 1094.4,252.3 1094.4,253.2 1097.5,253.2 1097.5,255.5 1099.4,255.5 1099.4,255.5 1102.5,255.5 1102.5,255.5 1104.4,255.5 1104.4,257.5 1109.4,257.5 1109.4,262.7 1110.0,262.7 1110.0,263.4 1114.4,263.4 1114.4,267.1 1116.2,267.1 1116.2,268.7 1118.8,268.7 1118.8,273.1 1119.4,273.1 1119.4,273.4 1121.9,273.4 1121.9,274.7 1124.4,274.7 1124.4,280.3 1125.0,280.3 1125.0,281.7 1129.4,281.7 1129.4,288.5 1130.0,288.5 1130.0,289.4 1134.4,289.4 1134.4,297.2 1135.0,297.2 1135.0,298.3 1139.4,298.3 1139.4,304.2 1140.0,304.2 1140.0,305.0 1144.4,305.0 1144.4,309.7 1146.2,309.7 1146.2,311.8 1149.4,311.8 1149.4,316.0 1150.0,316.0 1150.0,316.9 1153.8,316.9 1153.8,318.0 1154.4,318.0 1154.4,318.7 1158.8,318.7 1158.8,323.9 1159.4,323.9 1159.4,327.5 1160.0,327.5 1160.0,331.1 1164.4,331.1 1164.4,337.1 1169.4,337.1 1169.4,344.1 1170.0,344.1 1170.0,344.9 1174.4,344.9 1174.4,350.3 1177.5,350.3 1177.5,354.2 1179.4,354.2 1179.4,354.9 1184.4,354.9 1184.4,356.8 1189.4,356.8 1189.4,358.7 1190.0,358.7 1190.0,358.9 1194.4,358.9 1194.4,361.6 1199.4,361.6 1199.4,364.7 1204.4,364.7 1204.4,367.9 1205.0,367.9 1205.0,368.3 1209.4,368.3 1209.4,374.5 1214.4,374.5 1214.4,381.6 1215.0,381.6 1215.0,382.4 1219.4,382.4 1219.4,385.8 1224.4,385.8 1224.4,389.6 1227.5,389.6 1227.5,391.9 1229.4,391.9 1229.4,393.7 1234.4,393.7 1234.4,398.5 1237.5,398.5 1237.5,401.5 1239.4,401.5 1239.4,402.8 1244.4,402.8 1244.4,406.4 1247.5,406.4 1247.5,408.7 1249.4,408.7 1249.4,409.8 1254.4,409.8 1254.4,412.7 1259.4,412.7 1259.4,415.6 1260.0,415.6 1260.0,415.9 1264.4,415.9 1264.4,416.3 1269.4,416.3 1269.4,416.7 1274.4,416.7 1274.4,417.1 1275.0,417.1 1275.0,417.1 1279.4,417.1 1279.4,422.1 1282.5,422.1 1282.5,425.6 1284.4,425.6 1284.4,427.1 1289.4,427.1 1289.4,430.9 1294.4,430.9 1294.4,434.8 1295.0,434.8 1295.0,435.3 1299.4,435.3 1299.4,438.2 1302.5,438.2 1302.5,440.2 1304.4,440.2 1304.4,440.4 1309.4,440.4 1309.4,440.8 1314.4,440.8 1314.4,441.2 1317.5,441.2 1317.5,441.4 1319.4,441.4 1319.4,443.6 1324.4,443.6 1324.4,449.3 1325.0,449.3 1325.0,450.0 1329.4,450.0 1329.4,453.4 1334.4,453.4 1334.4,457.4 1337.5,457.4 1337.5,459.8 1339.4,459.8 1339.4,460.8 1344.4,460.8 1344.4,463.2 1349.4,463.2 1349.4,465.7 1350.0,465.7 1350.0,466.0 1354.4,466.0 1354.4,467.1 1359.4,467.1 1359.4,468.3 1364.4,468.3 1364.4,469.6 1365.0,469.6 1365.0,469.7 1369.4,469.7 1369.4,474.1 1370.0,474.1 1370.0,474.7 1374.4,474.7 1374.4,480.1 1375.0,480.1 1375.0,480.9 1379.4,480.9 1379.4,481.4 1384.4,481.4 1384.4,482.1 1385.0,482.1 1385.0,482.1 1389.4,482.1 1389.4,485.4 1390.0,485.4 1390.0,485.9 1394.4,485.9 1394.4,486.6 1397.5,486.6 1397.5,487.1 1399.4,487.1 1399.4,488.2 1403.8,488.2 1403.8,490.9 1404.4,490.9 1404.4,490.9 1409.4,490.9 1409.4,491.5 1414.4,491.5 1414.4,492.0 1415.0,492.0 1415.0,492.1 1419.4,492.1 1419.4,496.4 1424.4,496.4 1424.4,501.3 1425.0,501.3 1425.0,501.9 1429.4,501.9 1429.4,501.9 1434.4,501.9 1434.4,501.9 1439.4,501.9 1439.4,501.9 1444.4,501.9 1444.4,501.9 1449.4,501.9 1449.4,501.9 1454.4,501.9 1454.4,501.9 1459.4,501.9 1459.4,501.9 1462.5,501.9 1462.5,501.9 1464.4,501.9 1464.4,502.9 1467.5,502.9 1467.5,506.0 1469.4,506.0 1469.4,506.1 1474.4,506.1 1474.4,506.5 1475.0,506.5 1475.0,506.6 1479.4,506.6 1479.4,506.6 1484.4,506.6 1484.4,506.6 1489.4,506.6 1489.4,506.6 1494.4,506.6 1494.4,506.6 1499.4,506.6 1499.4,506.6 1504.4,506.6 1504.4,506.6 1509.4,506.6 1509.4,506.6 1514.4,506.6 1514.4,506.6 1519.4,506.6 1519.4,506.6 1524.4,506.6 1524.4,506.6 1529.4,506.6 1529.4,506.6 1534.4,506.6 1534.4,506.6 1539.4,506.6 1539.4,506.6 1544.4,506.6 1544.4,506.6 1549.4,506.6 1549.4,506.6 1554.4,506.6 1554.4,506.6 1559.4,506.6 1559.4,506.6 1564.4,506.6 1564.4,506.6 1569.4,506.6 1569.4,506.6 1570.0,506.6 1570.0,506.6 1572.5,506.6 1572.5,506.9 1574.4,506.9 1574.4,506.9 1579.4,506.9 1579.4,506.9 1584.4,506.9 1584.4,506.9 1589.4,506.9 1589.4,506.9 1594.4,506.9 1594.4,506.9 1599.4,506.9 1599.4,506.9 1604.4,506.9 1604.4,506.9 1609.4,506.9 1609.4,506.9 1614.4,506.9 1614.4,506.9 1619.4,506.9 1619.4,506.9 1624.4,506.9 1624.4,506.9 1629.4,506.9 1629.4,506.9 1634.4,506.9 1634.4,506.9 1639.4,506.9 1639.4,506.9 1644.4,506.9 1644.4,506.9 1649.4,506.9 1649.4,506.9 1654.4,506.9 1654.4,506.9 1659.4,506.9 1659.4,506.9 1664.4,506.9 1664.4,506.9 1669.4,506.9 1669.4,506.9 1674.4,506.9 1674.4,506.9 1679.4,506.9 1679.4,506.9 1684.4,506.9 1684.4,506.9 1687.5,506.9 1687.5,506.9 1688.8,506.9 1688.8,519.0 1689.4,519.0 1689.4,519.0 1694.4,519.0 1694.4,518.9 1699.4,518.9 1699.4,518.8 1704.4,518.8 1704.4,518.7 1709.4,518.7 1709.4,518.6 1714.4,518.6 1714.4,518.5 1719.4,518.5 1719.4,518.4 1724.4,518.4 1724.4,518.3 1729.4,518.3 1729.4,518.2 1734.4,518.2 1734.4,518.0 1739.4,518.0 1739.4,517.9 1742.2,517.9 1742.2,518.0 1742.2,620.6 1742.2,620.5 1739.4,620.5 1739.4,620.4 1734.4,620.4 1734.4,620.2 1729.4,620.2 1729.4,620.0 1724.4,620.0 1724.4,619.8 1719.4,619.8 1719.4,619.7 1714.4,619.7 1714.4,619.5 1709.4,619.5 1709.4,619.3 1704.4,619.3 1704.4,619.1 1699.4,619.1 1699.4,619.0 1694.4,619.0 1694.4,618.8 1689.4,618.8 1689.4,618.8 1688.8,618.8 1688.8,601.8 1687.5,601.8 1687.5,601.8 1684.4,601.8 1684.4,601.8 1679.4,601.8 1679.4,601.8 1674.4,601.8 1674.4,601.8 1669.4,601.8 1669.4,601.8 1664.4,601.8 1664.4,601.8 1659.4,601.8 1659.4,601.8 1654.4,601.8 1654.4,601.8 1649.4,601.8 1649.4,601.8 1644.4,601.8 1644.4,601.8 1639.4,601.8 1639.4,601.8 1634.4,601.8 1634.4,601.8 1629.4,601.8 1629.4,601.8 1624.4,601.8 1624.4,601.8 1619.4,601.8 1619.4,601.8 1614.4,601.8 1614.4,601.8 1609.4,601.8 1609.4,601.8 1604.4,601.8 1604.4,601.8 1599.4,601.8 1599.4,601.8 1594.4,601.8 1594.4,601.8 1589.4,601.8 1589.4,601.8 1584.4,601.8 1584.4,601.8 1579.4,601.8 1579.4,601.8 1574.4,601.8 1574.4,601.8 1572.5,601.8 1572.5,597.4 1570.0,597.4 1570.0,597.4 1569.4,597.4 1569.4,597.4 1564.4,597.4 1564.4,597.4 1559.4,597.4 1559.4,597.4 1554.4,597.4 1554.4,597.4 1549.4,597.4 1549.4,597.4 1544.4,597.4 1544.4,597.4 1539.4,597.4 1539.4,597.4 1534.4,597.4 1534.4,597.4 1529.4,597.4 1529.4,597.4 1524.4,597.4 1524.4,597.4 1519.4,597.4 1519.4,597.4 1514.4,597.4 1514.4,597.4 1509.4,597.4 1509.4,597.4 1504.4,597.4 1504.4,597.4 1499.4,597.4 1499.4,597.4 1494.4,597.4 1494.4,597.4 1489.4,597.4 1489.4,597.4 1484.4,597.4 1484.4,597.4 1479.4,597.4 1479.4,597.4 1475.0,597.4 1475.0,597.3 1474.4,597.3 1474.4,596.7 1469.4,596.7 1469.4,596.5 1467.5,596.5 1467.5,593.4 1464.4,593.4 1464.4,591.0 1462.5,591.0 1462.5,591.0 1459.4,591.0 1459.4,591.0 1454.4,591.0 1454.4,591.0 1449.4,591.0 1449.4,591.0 1444.4,591.0 1444.4,591.0 1439.4,591.0 1439.4,591.0 1434.4,591.0 1434.4,591.0 1429.4,591.0 1429.4,591.0 1425.0,591.0 1425.0,590.4 1424.4,590.4 1424.4,585.4 1419.4,585.4 1419.4,581.0 1415.0,581.0 1415.0,581.0 1414.4,581.0 1414.4,580.4 1409.4,580.4 1409.4,579.9 1404.4,579.9 1404.4,579.8 1403.8,579.8 1403.8,577.2 1399.4,577.2 1399.4,576.1 1397.5,576.1 1397.5,575.6 1394.4,575.6 1394.4,574.9 1390.0,574.9 1390.0,574.4 1389.4,574.4 1389.4,571.2 1385.0,571.2 1385.0,571.1 1384.4,571.1 1384.4,570.5 1379.4,570.5 1379.4,570.0 1375.0,570.0 1375.0,569.2 1374.4,569.2 1374.4,563.8 1370.0,563.8 1370.0,563.2 1369.4,563.2 1369.4,558.9 1365.0,558.9 1365.0,558.7 1364.4,558.7 1364.4,557.5 1359.4,557.5 1359.4,556.3 1354.4,556.3 1354.4,555.2 1350.0,555.2 1350.0,554.9 1349.4,554.9 1349.4,552.4 1344.4,552.4 1344.4,549.9 1339.4,549.9 1339.4,549.0 1337.5,549.0 1337.5,546.5 1334.4,546.5 1334.4,542.5 1329.4,542.5 1329.4,539.0 1325.0,539.0 1325.0,538.3 1324.4,538.3 1324.4,532.5 1319.4,532.5 1319.4,530.3 1317.5,530.3 1317.5,530.0 1314.4,530.0 1314.4,529.6 1309.4,529.6 1309.4,529.2 1304.4,529.2 1304.4,529.0 1302.5,529.0 1302.5,526.9 1299.4,526.9 1299.4,524.0 1295.0,524.0 1295.0,523.5 1294.4,523.5 1294.4,519.5 1289.4,519.5 1289.4,515.4 1284.4,515.4 1284.4,513.9 1282.5,513.9 1282.5,510.2 1279.4,510.2 1279.4,505.1 1275.0,505.1 1275.0,505.0 1274.4,505.0 1274.4,504.6 1269.4,504.6 1269.4,504.2 1264.4,504.2 1264.4,503.8 1260.0,503.8 1260.0,503.4 1259.4,503.4 1259.4,500.4 1254.4,500.4 1254.4,497.3 1249.4,497.3 1249.4,496.2 1247.5,496.2 1247.5,493.8 1244.4,493.8 1244.4,490.0 1239.4,490.0 1239.4,488.5 1237.5,488.5 1237.5,485.3 1234.4,485.3 1234.4,480.2 1229.4,480.2 1229.4,478.3 1227.5,478.3 1227.5,475.7 1224.4,475.7 1224.4,471.6 1219.4,471.6 1219.4,468.0 1215.0,468.0 1215.0,467.0 1214.4,467.0 1214.4,459.3 1209.4,459.3 1209.4,452.5 1205.0,452.5 1205.0,452.0 1204.4,452.0 1204.4,448.6 1199.4,448.6 1199.4,445.1 1194.4,445.1 1194.4,442.0 1190.0,442.0 1190.0,441.8 1189.4,441.8 1189.4,439.7 1184.4,439.7 1184.4,437.6 1179.4,437.6 1179.4,436.8 1177.5,436.8 1177.5,432.4 1174.4,432.4 1174.4,426.3 1170.0,426.3 1170.0,425.3 1169.4,425.3 1169.4,417.4 1164.4,417.4 1164.4,410.4 1160.0,410.4 1160.0,406.3 1159.4,406.3 1159.4,402.1 1158.8,402.1 1158.8,396.0 1154.4,396.0 1154.4,395.1 1153.8,395.1 1153.8,393.8 1150.0,393.8 1150.0,392.8 1149.4,392.8 1149.4,387.7 1146.2,387.7 1146.2,385.3 1144.4,385.3 1144.4,379.6 1140.0,379.6 1140.0,378.6 1139.4,378.6 1139.4,371.5 1135.0,371.5 1135.0,370.1 1134.4,370.1 1134.4,360.5 1130.0,360.5 1130.0,359.3 1129.4,359.3 1129.4,350.9 1125.0,350.9 1125.0,349.1 1124.4,349.1 1124.4,341.9 1121.9,341.9 1121.9,340.2 1119.4,340.2 1119.4,339.8 1118.8,339.8 1118.8,334.2 1116.2,334.2 1116.2,332.1 1114.4,332.1 1114.4,327.2 1110.0,327.2 1110.0,326.3 1109.4,326.3 1109.4,319.2 1104.4,319.2 1104.4,316.5 1102.5,316.5 1102.5,316.5 1099.4,316.5 1099.4,316.5 1097.5,316.5 1097.5,313.5 1094.4,313.5 1094.4,312.2 1093.1,312.2 1093.1,300.5 1089.4,300.5 1089.4,298.5 1088.8,298.5 1088.8,281.8 1084.4,281.8 1084.4,279.3 1083.8,279.3 1083.8,262.0 1079.4,262.0 1079.4,259.4 1078.8,259.4 1078.8,239.6 1074.4,239.6 1074.4,236.6 1073.8,236.6 1073.8,201.5 1069.4,201.5" fill="#ED0000" fill-opacity="0.3"/>
<polygon points="1069.2,201.5 1073.8,201.5 1073.8,215.4 1074.2,215.4 1074.2,217.1 1079.2,217.1 1079.2,234.3 1080.0,234.3 1080.0,237.0 1084.2,237.0 1084.2,250.0 1087.5,250.0 1087.5,260.1 1089.2,260.1 1089.2,263.5 1094.2,263.5 1094.2,273.4 1097.5,273.4 1097.5,279.8 1099.2,279.8 1099.2,282.6 1104.2,282.6 1104.2,290.6 1109.2,290.6 1109.2,298.7 1110.0,298.7 1110.0,299.9 1114.2,299.9 1114.2,306.4 1117.5,306.4 1117.5,311.3 1119.2,311.3 1119.2,312.9 1124.2,312.9 1124.2,317.5 1127.5,317.5 1127.5,320.4 1129.2,320.4 1129.2,322.1 1134.2,322.1 1134.2,326.7 1137.5,326.7 1137.5,329.7 1139.2,329.7 1139.2,330.9 1144.2,330.9 1144.2,334.4 1147.5,334.4 1147.5,336.6 1149.2,336.6 1149.2,338.8 1154.2,338.8 1154.2,345.0 1155.0,345.0 1155.0,345.9 1159.2,345.9 1159.2,351.2 1162.5,351.2 1162.5,355.3 1164.2,355.3 1164.2,357.5 1169.2,357.5 1169.2,363.8 1170.0,363.8 1170.0,364.7 1174.2,364.7 1174.2,367.7 1179.2,367.7 1179.2,371.3 1180.0,371.3 1180.0,371.8 1184.2,371.8 1184.2,379.9 1185.0,379.9 1185.0,381.3 1189.2,381.3 1189.2,384.0 1192.5,384.0 1192.5,386.1 1194.2,386.1 1194.2,386.7 1199.2,386.7 1199.2,388.2 1200.0,388.2 1200.0,388.5 1204.2,388.5 1204.2,398.7 1205.0,398.7 1205.0,400.5 1209.2,400.5 1209.2,407.6 1214.2,407.6 1214.2,416.1 1215.0,416.1 1215.0,417.4 1219.2,417.4 1219.2,421.5 1220.0,421.5 1220.0,422.2 1224.2,422.2 1224.2,426.3 1229.2,426.3 1229.2,431.2 1232.5,431.2 1232.5,434.4 1234.2,434.4 1234.2,436.1 1239.2,436.1 1239.2,441.0 1244.2,441.0 1244.2,445.9 1245.0,445.9 1245.0,446.6 1249.2,446.6 1249.2,449.5 1254.2,449.5 1254.2,453.0 1257.5,453.0 1257.5,455.2 1259.2,455.2 1259.2,455.4 1264.2,455.4 1264.2,455.9 1269.2,455.9 1269.2,456.4 1270.0,456.4 1270.0,456.5 1274.2,456.5 1274.2,459.1 1279.2,459.1 1279.2,462.2 1280.0,462.2 1280.0,462.6 1284.2,462.6 1284.2,463.3 1289.2,463.3 1289.2,464.1 1294.2,464.1 1294.2,465.0 1295.0,465.0 1295.0,465.1 1299.2,465.1 1299.2,466.7 1304.2,466.7 1304.2,468.5 1305.0,468.5 1305.0,468.8 1309.2,468.8 1309.2,470.9 1314.2,470.9 1314.2,473.4 1315.0,473.4 1315.0,473.8 1319.2,473.8 1319.2,474.1 1324.2,474.1 1324.2,474.5 1329.2,474.5 1329.2,474.9 1330.0,474.9 1330.0,475.0 1334.2,475.0 1334.2,477.8 1337.5,477.8 1337.5,480.0 1339.2,480.0 1339.2,480.0 1344.2,480.0 1344.2,480.3 1349.2,480.3 1349.2,480.5 1354.2,480.5 1354.2,480.8 1359.2,480.8 1359.2,481.0 1362.5,481.0 1362.5,481.2 1364.2,481.2 1364.2,481.8 1369.2,481.8 1369.2,483.4 1370.0,483.4 1370.0,483.7 1374.2,483.7 1374.2,484.0 1379.2,484.0 1379.2,484.3 1384.2,484.3 1384.2,484.7 1387.5,484.7 1387.5,484.9 1389.2,484.9 1389.2,485.8 1394.2,485.8 1394.2,488.3 1399.2,488.3 1399.2,490.8 1400.0,490.8 1400.0,491.2 1404.2,491.2 1404.2,494.4 1405.0,494.4 1405.0,494.9 1409.2,494.9 1409.2,495.8 1414.2,495.8 1414.2,496.8 1417.5,496.8 1417.5,497.4 1419.2,497.4 1419.2,497.8 1424.2,497.8 1424.2,499.0 1427.5,499.0 1427.5,499.8 1429.2,499.8 1429.2,499.9 1434.2,499.9 1434.2,500.1 1439.2,500.1 1439.2,500.4 1444.2,500.4 1444.2,500.7 1445.0,500.7 1445.0,500.8 1449.2,500.8 1449.2,503.9 1450.0,503.9 1450.0,504.5 1454.2,504.5 1454.2,504.8 1459.2,504.8 1459.2,505.3 1462.5,505.3 1462.5,505.6 1464.2,505.6 1464.2,506.4 1467.5,506.4 1467.5,508.0 1469.2,508.0 1469.2,508.2 1474.2,508.2 1474.2,508.7 1479.2,508.7 1479.2,509.2 1484.2,509.2 1484.2,509.6 1489.2,509.6 1489.2,510.1 1490.0,510.1 1490.0,510.2 1494.2,510.2 1494.2,510.3 1499.2,510.3 1499.2,510.4 1504.2,510.4 1504.2,510.5 1509.2,510.5 1509.2,510.6 1514.2,510.6 1514.2,510.7 1519.2,510.7 1519.2,510.8 1524.2,510.8 1524.2,510.9 1525.0,510.9 1525.0,511.0 1529.2,511.0 1529.2,513.0 1532.5,513.0 1532.5,514.6 1534.2,514.6 1534.2,514.9 1539.2,514.9 1539.2,515.7 1544.2,515.7 1544.2,516.4 1547.5,516.4 1547.5,516.9 1549.2,516.9 1549.2,517.4 1554.2,517.4 1554.2,518.5 1557.5,518.5 1557.5,519.3 1559.2,519.3 1559.2,519.4 1564.2,519.4 1564.2,519.5 1569.2,519.5 1569.2,519.6 1574.2,519.6 1574.2,519.7 1579.2,519.7 1579.2,519.8 1584.2,519.8 1584.2,520.0 1589.2,520.0 1589.2,520.1 1590.0,520.1 1590.0,520.1 1594.2,520.1 1594.2,520.3 1599.2,520.3 1599.2,520.5 1604.2,520.5 1604.2,520.7 1609.2,520.7 1609.2,520.9 1612.5,520.9 1612.5,521.0 1614.2,521.0 1614.2,521.5 1619.2,521.5 1619.2,522.9 1624.2,522.9 1624.2,524.4 1625.0,524.4 1625.0,524.6 1629.2,524.6 1629.2,524.9 1634.2,524.9 1634.2,525.2 1639.2,525.2 1639.2,525.6 1640.0,525.6 1640.0,525.6 1644.2,525.6 1644.2,535.3 1645.0,535.3 1645.0,537.0 1649.2,537.0 1649.2,537.0 1654.2,537.0 1654.2,537.0 1659.2,537.0 1659.2,537.0 1664.2,537.0 1664.2,537.1 1669.2,537.1 1669.2,537.1 1674.2,537.1 1674.2,537.1 1679.2,537.1 1679.2,537.1 1682.5,537.1 1682.5,537.1 1684.2,537.1 1684.2,541.0 1685.0,541.0 1685.0,542.7 1689.2,542.7 1689.2,543.0 1694.2,543.0 1694.2,543.3 1699.2,543.3 1699.2,543.7 1700.0,543.7 1700.0,543.7 1704.2,543.7 1704.2,543.8 1709.2,543.8 1709.2,543.7 1714.2,543.7 1714.2,543.7 1719.2,543.7 1719.2,543.6 1724.2,543.6 1724.2,543.6 1729.2,543.6 1729.2,543.6 1734.2,543.6 1734.2,543.6 1739.2,543.6 1739.2,543.5 1744.2,543.5 1744.2,543.5 1749.2,543.5 1749.2,543.5 1753.5,543.5 1753.5,543.6 1753.5,627.9 1753.5,627.8 1749.2,627.8 1749.2,627.7 1744.2,627.7 1744.2,627.6 1739.2,627.6 1739.2,627.5 1734.2,627.5 1734.2,627.3 1729.2,627.3 1729.2,627.2 1724.2,627.2 1724.2,627.1 1719.2,627.1 1719.2,627.0 1714.2,627.0 1714.2,626.8 1709.2,626.8 1709.2,626.6 1704.2,626.6 1704.2,626.6 1700.0,626.6 1700.0,626.5 1699.2,626.5 1699.2,626.1 1694.2,626.1 1694.2,625.6 1689.2,625.6 1689.2,625.2 1685.0,625.2 1685.0,623.6 1684.2,623.6 1684.2,619.9 1682.5,619.9 1682.5,619.8 1679.2,619.8 1679.2,619.7 1674.2,619.7 1674.2,619.5 1669.2,619.5 1669.2,619.3 1664.2,619.3 1664.2,619.2 1659.2,619.2 1659.2,619.0 1654.2,619.0 1654.2,618.9 1649.2,618.9 1649.2,618.8 1645.0,618.8 1645.0,617.1 1644.2,617.1 1644.2,607.8 1640.0,607.8 1640.0,607.8 1639.2,607.8 1639.2,607.3 1634.2,607.3 1634.2,606.8 1629.2,606.8 1629.2,606.4 1625.0,606.4 1625.0,606.2 1624.2,606.2 1624.2,604.7 1619.2,604.7 1619.2,603.2 1614.2,603.2 1614.2,602.7 1612.5,602.7 1612.5,602.5 1609.2,602.5 1609.2,602.1 1604.2,602.1 1604.2,601.8 1599.2,601.8 1599.2,601.5 1594.2,601.5 1594.2,601.2 1590.0,601.2 1590.0,601.2 1589.2,601.2 1589.2,600.9 1584.2,600.9 1584.2,600.7 1579.2,600.7 1579.2,600.4 1574.2,600.4 1574.2,600.2 1569.2,600.2 1569.2,599.9 1564.2,599.9 1564.2,599.7 1559.2,599.7 1559.2,599.6 1557.5,599.6 1557.5,598.8 1554.2,598.8 1554.2,597.5 1549.2,597.5 1549.2,597.1 1547.5,597.1 1547.5,596.5 1544.2,596.5 1544.2,595.6 1539.2,595.6 1539.2,594.8 1534.2,594.8 1534.2,594.5 1532.5,594.5 1532.5,592.9 1529.2,592.9 1529.2,590.7 1525.0,590.7 1525.0,590.7 1524.2,590.7 1524.2,590.5 1519.2,590.5 1519.2,590.2 1514.2,590.2 1514.2,590.0 1509.2,590.0 1509.2,589.8 1504.2,589.8 1504.2,589.6 1499.2,589.6 1499.2,589.3 1494.2,589.3 1494.2,589.1 1490.0,589.1 1490.0,589.1 1489.2,589.1 1489.2,588.5 1484.2,588.5 1484.2,587.9 1479.2,587.9 1479.2,587.3 1474.2,587.3 1474.2,586.7 1469.2,586.7 1469.2,586.5 1467.5,586.5 1467.5,584.8 1464.2,584.8 1464.2,584.0 1462.5,584.0 1462.5,583.6 1459.2,583.6 1459.2,583.1 1454.2,583.1 1454.2,582.6 1450.0,582.6 1450.0,582.1 1449.2,582.1 1449.2,578.9 1445.0,578.9 1445.0,578.8 1444.2,578.8 1444.2,578.4 1439.2,578.4 1439.2,578.0 1434.2,578.0 1434.2,577.6 1429.2,577.6 1429.2,577.5 1427.5,577.5 1427.5,576.6 1424.2,576.6 1424.2,575.4 1419.2,575.4 1419.2,574.9 1417.5,574.9 1417.5,574.3 1414.2,574.3 1414.2,573.3 1409.2,573.3 1409.2,572.4 1405.0,572.4 1405.0,571.9 1404.2,571.9 1404.2,568.7 1400.0,568.7 1400.0,568.4 1399.2,568.4 1399.2,565.9 1394.2,565.9 1394.2,563.4 1389.2,563.4 1389.2,562.6 1387.5,562.6 1387.5,562.3 1384.2,562.3 1384.2,562.0 1379.2,562.0 1379.2,561.6 1374.2,561.6 1374.2,561.3 1370.0,561.3 1370.0,561.1 1369.2,561.1 1369.2,559.4 1364.2,559.4 1364.2,558.9 1362.5,558.9 1362.5,558.7 1359.2,558.7 1359.2,558.5 1354.2,558.5 1354.2,558.2 1349.2,558.2 1349.2,558.0 1344.2,558.0 1344.2,557.7 1339.2,557.7 1339.2,557.6 1337.5,557.6 1337.5,555.5 1334.2,555.5 1334.2,552.7 1330.0,552.7 1330.0,552.6 1329.2,552.6 1329.2,552.2 1324.2,552.2 1324.2,551.8 1319.2,551.8 1319.2,551.4 1315.0,551.4 1315.0,551.1 1314.2,551.1 1314.2,548.6 1309.2,548.6 1309.2,546.5 1305.0,546.5 1305.0,546.2 1304.2,546.2 1304.2,544.3 1299.2,544.3 1299.2,542.7 1295.0,542.7 1295.0,542.6 1294.2,542.6 1294.2,541.8 1289.2,541.8 1289.2,540.9 1284.2,540.9 1284.2,540.2 1280.0,540.2 1280.0,539.8 1279.2,539.8 1279.2,536.6 1274.2,536.6 1274.2,534.0 1270.0,534.0 1270.0,533.9 1269.2,533.9 1269.2,533.4 1264.2,533.4 1264.2,532.9 1259.2,532.9 1259.2,532.7 1257.5,532.7 1257.5,530.5 1254.2,530.5 1254.2,527.0 1249.2,527.0 1249.2,524.0 1245.0,524.0 1245.0,523.2 1244.2,523.2 1244.2,518.2 1239.2,518.2 1239.2,513.2 1234.2,513.2 1234.2,511.4 1232.5,511.4 1232.5,508.1 1229.2,508.1 1229.2,503.1 1224.2,503.1 1224.2,498.8 1220.0,498.8 1220.0,498.0 1219.2,498.0 1219.2,493.7 1215.0,493.7 1215.0,492.4 1214.2,492.4 1214.2,483.5 1209.2,483.5 1209.2,475.9 1205.0,475.9 1205.0,473.9 1204.2,473.9 1204.2,463.0 1200.0,463.0 1200.0,462.8 1199.2,462.8 1199.2,461.1 1194.2,461.1 1194.2,460.5 1192.5,460.5 1192.5,458.2 1189.2,458.2 1189.2,455.3 1185.0,455.3 1185.0,453.8 1184.2,453.8 1184.2,445.0 1180.0,445.0 1180.0,444.4 1179.2,444.4 1179.2,440.5 1174.2,440.5 1174.2,437.2 1170.0,437.2 1170.0,436.1 1169.2,436.1 1169.2,429.2 1164.2,429.2 1164.2,426.8 1162.5,426.8 1162.5,422.2 1159.2,422.2 1159.2,416.3 1155.0,416.3 1155.0,415.2 1154.2,415.2 1154.2,408.2 1149.2,408.2 1149.2,405.8 1147.5,405.8 1147.5,403.2 1144.2,403.2 1144.2,399.2 1139.2,399.2 1139.2,397.8 1137.5,397.8 1137.5,394.4 1134.2,394.4 1134.2,389.1 1129.2,389.1 1129.2,387.2 1127.5,387.2 1127.5,383.7 1124.2,383.7 1124.2,378.4 1119.2,378.4 1119.2,376.5 1117.5,376.5 1117.5,370.7 1114.2,370.7 1114.2,363.0 1110.0,363.0 1110.0,361.6 1109.2,361.6 1109.2,351.8 1104.2,351.8 1104.2,342.0 1099.2,342.0 1099.2,338.5 1097.5,338.5 1097.5,330.5 1094.2,330.5 1094.2,318.0 1089.2,318.0 1089.2,313.5 1087.5,313.5 1087.5,300.1 1084.2,300.1 1084.2,282.1 1080.0,282.1 1080.0,278.3 1079.2,278.3 1079.2,251.8 1074.2,251.8 1074.2,249.1 1073.8,249.1 1073.8,203.3 1069.2,203.3" fill="#42B540" fill-opacity="0.3"/>
<polygon points="1069.4,201.5 1070.6,201.5 1070.6,209.9 1072.5,209.9 1072.5,223.5 1074.4,223.5 1074.4,233.0 1075.0,233.0 1075.0,236.2 1078.8,236.2 1078.8,250.5 1079.4,250.5 1079.4,252.5 1082.5,252.5 1082.5,262.1 1084.4,262.1 1084.4,267.5 1086.2,267.5 1086.2,272.9 1089.4,272.9 1089.4,281.1 1090.0,281.1 1090.0,282.7 1093.8,282.7 1093.8,292.6 1094.4,292.6 1094.4,294.1 1097.5,294.1 1097.5,301.5 1099.4,301.5 1099.4,305.5 1101.2,305.5 1101.2,309.4 1104.4,309.4 1104.4,315.1 1105.0,315.1 1105.0,316.2 1109.4,316.2 1109.4,323.9 1110.0,323.9 1110.0,325.0 1114.4,325.0 1114.4,337.3 1115.0,337.3 1115.0,339.1 1119.4,339.1 1119.4,348.9 1121.2,348.9 1121.2,353.0 1124.4,353.0 1124.4,354.7 1129.4,354.7 1129.4,357.3 1132.5,357.3 1132.5,358.9 1134.4,358.9 1134.4,364.6 1137.5,364.6 1137.5,374.2 1139.4,374.2 1139.4,377.1 1144.4,377.1 1144.4,385.0 1145.0,385.0 1145.0,386.0 1147.5,386.0 1147.5,393.2 1149.4,393.2 1149.4,394.6 1154.4,394.6 1154.4,398.4 1159.4,398.4 1159.4,402.3 1160.0,402.3 1160.0,402.7 1164.4,402.7 1164.4,409.7 1167.5,409.7 1167.5,414.8 1169.4,414.8 1169.4,415.8 1174.4,415.8 1174.4,418.7 1179.4,418.7 1179.4,421.7 1180.0,421.7 1180.0,422.0 1184.4,422.0 1184.4,432.6 1185.0,432.6 1185.0,434.2 1189.4,434.2 1189.4,442.7 1192.5,442.7 1192.5,448.8 1194.4,448.8 1194.4,450.4 1199.4,450.4 1199.4,454.7 1202.5,454.7 1202.5,457.4 1204.4,457.4 1204.4,459.3 1209.4,459.3 1209.4,464.2 1212.5,464.2 1212.5,467.3 1214.4,467.3 1214.4,469.9 1219.4,469.9 1219.4,476.7 1222.5,476.7 1222.5,480.9 1224.4,480.9 1224.4,481.9 1229.4,481.9 1229.4,484.4 1234.4,484.4 1234.4,486.9 1237.5,486.9 1237.5,488.4 1239.4,488.4 1239.4,491.9 1244.4,491.9 1244.4,501.1 1245.0,501.1 1245.0,502.2 1249.4,502.2 1249.4,502.6 1254.4,502.6 1254.4,503.1 1257.5,503.1 1257.5,503.5 1259.4,503.5 1259.4,504.6 1264.4,504.6 1264.4,507.8 1267.5,507.8 1267.5,509.7 1269.4,509.7 1269.4,510.0 1274.4,510.0 1274.4,510.6 1277.5,510.6 1277.5,511.0 1279.4,511.0 1279.4,512.2 1284.4,512.2 1284.4,515.3 1287.5,515.3 1287.5,517.3 1289.4,517.3 1289.4,517.4 1294.4,517.4 1294.4,517.5 1299.4,517.5 1299.4,517.7 1304.4,517.7 1304.4,517.8 1309.4,517.8 1309.4,518.0 1312.5,518.0 1312.5,518.1 1314.4,518.1 1314.4,519.8 1319.4,519.8 1319.4,524.3 1320.0,524.3 1320.0,524.9 1324.4,524.9 1324.4,525.1 1329.4,525.1 1329.4,525.2 1334.4,525.2 1334.4,525.4 1339.4,525.4 1339.4,525.6 1342.5,525.6 1342.5,525.7 1344.4,525.7 1344.4,527.4 1349.4,527.4 1349.4,532.0 1350.0,532.0 1350.0,532.5 1354.4,532.5 1354.4,534.8 1357.5,534.8 1357.5,536.4 1359.4,536.4 1359.4,536.5 1364.4,536.5 1364.4,536.8 1369.4,536.8 1369.4,537.1 1374.4,537.1 1374.4,537.4 1377.5,537.4 1377.5,537.6 1379.4,537.6 1379.4,538.6 1382.5,538.6 1382.5,540.2 1384.4,540.2 1384.4,540.2 1389.4,540.2 1389.4,540.3 1394.4,540.3 1394.4,540.4 1399.4,540.4 1399.4,540.5 1404.4,540.5 1404.4,540.6 1409.4,540.6 1409.4,540.7 1414.4,540.7 1414.4,540.8 1419.4,540.8 1419.4,540.9 1420.0,540.9 1420.0,540.9 1424.4,540.9 1424.4,542.7 1427.5,542.7 1427.5,544.0 1429.4,544.0 1429.4,545.6 1434.4,545.6 1434.4,549.8 1435.0,549.8 1435.0,550.4 1439.4,550.4 1439.4,551.8 1442.5,551.8 1442.5,552.9 1444.4,552.9 1444.4,552.9 1449.4,552.9 1449.4,553.0 1454.4,553.0 1454.4,553.0 1459.4,553.0 1459.4,553.1 1464.4,553.1 1464.4,553.2 1469.4,553.2 1469.4,553.2 1474.4,553.2 1474.4,553.3 1479.4,553.3 1479.4,553.4 1484.4,553.4 1484.4,553.4 1489.4,553.4 1489.4,553.5 1490.0,553.5 1490.0,553.5 1492.5,553.5 1492.5,556.6 1494.4,556.6 1494.4,556.6 1499.4,556.6 1499.4,556.8 1504.4,556.8 1504.4,557.0 1505.0,557.0 1505.0,557.0 1509.4,557.0 1509.4,561.1 1510.0,561.1 1510.0,561.7 1514.4,561.7 1514.4,561.7 1519.4,561.7 1519.4,561.8 1524.4,561.8 1524.4,561.8 1529.4,561.8 1529.4,561.9 1534.4,561.9 1534.4,562.0 1539.4,562.0 1539.4,562.0 1542.5,562.0 1542.5,562.1 1544.4,562.1 1544.4,563.3 1547.5,563.3 1547.5,565.4 1549.4,565.4 1549.4,565.6 1554.4,565.6 1554.4,566.3 1557.5,566.3 1557.5,566.6 1559.4,566.6 1559.4,567.6 1564.4,567.6 1564.4,570.2 1565.0,570.2 1565.0,570.5 1569.4,570.5 1569.4,570.5 1574.4,570.5 1574.4,570.6 1579.4,570.6 1579.4,570.6 1584.4,570.6 1584.4,570.7 1589.4,570.7 1589.4,570.7 1594.4,570.7 1594.4,570.7 1599.4,570.7 1599.4,570.8 1604.4,570.8 1604.4,570.8 1609.4,570.8 1609.4,570.9 1614.4,570.9 1614.4,570.9 1619.4,570.9 1619.4,570.9 1624.4,570.9 1624.4,571.0 1629.4,571.0 1629.4,571.0 1634.4,571.0 1634.4,571.1 1639.4,571.1 1639.4,571.1 1641.2,571.1 1641.2,571.1 1643.8,571.1 1643.8,577.2 1644.4,577.2 1644.4,577.2 1649.4,577.2 1649.4,577.3 1654.4,577.3 1654.4,577.3 1659.4,577.3 1659.4,577.4 1664.4,577.4 1664.4,577.4 1669.4,577.4 1669.4,577.4 1674.4,577.4 1674.4,577.5 1679.4,577.5 1679.4,577.5 1684.4,577.5 1684.4,577.6 1689.4,577.6 1689.4,577.6 1694.4,577.6 1694.4,577.7 1699.4,577.7 1699.4,577.7 1704.4,577.7 1704.4,577.7 1709.4,577.7 1709.4,577.8 1714.4,577.8 1714.4,577.8 1719.4,577.8 1719.4,577.9 1724.4,577.9 1724.4,577.9 1729.4,577.9 1729.4,577.9 1734.4,577.9 1734.4,578.0 1739.4,578.0 1739.4,578.0 1744.4,578.0 1744.4,578.1 1747.2,578.1 1747.2,578.1 1747.2,661.0 1747.2,660.9 1744.4,660.9 1744.4,660.9 1739.4,660.9 1739.4,660.9 1734.4,660.9 1734.4,660.9 1729.4,660.9 1729.4,660.8 1724.4,660.8 1724.4,660.8 1719.4,660.8 1719.4,660.8 1714.4,660.8 1714.4,660.7 1709.4,660.7 1709.4,660.7 1704.4,660.7 1704.4,660.7 1699.4,660.7 1699.4,660.7 1694.4,660.7 1694.4,660.6 1689.4,660.6 1689.4,660.6 1684.4,660.6 1684.4,660.6 1679.4,660.6 1679.4,660.5 1674.4,660.5 1674.4,660.5 1669.4,660.5 1669.4,660.5 1664.4,660.5 1664.4,660.5 1659.4,660.5 1659.4,660.4 1654.4,660.4 1654.4,660.4 1649.4,660.4 1649.4,660.4 1644.4,660.4 1644.4,660.4 1643.8,660.4 1643.8,654.2 1641.2,654.2 1641.2,654.2 1639.4,654.2 1639.4,654.2 1634.4,654.2 1634.4,654.2 1629.4,654.2 1629.4,654.1 1624.4,654.1 1624.4,654.1 1619.4,654.1 1619.4,654.1 1614.4,654.1 1614.4,654.1 1609.4,654.1 1609.4,654.0 1604.4,654.0 1604.4,654.0 1599.4,654.0 1599.4,654.0 1594.4,654.0 1594.4,654.0 1589.4,654.0 1589.4,653.9 1584.4,653.9 1584.4,653.9 1579.4,653.9 1579.4,653.9 1574.4,653.9 1574.4,653.8 1569.4,653.8 1569.4,653.8 1565.0,653.8 1565.0,653.5 1564.4,653.5 1564.4,651.2 1559.4,651.2 1559.4,650.3 1557.5,650.3 1557.5,649.9 1554.4,649.9 1554.4,649.3 1549.4,649.3 1549.4,649.1 1547.5,649.1 1547.5,647.1 1544.4,647.1 1544.4,645.9 1542.5,645.9 1542.5,645.9 1539.4,645.9 1539.4,645.8 1534.4,645.8 1534.4,645.7 1529.4,645.7 1529.4,645.7 1524.4,645.7 1524.4,645.6 1519.4,645.6 1519.4,645.5 1514.4,645.5 1514.4,645.4 1510.0,645.4 1510.0,644.9 1509.4,644.9 1509.4,641.1 1505.0,641.1 1505.0,641.1 1504.4,641.1 1504.4,640.9 1499.4,640.9 1499.4,640.7 1494.4,640.7 1494.4,640.6 1492.5,640.6 1492.5,637.8 1490.0,637.8 1490.0,637.7 1489.4,637.7 1489.4,637.7 1484.4,637.7 1484.4,637.6 1479.4,637.6 1479.4,637.5 1474.4,637.5 1474.4,637.4 1469.4,637.4 1469.4,637.3 1464.4,637.3 1464.4,637.2 1459.4,637.2 1459.4,637.1 1454.4,637.1 1454.4,637.0 1449.4,637.0 1449.4,636.9 1444.4,636.9 1444.4,636.9 1442.5,636.9 1442.5,635.9 1439.4,635.9 1439.4,634.5 1435.0,634.5 1435.0,634.0 1434.4,634.0 1434.4,630.0 1429.4,630.0 1429.4,628.5 1427.5,628.5 1427.5,627.3 1424.4,627.3 1424.4,625.6 1420.0,625.6 1420.0,625.6 1419.4,625.6 1419.4,625.5 1414.4,625.5 1414.4,625.4 1409.4,625.4 1409.4,625.3 1404.4,625.3 1404.4,625.2 1399.4,625.2 1399.4,625.1 1394.4,625.1 1394.4,625.0 1389.4,625.0 1389.4,624.9 1384.4,624.9 1384.4,624.9 1382.5,624.9 1382.5,623.4 1379.4,623.4 1379.4,622.5 1377.5,622.5 1377.5,622.3 1374.4,622.3 1374.4,622.0 1369.4,622.0 1369.4,621.7 1364.4,621.7 1364.4,621.4 1359.4,621.4 1359.4,621.3 1357.5,621.3 1357.5,619.8 1354.4,619.8 1354.4,617.7 1350.0,617.7 1350.0,617.2 1349.4,617.2 1349.4,612.8 1344.4,612.8 1344.4,611.2 1342.5,611.2 1342.5,611.1 1339.4,611.1 1339.4,610.9 1334.4,610.9 1334.4,610.8 1329.4,610.8 1329.4,610.6 1324.4,610.6 1324.4,610.5 1320.0,610.5 1320.0,609.9 1319.4,609.9 1319.4,605.6 1314.4,605.6 1314.4,603.9 1312.5,603.9 1312.5,603.8 1309.4,603.8 1309.4,603.7 1304.4,603.7 1304.4,603.6 1299.4,603.6 1299.4,603.4 1294.4,603.4 1294.4,603.3 1289.4,603.3 1289.4,603.2 1287.5,603.2 1287.5,601.3 1284.4,601.3 1284.4,598.3 1279.4,598.3 1279.4,597.1 1277.5,597.1 1277.5,596.8 1274.4,596.8 1274.4,596.2 1269.4,596.2 1269.4,595.9 1267.5,595.9 1267.5,594.0 1264.4,594.0 1264.4,591.0 1259.4,591.0 1259.4,589.8 1257.5,589.8 1257.5,589.5 1254.4,589.5 1254.4,589.0 1249.4,589.0 1249.4,588.6 1245.0,588.6 1245.0,587.5 1244.4,587.5 1244.4,578.5 1239.4,578.5 1239.4,575.2 1237.5,575.2 1237.5,573.6 1234.4,573.6 1234.4,571.2 1229.4,571.2 1229.4,568.7 1224.4,568.7 1224.4,567.8 1222.5,567.8 1222.5,563.6 1219.4,563.6 1219.4,556.8 1214.4,556.8 1214.4,554.2 1212.5,554.2 1212.5,551.1 1209.4,551.1 1209.4,546.1 1204.4,546.1 1204.4,544.3 1202.5,544.3 1202.5,541.5 1199.4,541.5 1199.4,537.2 1194.4,537.2 1194.4,535.5 1192.5,535.5 1192.5,529.3 1189.4,529.3 1189.4,520.5 1185.0,520.5 1185.0,518.9 1184.4,518.9 1184.4,507.9 1180.0,507.9 1180.0,507.5 1179.4,507.5 1179.4,504.5 1174.4,504.5 1174.4,501.4 1169.4,501.4 1169.4,500.3 1167.5,500.3 1167.5,495.0 1164.4,495.0 1164.4,487.5 1160.0,487.5 1160.0,487.0 1159.4,487.0 1159.4,482.9 1154.4,482.9 1154.4,478.8 1149.4,478.8 1149.4,477.3 1147.5,477.3 1147.5,469.6 1145.0,469.6 1145.0,468.5 1144.4,468.5 1144.4,459.9 1139.4,459.9 1139.4,456.7 1137.5,456.7 1137.5,446.2 1134.4,446.2 1134.4,439.8 1132.5,439.8 1132.5,438.0 1129.4,438.0 1129.4,435.1 1124.4,435.1 1124.4,433.2 1121.2,433.2 1121.2,428.5 1119.4,428.5 1119.4,417.5 1115.0,417.5 1115.0,415.4 1114.4,415.4 1114.4,401.1 1110.0,401.1 1110.0,399.9 1109.4,399.9 1109.4,390.8 1105.0,390.8 1105.0,389.5 1104.4,389.5 1104.4,382.8 1101.2,382.8 1101.2,378.1 1099.4,378.1 1099.4,373.3 1097.5,373.3 1097.5,364.3 1094.4,364.3 1094.4,362.4 1093.8,362.4 1093.8,350.1 1090.0,350.1 1090.0,348.0 1089.4,348.0 1089.4,337.6 1086.2,337.6 1086.2,330.7 1084.4,330.7 1084.4,323.6 1082.5,323.6 1082.5,310.6 1079.4,310.6 1079.4,308.0 1078.8,308.0 1078.8,287.6 1075.0,287.6 1075.0,282.9 1074.4,282.9 1074.4,268.2 1072.5,268.2 1072.5,244.4 1070.6,244.4 1070.6,201.5 1069.4,201.5" fill="#0099B4" fill-opacity="0.3"/>
<path d="M1407.5 511.2h10.0M1412.5 506.2v10.0M1412.5 515.0h10.0M1417.5 510.0v10.0M1417.5 515.1h10.0M1422.5 510.1v10.0M1422.5 515.2h10.0M1427.5 510.2v10.0M1432.5 515.5h10.0M1437.5 510.5v10.0M1436.2 517.8h10.0M1441.2 512.8v10.0M1455.0 533.9h10.0M1460.0 528.9v10.0M1478.8 534.2h10.0M1483.8 529.2v10.0M1488.8 542.9h10.0M1493.8 537.9v10.0M1508.8 567.6h10.0M1513.8 562.6v10.0M1515.0 567.8h10.0M1520.0 562.8v10.0M1521.2 568.0h10.0M1526.2 563.0v10.0M1527.5 568.2h10.0M1532.5 563.2v10.0M1542.5 568.7h10.0M1547.5 563.7v10.0M1560.0 577.1h10.0M1565.0 572.1v10.0M1563.8 577.2h10.0M1568.8 572.2v10.0M1580.0 598.8h10.0M1585.0 593.8v10.0M1586.2 598.8h10.0M1591.2 593.8v10.0M1592.5 598.8h10.0M1597.5 593.8v10.0M1598.8 598.8h10.0M1603.8 593.8v10.0M1605.0 598.8h10.0M1610.0 593.8v10.0M1611.2 598.8h10.0M1616.2 593.8v10.0M1617.5 598.9h10.0M1622.5 593.9v10.0M1632.5 598.9h10.0M1637.5 593.9v10.0M1637.5 598.9h10.0M1642.5 593.9v10.0M1642.5 598.9h10.0M1647.5 593.9v10.0M1657.5 599.0h10.0M1662.5 594.0v10.0M1662.5 599.0h10.0M1667.5 594.0v10.0M1667.5 599.0h10.0M1672.5 594.0v10.0M1672.5 599.0h10.0M1677.5 594.0v10.0M1677.5 599.0h10.0M1682.5 594.0v10.0M1690.0 599.1h10.0M1695.0 594.1v10.0M1695.0 599.1h10.0M1700.0 594.1v10.0M1700.0 599.1h10.0M1705.0 594.1v10.0M1705.0 599.1h10.0M1710.0 594.1v10.0M1725.0 599.2h10.0M1730.0 594.2v10.0M1730.8 599.2h10.0M1735.8 594.2v10.0M1736.7 599.2h10.0M1741.7 594.2v10.0M1742.5 599.2h10.0M1747.5 594.2v10.0" stroke="#00468B" stroke-width="1.9" fill="none"/>
<path d="M1422.5 550.0h10.0M1427.5 545.0v10.0M1426.5 550.0h10.0M1431.5 545.0v10.0M1430.5 550.0h10.0M1435.5 545.0v10.0M1434.5 550.0h10.0M1439.5 545.0v10.0M1438.5 550.0h10.0M1443.5 545.0v10.0M1442.5 550.0h10.0M1447.5 545.0v10.0M1467.5 555.5h10.0M1472.5 550.5v10.0M1471.3 555.8h10.0M1476.3 550.8v10.0M1475.2 555.8h10.0M1480.2 550.8v10.0M1479.0 555.8h10.0M1484.0 550.8v10.0M1482.9 555.8h10.0M1487.9 550.8v10.0M1486.7 555.8h10.0M1491.7 550.8v10.0M1490.6 555.8h10.0M1495.6 550.8v10.0M1494.4 555.8h10.0M1499.4 550.8v10.0M1498.3 555.8h10.0M1503.3 550.8v10.0M1502.1 555.8h10.0M1507.1 550.8v10.0M1506.0 555.8h10.0M1511.0 550.8v10.0M1509.8 555.8h10.0M1514.8 550.8v10.0M1513.7 555.8h10.0M1518.7 550.8v10.0M1517.5 555.8h10.0M1522.5 550.8v10.0M1530.0 555.8h10.0M1535.0 550.8v10.0M1533.4 555.8h10.0M1538.4 550.8v10.0M1536.8 555.8h10.0M1541.8 550.8v10.0M1540.2 555.8h10.0M1545.2 550.8v10.0M1543.6 555.8h10.0M1548.6 550.8v10.0M1547.0 555.8h10.0M1552.0 550.8v10.0M1550.5 555.8h10.0M1555.5 550.8v10.0M1553.9 555.8h10.0M1558.9 550.8v10.0M1557.3 555.8h10.0M1562.3 550.8v10.0M1560.7 555.8h10.0M1565.7 550.8v10.0M1564.1 555.8h10.0M1569.1 550.8v10.0M1567.5 558.5h10.0M1572.5 553.5v10.0M1582.5 558.5h10.0M1587.5 553.5v10.0M1586.2 558.5h10.0M1591.2 553.5v10.0M1590.0 558.5h10.0M1595.0 553.5v10.0M1593.8 558.5h10.0M1598.8 553.5v10.0M1597.5 558.5h10.0M1602.5 553.5v10.0M1607.5 558.5h10.0M1612.5 553.5v10.0M1610.9 558.5h10.0M1615.9 553.5v10.0M1614.4 558.5h10.0M1619.4 553.5v10.0M1617.8 558.5h10.0M1622.8 553.5v10.0M1621.2 558.5h10.0M1626.2 553.5v10.0M1624.7 558.5h10.0M1629.7 553.5v10.0M1628.1 558.5h10.0M1633.1 553.5v10.0M1631.6 558.5h10.0M1636.6 553.5v10.0M1635.0 558.5h10.0M1640.0 553.5v10.0M1647.5 558.5h10.0M1652.5 553.5v10.0M1650.8 558.5h10.0M1655.8 553.5v10.0M1654.2 558.5h10.0M1659.2 553.5v10.0M1657.5 558.5h10.0M1662.5 553.5v10.0M1667.5 558.5h10.0M1672.5 553.5v10.0M1671.2 558.5h10.0M1676.2 553.5v10.0M1675.0 558.5h10.0M1680.0 553.5v10.0M1678.8 558.5h10.0M1683.8 553.5v10.0M1682.5 558.5h10.0M1687.5 553.5v10.0M1685.0 573.8h10.0M1690.0 568.8v10.0M1687.6 573.8h10.0M1692.6 568.8v10.0M1690.2 573.8h10.0M1695.2 568.8v10.0M1692.9 573.9h10.0M1697.9 568.9v10.0M1695.5 573.9h10.0M1700.5 568.9v10.0M1698.1 573.9h10.0M1703.1 568.9v10.0M1700.7 574.0h10.0M1705.7 569.0v10.0M1703.3 574.0h10.0M1708.3 569.0v10.0M1706.0 574.0h10.0M1711.0 569.0v10.0M1708.6 574.1h10.0M1713.6 569.1v10.0M1711.2 574.1h10.0M1716.2 569.1v10.0M1713.8 574.1h10.0M1718.8 569.1v10.0M1716.4 574.2h10.0M1721.4 569.2v10.0M1719.0 574.2h10.0M1724.0 569.2v10.0M1721.7 574.2h10.0M1726.7 569.2v10.0M1724.3 574.3h10.0M1729.3 569.3v10.0M1726.9 574.3h10.0M1731.9 569.3v10.0M1729.5 574.3h10.0M1734.5 569.3v10.0M1732.1 574.4h10.0M1737.1 569.4v10.0M1734.8 574.4h10.0M1739.8 569.4v10.0M1737.4 574.4h10.0M1742.4 569.4v10.0M1740.0 574.5h10.0M1745.0 569.5v10.0" stroke="#ED0000" stroke-width="1.9" fill="none"/>
<path d="M1402.5 536.8h10.0M1407.5 531.8v10.0M1406.7 537.6h10.0M1411.7 532.6v10.0M1410.8 538.4h10.0M1415.8 533.4v10.0M1415.0 539.4h10.0M1420.0 534.4v10.0M1419.2 540.4h10.0M1424.2 535.4v10.0M1423.3 541.3h10.0M1428.3 536.3v10.0M1427.5 541.6h10.0M1432.5 536.6v10.0M1431.7 541.9h10.0M1436.7 536.9v10.0M1435.8 542.2h10.0M1440.8 537.2v10.0M1440.0 542.5h10.0M1445.0 537.5v10.0M1465.0 550.3h10.0M1470.0 545.3v10.0M1469.0 550.7h10.0M1474.0 545.7v10.0M1473.0 551.2h10.0M1478.0 546.2v10.0M1477.0 551.6h10.0M1482.0 546.6v10.0M1481.0 552.1h10.0M1486.0 547.1v10.0M1485.0 552.5h10.0M1490.0 547.5v10.0M1495.0 552.9h10.0M1500.0 547.9v10.0M1498.8 553.0h10.0M1503.8 548.0v10.0M1502.5 553.1h10.0M1507.5 548.1v10.0M1506.2 553.3h10.0M1511.2 548.3v10.0M1510.0 553.4h10.0M1515.0 548.4v10.0M1513.8 553.5h10.0M1518.8 548.5v10.0M1517.5 553.7h10.0M1522.5 548.7v10.0M1521.2 554.4h10.0M1526.2 549.4v10.0M1525.0 556.2h10.0M1530.0 551.2v10.0M1545.0 560.6h10.0M1550.0 555.6v10.0M1548.3 561.5h10.0M1553.3 556.5v10.0M1551.7 562.3h10.0M1556.7 557.3v10.0M1555.0 562.6h10.0M1560.0 557.6v10.0M1558.3 562.7h10.0M1563.3 557.7v10.0M1561.7 562.9h10.0M1566.7 557.9v10.0M1565.0 563.0h10.0M1570.0 558.0v10.0M1568.3 563.1h10.0M1573.3 558.1v10.0M1571.7 563.2h10.0M1576.7 558.2v10.0M1575.0 563.4h10.0M1580.0 558.4v10.0M1578.3 563.5h10.0M1583.3 558.5v10.0M1581.7 563.6h10.0M1586.7 558.6v10.0M1585.0 563.8h10.0M1590.0 558.8v10.0M1588.3 563.9h10.0M1593.3 558.9v10.0M1591.7 564.1h10.0M1596.7 559.1v10.0M1595.0 564.3h10.0M1600.0 559.3v10.0M1598.3 564.5h10.0M1603.3 559.5v10.0M1601.7 564.7h10.0M1606.7 559.7v10.0M1605.0 564.9h10.0M1610.0 559.9v10.0M1608.3 565.2h10.0M1613.3 560.2v10.0M1611.7 566.2h10.0M1616.7 561.2v10.0M1615.0 567.2h10.0M1620.0 562.2v10.0M1618.3 568.2h10.0M1623.3 563.2v10.0M1621.7 568.9h10.0M1626.7 563.9v10.0M1625.0 569.2h10.0M1630.0 564.2v10.0M1628.3 569.4h10.0M1633.3 564.4v10.0M1631.7 569.7h10.0M1636.7 564.7v10.0M1635.0 570.0h10.0M1640.0 565.0v10.0M1640.0 581.2h10.0M1645.0 576.2v10.0M1642.9 581.3h10.0M1647.9 576.3v10.0M1645.8 581.4h10.0M1650.8 576.4v10.0M1648.7 581.4h10.0M1653.7 576.4v10.0M1651.5 581.5h10.0M1656.5 576.5v10.0M1654.4 581.5h10.0M1659.4 576.5v10.0M1657.3 581.6h10.0M1662.3 576.6v10.0M1660.2 581.7h10.0M1665.2 576.7v10.0M1663.1 581.7h10.0M1668.1 576.7v10.0M1666.0 581.8h10.0M1671.0 576.8v10.0M1668.8 581.8h10.0M1673.8 576.8v10.0M1671.7 581.9h10.0M1676.7 576.9v10.0M1674.6 581.9h10.0M1679.6 576.9v10.0M1677.5 582.0h10.0M1682.5 577.0v10.0M1682.5 587.7h10.0M1687.5 582.7v10.0M1685.3 587.9h10.0M1690.3 582.9v10.0M1688.1 588.2h10.0M1693.1 583.2v10.0M1690.9 588.4h10.0M1695.9 583.4v10.0M1693.7 588.6h10.0M1698.7 583.6v10.0M1696.5 588.8h10.0M1701.5 583.8v10.0M1699.3 588.8h10.0M1704.3 583.8v10.0M1702.1 588.8h10.0M1707.1 583.8v10.0M1704.9 588.9h10.0M1709.9 583.9v10.0M1707.7 588.9h10.0M1712.7 583.9v10.0M1710.5 589.0h10.0M1715.5 584.0v10.0M1713.3 589.0h10.0M1718.3 584.0v10.0M1716.1 589.0h10.0M1721.1 584.0v10.0M1718.9 589.1h10.0M1723.9 584.1v10.0M1721.7 589.1h10.0M1726.7 584.1v10.0M1724.5 589.1h10.0M1729.5 584.1v10.0M1727.3 589.2h10.0M1732.3 584.2v10.0M1730.1 589.2h10.0M1735.1 584.2v10.0M1732.9 589.2h10.0M1737.9 584.2v10.0M1735.7 589.3h10.0M1740.7 584.3v10.0M1738.5 589.3h10.0M1743.5 584.3v10.0M1741.3 589.4h10.0M1746.3 584.4v10.0M1744.1 589.4h10.0M1749.1 584.4v10.0M1746.9 589.4h10.0M1751.9 584.4v10.0M1749.7 589.5h10.0M1754.7 584.5v10.0M1752.5 589.5h10.0M1757.5 584.5v10.0" stroke="#42B540" stroke-width="1.9" fill="none"/>
<path d="M1410.0 586.9h10.0M1415.0 581.9v10.0M1432.5 597.1h10.0M1437.5 592.1v10.0M1437.0 598.6h10.0M1442.0 593.6v10.0M1441.5 598.8h10.0M1446.5 593.8v10.0M1446.0 598.9h10.0M1451.0 593.9v10.0M1450.5 599.0h10.0M1455.5 594.0v10.0M1455.0 599.0h10.0M1460.0 594.0v10.0M1467.5 599.2h10.0M1472.5 594.2v10.0M1471.4 599.3h10.0M1476.4 594.3v10.0M1475.4 599.3h10.0M1480.4 594.3v10.0M1479.3 599.4h10.0M1484.3 594.4v10.0M1483.2 599.5h10.0M1488.2 594.5v10.0M1487.1 602.1h10.0M1492.1 597.1v10.0M1491.1 602.6h10.0M1496.1 597.6v10.0M1495.0 602.8h10.0M1500.0 597.8v10.0M1505.0 607.5h10.0M1510.0 602.5v10.0M1527.5 607.8h10.0M1532.5 602.8v10.0M1530.0 607.9h10.0M1535.0 602.9v10.0M1552.5 612.5h10.0M1557.5 607.5v10.0M1562.5 616.3h10.0M1567.5 611.3v10.0M1565.7 616.3h10.0M1570.7 611.3v10.0M1568.8 616.3h10.0M1573.8 611.3v10.0M1572.0 616.3h10.0M1577.0 611.3v10.0M1575.1 616.3h10.0M1580.1 611.3v10.0M1578.3 616.4h10.0M1583.3 611.4v10.0M1581.4 616.4h10.0M1586.4 611.4v10.0M1584.6 616.4h10.0M1589.6 611.4v10.0M1587.7 616.4h10.0M1592.7 611.4v10.0M1590.9 616.5h10.0M1595.9 611.5v10.0M1594.0 616.5h10.0M1599.0 611.5v10.0M1597.2 616.5h10.0M1602.2 611.5v10.0M1600.3 616.5h10.0M1605.3 611.5v10.0M1603.5 616.5h10.0M1608.5 611.5v10.0M1606.6 616.6h10.0M1611.6 611.6v10.0M1609.8 616.6h10.0M1614.8 611.6v10.0M1612.9 616.6h10.0M1617.9 611.6v10.0M1616.1 616.6h10.0M1621.1 611.6v10.0M1619.2 616.6h10.0M1624.2 611.6v10.0M1622.4 616.7h10.0M1627.4 611.7v10.0M1625.5 616.7h10.0M1630.5 611.7v10.0M1628.7 616.7h10.0M1633.7 611.7v10.0M1631.8 616.7h10.0M1636.8 611.7v10.0M1635.0 616.7h10.0M1640.0 611.7v10.0M1645.0 623.0h10.0M1650.0 618.0v10.0M1647.9 623.1h10.0M1652.9 618.1v10.0M1650.7 623.1h10.0M1655.7 618.1v10.0M1653.6 623.1h10.0M1658.6 618.1v10.0M1656.4 623.1h10.0M1661.4 618.1v10.0M1659.3 623.1h10.0M1664.3 618.1v10.0M1662.1 623.2h10.0M1667.1 618.2v10.0M1665.0 623.2h10.0M1670.0 618.2v10.0M1667.9 623.2h10.0M1672.9 618.2v10.0M1670.7 623.2h10.0M1675.7 618.2v10.0M1673.6 623.2h10.0M1678.6 618.2v10.0M1676.4 623.3h10.0M1681.4 618.3v10.0M1679.3 623.3h10.0M1684.3 618.3v10.0M1682.1 623.3h10.0M1687.1 618.3v10.0M1685.0 623.3h10.0M1690.0 618.3v10.0M1687.9 623.3h10.0M1692.9 618.3v10.0M1690.7 623.4h10.0M1695.7 618.4v10.0M1693.6 623.4h10.0M1698.6 618.4v10.0M1696.4 623.4h10.0M1701.4 618.4v10.0M1699.3 623.4h10.0M1704.3 618.4v10.0M1702.1 623.4h10.0M1707.1 618.4v10.0M1705.0 623.5h10.0M1710.0 618.5v10.0M1707.9 623.5h10.0M1712.9 618.5v10.0M1710.7 623.5h10.0M1715.7 618.5v10.0M1713.6 623.5h10.0M1718.6 618.5v10.0M1716.4 623.5h10.0M1721.4 618.5v10.0M1719.3 623.6h10.0M1724.3 618.6v10.0M1722.1 623.6h10.0M1727.1 618.6v10.0M1725.0 623.6h10.0M1730.0 618.6v10.0M1727.9 623.6h10.0M1732.9 618.6v10.0M1730.7 623.6h10.0M1735.7 618.6v10.0M1733.6 623.7h10.0M1738.6 618.7v10.0M1736.4 623.7h10.0M1741.4 618.7v10.0M1739.3 623.7h10.0M1744.3 618.7v10.0M1742.1 623.7h10.0M1747.1 618.7v10.0M1745.0 623.7h10.0M1750.0 618.7v10.0" stroke="#0099B4" stroke-width="1.9" fill="none"/>
<rect x="1033.3" y="169.9" width="780.5" height="687.5" fill="none" stroke="#555" stroke-width="1.5"/>
<line x1="1069.2" x2="1069.2" y1="857.4" y2="862.4" stroke="#333" stroke-width="1.4"/>
<text x="1069.2" y="879.9" text-anchor="middle" class="tk">0</text>
<line x1="1305.3" x2="1305.3" y1="857.4" y2="862.4" stroke="#333" stroke-width="1.4"/>
<text x="1305.3" y="879.9" text-anchor="middle" class="tk">500</text>
<line x1="1541.4" x2="1541.4" y1="857.4" y2="862.4" stroke="#333" stroke-width="1.4"/>
<text x="1541.4" y="879.9" text-anchor="middle" class="tk">1000</text>
<line x1="1777.5" x2="1777.5" y1="857.4" y2="862.4" stroke="#333" stroke-width="1.4"/>
<text x="1777.5" y="879.9" text-anchor="middle" class="tk">1500</text>
<line x1="1028.3" x2="1033.3" y1="826.5" y2="826.5" stroke="#333" stroke-width="1.4"/>
<text x="1024.3" y="832.4" text-anchor="end" class="tk">0.00</text>
<line x1="1028.3" x2="1033.3" y1="670.2" y2="670.2" stroke="#333" stroke-width="1.4"/>
<text x="1024.3" y="676.1" text-anchor="end" class="tk">0.25</text>
<line x1="1028.3" x2="1033.3" y1="514.0" y2="514.0" stroke="#333" stroke-width="1.4"/>
<text x="1024.3" y="519.9" text-anchor="end" class="tk">0.50</text>
<line x1="1028.3" x2="1033.3" y1="357.8" y2="357.8" stroke="#333" stroke-width="1.4"/>
<text x="1024.3" y="363.6" text-anchor="end" class="tk">0.75</text>
<line x1="1028.3" x2="1033.3" y1="201.5" y2="201.5" stroke="#333" stroke-width="1.4"/>
<text x="1024.3" y="207.4" text-anchor="end" class="tk">1.00</text>
<text x="1423.5" y="900.9" text-anchor="middle" class="ax" style="font-size:18.9px">Time (Dayes)</text>
<text transform="translate(988.8 513.6) rotate(-90)" text-anchor="middle" class="ax" style="font-size:18.2px">Survival Probability</text>
<text x="1033.8" y="91.7" class="ti" textLength="313.0" lengthAdjust="spacingAndGlyphs">Kaplan-Meier Curve by Age group</text>
<text x="1083.3" y="648.8" class="an">Log-rank</text>
<text x="1083.3" y="710.2" class="an">p = 0.1</text>
<text x="1153.8" y="136.5" class="lt" textLength="82.8" lengthAdjust="spacingAndGlyphs">Age group</text>
<rect x="1248.0" y="114.3" width="27.3" height="26.6" fill="#00468B" fill-opacity="0.3"/>
<path d="M1250.1 127.5h23.4M1261.8 122.2v10.6" stroke="#00468B" stroke-width="2" fill="none"/>
<text x="1284.5" y="136.1" class="ll" textLength="61.5" lengthAdjust="spacingAndGlyphs">Age=≤50</text>
<rect x="1354.8" y="114.3" width="27.3" height="26.6" fill="#ED0000" fill-opacity="0.3"/>
<path d="M1356.9 127.5h23.4M1368.6 122.2v10.6" stroke="#ED0000" stroke-width="2" fill="none"/>
<text x="1391.2" y="136.1" class="ll" textLength="75.3" lengthAdjust="spacingAndGlyphs">Age=51-60</text>
<rect x="1474.1" y="114.3" width="27.3" height="26.6" fill="#42B540" fill-opacity="0.3"/>
<path d="M1476.2 127.5h23.4M1487.9 122.2v10.6" stroke="#42B540" stroke-width="2" fill="none"/>
<text x="1510.8" y="136.1" class="ll" textLength="75.3" lengthAdjust="spacingAndGlyphs">Age=61-70</text>
<rect x="1593.1" y="114.3" width="27.3" height="26.6" fill="#0099B4" fill-opacity="0.3"/>
<path d="M1595.2 127.5h23.4M1606.9 122.2v10.6" stroke="#0099B4" stroke-width="2" fill="none"/>
<text x="1631.2" y="136.1" class="ll" textLength="61.0" lengthAdjust="spacingAndGlyphs">Age=&gt;70</text>
<line x1="330.4" x2="330.4" y1="1027.0" y2="1715.8" stroke="#f3f3f3" stroke-width="0.7"/>
<line x1="566.2" x2="566.2" y1="1027.0" y2="1715.8" stroke="#f3f3f3" stroke-width="0.7"/>
<line x1="802.1" x2="802.1" y1="1027.0" y2="1715.8" stroke="#f3f3f3" stroke-width="0.7"/>
<line x1="177.6" x2="955.4" y1="1606.7" y2="1606.7" stroke="#f3f3f3" stroke-width="0.7"/>
<line x1="177.6" x2="955.4" y1="1450.0" y2="1450.0" stroke="#f3f3f3" stroke-width="0.7"/>
<line x1="177.6" x2="955.4" y1="1293.3" y2="1293.3" stroke="#f3f3f3" stroke-width="0.7"/>
<line x1="177.6" x2="955.4" y1="1136.6" y2="1136.6" stroke="#f3f3f3" stroke-width="0.7"/>
<line x1="212.5" x2="212.5" y1="1027.0" y2="1715.8" stroke="#ececec" stroke-width="1.1"/>
<line x1="448.3" x2="448.3" y1="1027.0" y2="1715.8" stroke="#ececec" stroke-width="1.1"/>
<line x1="684.2" x2="684.2" y1="1027.0" y2="1715.8" stroke="#ececec" stroke-width="1.1"/>
<line x1="920.0" x2="920.0" y1="1027.0" y2="1715.8" stroke="#ececec" stroke-width="1.1"/>
<line x1="177.6" x2="955.4" y1="1685.0" y2="1685.0" stroke="#ececec" stroke-width="1.1"/>
<line x1="177.6" x2="955.4" y1="1528.3" y2="1528.3" stroke="#ececec" stroke-width="1.1"/>
<line x1="177.6" x2="955.4" y1="1371.6" y2="1371.6" stroke="#ececec" stroke-width="1.1"/>
<line x1="177.6" x2="955.4" y1="1214.9" y2="1214.9" stroke="#ececec" stroke-width="1.1"/>
<line x1="177.6" x2="955.4" y1="1058.2" y2="1058.2" stroke="#ececec" stroke-width="1.1"/>
<polyline points="213.0,1057.5 217.5,1077.0 225.0,1099.5 235.0,1122.0 245.0,1137.0 255.0,1154.5 265.0,1164.5 275.0,1177.0 285.0,1192.0 292.5,1207.0 302.5,1219.5 312.5,1234.5 322.5,1249.5 332.5,1267.0 342.5,1277.0 352.5,1292.0 362.5,1312.0 375.0,1324.5 385.0,1334.5 395.0,1349.5 407.5,1357.0 420.0,1362.0 430.0,1372.0 445.0,1373.2 457.5,1377.0 487.0,1394.5 502.0,1402.0 517.0,1407.0 532.0,1412.0 544.5,1417.0 552.0,1422.0 567.0,1427.0 574.5,1433.2 584.5,1437.0 592.0,1440.8 607.0,1441.2 614.5,1443.2 629.5,1444.0 634.5,1447.0 652.0,1447.5 659.5,1452.0 697.0,1452.5 704.5,1456.5 717.0,1457.0 724.5,1460.8 737.0,1460.8 749.5,1460.8 757.0,1462.0 782.0,1463.2 789.5,1474.5 822.0,1475.0 827.0,1478.2 833.2,1484.0 892.0,1484.5" fill="none" stroke="#00468B" stroke-width="2.1" stroke-linejoin="round"/>
<polyline points="213.0,1057.5 214.5,1094.5 218.8,1124.5 223.8,1152.0 230.0,1179.5 236.2,1202.0 242.5,1219.5 248.8,1239.5 255.0,1247.0 260.0,1262.0 265.0,1269.5 277.5,1277.0 285.0,1288.2 297.5,1295.8 305.0,1304.5 315.0,1309.5 322.5,1322.0 332.5,1330.8 342.5,1332.0 347.5,1339.5 357.5,1345.8 370.0,1352.0 380.0,1357.0 407.5,1357.5 420.0,1362.0 427.5,1365.8 445.0,1366.2 447.5,1372.0 482.5,1372.5 487.0,1372.5 499.5,1378.2 529.5,1378.8 534.5,1380.8 574.5,1381.5 582.0,1385.8 604.5,1387.0 614.5,1390.8 627.0,1392.0 642.0,1393.2 652.0,1398.2 672.0,1398.2 684.5,1400.8 694.5,1402.0 699.5,1405.8 722.0,1406.5 727.0,1412.0 900.8,1412.5" fill="none" stroke="#ED0000" stroke-width="2.1" stroke-linejoin="round"/>
<polygon points="213.0,1058.2 216.0,1058.2 216.0,1062.3 217.5,1062.3 217.5,1066.9 219.0,1066.9 219.0,1070.3 222.0,1070.3 222.0,1077.4 225.0,1077.4 225.0,1084.8 228.0,1084.8 228.0,1090.5 231.0,1090.5 231.0,1096.2 234.0,1096.2 234.0,1102.1 235.0,1102.1 235.0,1104.0 237.0,1104.0 237.0,1106.6 240.0,1106.6 240.0,1110.6 243.0,1110.6 243.0,1114.6 245.0,1114.6 245.0,1117.2 246.0,1117.2 246.0,1118.8 249.0,1118.8 249.0,1123.5 252.0,1123.5 252.0,1128.2 255.0,1128.2 255.0,1133.0 258.0,1133.0 258.0,1135.7 261.0,1135.7 261.0,1138.4 264.0,1138.4 264.0,1141.1 265.0,1141.1 265.0,1142.1 267.0,1142.1 267.0,1144.3 270.0,1144.3 270.0,1147.8 273.0,1147.8 273.0,1151.2 275.0,1151.2 275.0,1153.5 276.0,1153.5 276.0,1154.9 279.0,1154.9 279.0,1159.1 282.0,1159.1 282.0,1163.2 285.0,1163.2 285.0,1167.4 288.0,1167.4 288.0,1173.0 291.0,1173.0 291.0,1178.6 292.5,1178.6 292.5,1181.4 294.0,1181.4 294.0,1183.2 297.0,1183.2 297.0,1186.7 300.0,1186.7 300.0,1190.2 302.5,1190.2 302.5,1193.2 303.0,1193.2 303.0,1193.9 306.0,1193.9 306.0,1198.1 309.0,1198.1 309.0,1202.4 312.0,1202.4 312.0,1206.7 312.5,1206.7 312.5,1207.4 315.0,1207.4 315.0,1211.0 318.0,1211.0 318.0,1215.2 321.0,1215.2 321.0,1219.5 322.5,1219.5 322.5,1221.7 324.0,1221.7 324.0,1224.2 327.0,1224.2 327.0,1229.2 330.0,1229.2 330.0,1234.3 332.5,1234.3 332.5,1238.5 333.0,1238.5 333.0,1238.9 336.0,1238.9 336.0,1241.8 339.0,1241.8 339.0,1244.7 342.0,1244.7 342.0,1247.6 342.5,1247.6 342.5,1248.1 345.0,1248.1 345.0,1251.7 348.0,1251.7 348.0,1256.1 351.0,1256.1 351.0,1260.5 352.5,1260.5 352.5,1262.6 354.0,1262.6 354.0,1265.5 357.0,1265.5 357.0,1271.4 360.0,1271.4 360.0,1277.2 362.5,1277.2 362.5,1282.1 363.0,1282.1 363.0,1282.6 366.0,1282.6 366.0,1285.5 369.0,1285.5 369.0,1288.5 372.0,1288.5 372.0,1291.4 375.0,1291.4 375.0,1294.4 378.0,1294.4 378.0,1297.3 381.0,1297.3 381.0,1300.3 384.0,1300.3 384.0,1303.2 385.0,1303.2 385.0,1304.2 387.0,1304.2 387.0,1307.1 390.0,1307.1 390.0,1311.6 393.0,1311.6 393.0,1316.0 395.0,1316.0 395.0,1319.0 396.0,1319.0 396.0,1319.6 399.0,1319.6 399.0,1321.4 402.0,1321.4 402.0,1323.1 405.0,1323.1 405.0,1324.9 407.5,1324.9 407.5,1326.4 408.0,1326.4 408.0,1326.6 411.0,1326.6 411.0,1327.8 414.0,1327.8 414.0,1329.0 417.0,1329.0 417.0,1330.2 420.0,1330.2 420.0,1331.4 423.0,1331.4 423.0,1334.3 426.0,1334.3 426.0,1337.3 429.0,1337.3 429.0,1340.3 430.0,1340.3 430.0,1341.3 432.0,1341.3 432.0,1341.5 435.0,1341.5 435.0,1341.7 438.0,1341.7 438.0,1342.0 441.0,1342.0 441.0,1342.2 444.0,1342.2 444.0,1342.5 445.0,1342.5 445.0,1342.5 447.0,1342.5 447.0,1343.1 450.0,1343.1 450.0,1344.0 453.0,1344.0 453.0,1344.9 456.0,1344.9 456.0,1345.8 457.5,1345.8 457.5,1346.3 459.0,1346.3 459.0,1347.2 462.0,1347.2 462.0,1348.9 465.0,1348.9 465.0,1350.7 468.0,1350.7 468.0,1352.5 471.0,1352.5 471.0,1354.3 474.0,1354.3 474.0,1356.1 477.0,1356.1 477.0,1357.8 480.0,1357.8 480.0,1359.6 483.0,1359.6 483.0,1361.4 486.0,1361.4 486.0,1363.2 487.0,1363.2 487.0,1363.8 489.0,1363.8 489.0,1364.8 492.0,1364.8 492.0,1366.3 495.0,1366.3 495.0,1367.8 498.0,1367.8 498.0,1369.3 501.0,1369.3 501.0,1370.8 502.0,1370.8 502.0,1371.3 504.0,1371.3 504.0,1372.0 507.0,1372.0 507.0,1373.0 510.0,1373.0 510.0,1374.0 513.0,1374.0 513.0,1375.0 516.0,1375.0 516.0,1376.0 517.0,1376.0 517.0,1376.3 519.0,1376.3 519.0,1377.0 522.0,1377.0 522.0,1378.0 525.0,1378.0 525.0,1379.0 528.0,1379.0 528.0,1380.0 531.0,1380.0 531.0,1381.0 532.0,1381.0 532.0,1381.4 534.0,1381.4 534.0,1382.2 537.0,1382.2 537.0,1383.4 540.0,1383.4 540.0,1384.6 543.0,1384.6 543.0,1385.8 544.5,1385.8 544.5,1386.4 546.0,1386.4 546.0,1387.4 549.0,1387.4 549.0,1389.4 552.0,1389.4 552.0,1391.5 555.0,1391.5 555.0,1392.5 558.0,1392.5 558.0,1393.5 561.0,1393.5 561.0,1394.4 564.0,1394.4 564.0,1395.4 567.0,1395.4 567.0,1396.4 570.0,1396.4 570.0,1398.8 573.0,1398.8 573.0,1401.3 574.5,1401.3 574.5,1402.6 576.0,1402.6 576.0,1403.1 579.0,1403.1 579.0,1404.2 582.0,1404.2 582.0,1405.3 584.5,1405.3 584.5,1406.2 585.0,1406.2 585.0,1406.5 588.0,1406.5 588.0,1408.0 591.0,1408.0 591.0,1409.4 592.0,1409.4 592.0,1409.9 594.0,1409.9 594.0,1410.0 597.0,1410.0 597.0,1410.0 600.0,1410.0 600.0,1410.1 603.0,1410.1 603.0,1410.1 606.0,1410.1 606.0,1410.2 607.0,1410.2 607.0,1410.2 609.0,1410.2 609.0,1410.7 612.0,1410.7 612.0,1411.5 614.5,1411.5 614.5,1412.1 615.0,1412.1 615.0,1412.2 618.0,1412.2 618.0,1412.3 621.0,1412.3 621.0,1412.4 624.0,1412.4 624.0,1412.5 627.0,1412.5 627.0,1412.6 629.5,1412.6 629.5,1412.7 630.0,1412.7 630.0,1413.0 633.0,1413.0 633.0,1414.8 634.5,1414.8 634.5,1415.6 636.0,1415.6 636.0,1415.7 639.0,1415.7 639.0,1415.7 642.0,1415.7 642.0,1415.7 645.0,1415.7 645.0,1415.8 648.0,1415.8 648.0,1415.8 651.0,1415.8 651.0,1415.9 652.0,1415.9 652.0,1415.9 654.0,1415.9 654.0,1417.1 657.0,1417.1 657.0,1418.9 659.5,1418.9 659.5,1420.3 660.0,1420.3 660.0,1420.4 663.0,1420.4 663.0,1420.4 666.0,1420.4 666.0,1420.4 669.0,1420.4 669.0,1420.5 672.0,1420.5 672.0,1420.5 675.0,1420.5 675.0,1420.6 678.0,1420.6 678.0,1420.6 681.0,1420.6 681.0,1420.7 684.0,1420.7 684.0,1420.7 687.0,1420.7 687.0,1420.8 690.0,1420.8 690.0,1420.8 693.0,1420.8 693.0,1420.9 696.0,1420.9 696.0,1420.9 697.0,1420.9 697.0,1420.9 699.0,1420.9 699.0,1421.3 702.0,1421.3 702.0,1422.9 704.5,1422.9 704.5,1424.2 705.0,1424.2 705.0,1424.2 708.0,1424.2 708.0,1424.3 711.0,1424.3 711.0,1424.3 714.0,1424.3 714.0,1424.4 717.0,1424.4 717.0,1424.5 720.0,1424.5 720.0,1426.0 723.0,1426.0 723.0,1427.4 724.5,1427.4 724.5,1428.2 726.0,1428.2 726.0,1428.2 729.0,1428.2 729.0,1428.2 732.0,1428.2 732.0,1428.2 735.0,1428.2 735.0,1428.2 737.0,1428.2 737.0,1428.2 738.0,1428.2 738.0,1428.2 741.0,1428.2 741.0,1428.2 744.0,1428.2 744.0,1428.2 747.0,1428.2 747.0,1428.2 749.5,1428.2 749.5,1428.2 750.0,1428.2 750.0,1427.8 753.0,1427.8 753.0,1428.2 756.0,1428.2 756.0,1428.7 757.0,1428.7 757.0,1428.9 759.0,1428.9 759.0,1428.9 762.0,1428.9 762.0,1429.0 765.0,1429.0 765.0,1429.1 768.0,1429.1 768.0,1429.2 771.0,1429.2 771.0,1429.3 774.0,1429.3 774.0,1429.4 777.0,1429.4 777.0,1429.5 780.0,1429.5 780.0,1429.6 782.0,1429.6 782.0,1429.6 783.0,1429.6 783.0,1431.2 786.0,1431.2 786.0,1435.7 789.0,1435.7 789.0,1440.3 789.5,1440.3 789.5,1441.1 792.0,1441.1 792.0,1441.1 795.0,1441.1 795.0,1441.2 798.0,1441.2 798.0,1441.2 801.0,1441.2 801.0,1441.3 804.0,1441.3 804.0,1441.3 807.0,1441.3 807.0,1441.4 810.0,1441.4 810.0,1441.4 813.0,1441.4 813.0,1441.5 816.0,1441.5 816.0,1441.5 819.0,1441.5 819.0,1441.6 822.0,1441.6 822.0,1441.6 825.0,1441.6 825.0,1442.9 827.0,1442.9 827.0,1444.2 828.0,1444.2 828.0,1445.1 831.0,1445.1 831.0,1447.9 833.2,1447.9 833.2,1450.0 834.0,1450.0 834.0,1450.0 837.0,1450.0 837.0,1450.0 840.0,1450.0 840.0,1450.0 843.0,1450.0 843.0,1450.1 846.0,1450.1 846.0,1450.1 849.0,1450.1 849.0,1450.1 852.0,1450.1 852.0,1450.2 855.0,1450.2 855.0,1450.2 858.0,1450.2 858.0,1450.2 861.0,1450.2 861.0,1450.2 864.0,1450.2 864.0,1450.3 867.0,1450.3 867.0,1450.3 870.0,1450.3 870.0,1450.3 873.0,1450.3 873.0,1450.4 876.0,1450.4 876.0,1450.4 879.0,1450.4 879.0,1450.4 882.0,1450.4 882.0,1450.5 885.0,1450.5 885.0,1450.5 888.0,1450.5 888.0,1450.5 888.0,1513.5 888.0,1513.5 885.0,1513.5 885.0,1513.5 882.0,1513.5 882.0,1513.4 879.0,1513.4 879.0,1513.4 876.0,1513.4 876.0,1513.4 873.0,1513.4 873.0,1513.4 870.0,1513.4 870.0,1513.4 867.0,1513.4 867.0,1513.3 864.0,1513.3 864.0,1513.3 861.0,1513.3 861.0,1513.3 858.0,1513.3 858.0,1513.3 855.0,1513.3 855.0,1513.2 852.0,1513.2 852.0,1513.2 849.0,1513.2 849.0,1513.2 846.0,1513.2 846.0,1513.2 843.0,1513.2 843.0,1513.2 840.0,1513.2 840.0,1513.1 837.0,1513.1 837.0,1513.1 834.0,1513.1 834.0,1513.1 833.2,1513.1 833.2,1511.1 831.0,1511.1 831.0,1508.4 828.0,1508.4 828.0,1507.5 827.0,1507.5 827.0,1506.2 825.0,1506.2 825.0,1503.8 822.0,1503.8 822.0,1503.7 819.0,1503.7 819.0,1503.7 816.0,1503.7 816.0,1503.7 813.0,1503.7 813.0,1503.6 810.0,1503.6 810.0,1503.6 807.0,1503.6 807.0,1503.5 804.0,1503.5 804.0,1503.5 801.0,1503.5 801.0,1503.5 798.0,1503.5 798.0,1503.4 795.0,1503.4 795.0,1503.4 792.0,1503.4 792.0,1503.4 789.5,1503.4 789.5,1502.6 789.0,1502.6 789.0,1498.3 786.0,1498.3 786.0,1493.9 783.0,1493.9 783.0,1492.4 782.0,1492.4 782.0,1492.3 780.0,1492.3 780.0,1492.1 777.0,1492.1 777.0,1491.9 774.0,1491.9 774.0,1491.7 771.0,1491.7 771.0,1491.5 768.0,1491.5 768.0,1491.4 765.0,1491.4 765.0,1491.2 762.0,1491.2 762.0,1491.0 759.0,1491.0 759.0,1490.9 757.0,1490.9 757.0,1490.7 756.0,1490.7 756.0,1490.2 753.0,1490.2 753.0,1489.6 750.0,1489.6 750.0,1489.2 749.5,1489.2 749.5,1489.2 747.0,1489.2 747.0,1489.2 744.0,1489.2 744.0,1489.2 741.0,1489.2 741.0,1489.2 738.0,1489.2 738.0,1489.2 737.0,1489.2 737.0,1489.2 735.0,1489.2 735.0,1489.2 732.0,1489.2 732.0,1489.2 729.0,1489.2 729.0,1489.2 726.0,1489.2 726.0,1489.2 724.5,1489.2 724.5,1488.4 723.0,1488.4 723.0,1487.0 720.0,1487.0 720.0,1485.5 717.0,1485.5 717.0,1485.3 714.0,1485.3 714.0,1485.2 711.0,1485.2 711.0,1485.0 708.0,1485.0 708.0,1484.8 705.0,1484.8 705.0,1484.8 704.5,1484.8 704.5,1483.5 702.0,1483.5 702.0,1481.9 699.0,1481.9 699.0,1480.3 697.0,1480.3 697.0,1480.3 696.0,1480.3 696.0,1480.3 693.0,1480.3 693.0,1480.2 690.0,1480.2 690.0,1480.2 687.0,1480.2 687.0,1480.2 684.0,1480.2 684.0,1480.1 681.0,1480.1 681.0,1480.1 678.0,1480.1 678.0,1480.0 675.0,1480.0 675.0,1480.0 672.0,1480.0 672.0,1480.0 669.0,1480.0 669.0,1479.9 666.0,1479.9 666.0,1479.9 663.0,1479.9 663.0,1479.9 660.0,1479.9 660.0,1479.9 659.5,1479.9 659.5,1478.4 657.0,1478.4 657.0,1476.6 654.0,1476.6 654.0,1475.4 652.0,1475.4 652.0,1475.4 651.0,1475.4 651.0,1475.2 648.0,1475.2 648.0,1475.1 645.0,1475.1 645.0,1475.0 642.0,1475.0 642.0,1474.9 639.0,1474.9 639.0,1474.7 636.0,1474.7 636.0,1474.7 634.5,1474.7 634.5,1473.8 633.0,1473.8 633.0,1472.0 630.0,1472.0 630.0,1471.7 629.5,1471.7 629.5,1471.6 627.0,1471.6 627.0,1471.4 624.0,1471.4 624.0,1471.2 621.0,1471.2 621.0,1471.0 618.0,1471.0 618.0,1470.8 615.0,1470.8 615.0,1470.8 614.5,1470.8 614.5,1470.1 612.0,1470.1 612.0,1469.3 609.0,1469.3 609.0,1468.8 607.0,1468.8 607.0,1468.7 606.0,1468.7 606.0,1468.6 603.0,1468.6 603.0,1468.5 600.0,1468.5 600.0,1468.3 597.0,1468.3 597.0,1468.2 594.0,1468.2 594.0,1468.1 592.0,1468.1 592.0,1467.6 591.0,1467.6 591.0,1466.1 588.0,1466.1 588.0,1464.6 585.0,1464.6 585.0,1464.4 584.5,1464.4 584.5,1463.4 582.0,1463.4 582.0,1462.3 579.0,1462.3 579.0,1461.2 576.0,1461.2 576.0,1460.6 574.5,1460.6 574.5,1459.3 573.0,1459.3 573.0,1456.9 570.0,1456.9 570.0,1454.4 567.0,1454.4 567.0,1453.4 564.0,1453.4 564.0,1452.4 561.0,1452.4 561.0,1451.3 558.0,1451.3 558.0,1450.4 555.0,1450.4 555.0,1449.4 552.0,1449.4 552.0,1447.4 549.0,1447.4 549.0,1445.4 546.0,1445.4 546.0,1444.5 544.5,1444.5 544.5,1443.9 543.0,1443.9 543.0,1442.7 540.0,1442.7 540.0,1441.5 537.0,1441.5 537.0,1440.3 534.0,1440.3 534.0,1439.5 532.0,1439.5 532.0,1439.2 531.0,1439.2 531.0,1438.2 528.0,1438.2 528.0,1437.3 525.0,1437.3 525.0,1436.3 522.0,1436.3 522.0,1435.3 519.0,1435.3 519.0,1434.6 517.0,1434.6 517.0,1434.3 516.0,1434.3 516.0,1433.3 513.0,1433.3 513.0,1432.3 510.0,1432.3 510.0,1431.3 507.0,1431.3 507.0,1430.4 504.0,1430.4 504.0,1429.7 502.0,1429.7 502.0,1429.2 501.0,1429.2 501.0,1427.7 498.0,1427.7 498.0,1426.2 495.0,1426.2 495.0,1424.8 492.0,1424.8 492.0,1423.3 489.0,1423.3 489.0,1422.3 487.0,1422.3 487.0,1421.7 486.0,1421.7 486.0,1419.9 483.0,1419.9 483.0,1418.2 480.0,1418.2 480.0,1416.4 477.0,1416.4 477.0,1414.6 474.0,1414.6 474.0,1412.9 471.0,1412.9 471.0,1411.1 468.0,1411.1 468.0,1409.3 465.0,1409.3 465.0,1407.6 462.0,1407.6 462.0,1405.8 459.0,1405.8 459.0,1404.9 457.5,1404.9 457.5,1404.5 456.0,1404.5 456.0,1403.6 453.0,1403.6 453.0,1402.7 450.0,1402.7 450.0,1401.8 447.0,1401.8 447.0,1401.2 445.0,1401.2 445.0,1401.1 444.0,1401.1 444.0,1400.9 441.0,1400.9 441.0,1400.6 438.0,1400.6 438.0,1400.4 435.0,1400.4 435.0,1400.1 432.0,1400.1 432.0,1400.0 430.0,1400.0 430.0,1399.0 429.0,1399.0 429.0,1396.0 426.0,1396.0 426.0,1393.0 423.0,1393.0 423.0,1390.0 420.0,1390.0 420.0,1388.8 417.0,1388.8 417.0,1387.6 414.0,1387.6 414.0,1386.4 411.0,1386.4 411.0,1385.2 408.0,1385.2 408.0,1385.0 407.5,1385.0 407.5,1383.5 405.0,1383.5 405.0,1381.7 402.0,1381.7 402.0,1379.9 399.0,1379.9 399.0,1378.1 396.0,1378.1 396.0,1377.5 395.0,1377.5 395.0,1374.5 393.0,1374.5 393.0,1369.9 390.0,1369.9 390.0,1365.4 387.0,1365.4 387.0,1362.4 385.0,1362.4 385.0,1361.4 384.0,1361.4 384.0,1358.4 381.0,1358.4 381.0,1355.3 378.0,1355.3 378.0,1352.3 375.0,1352.3 375.0,1349.3 372.0,1349.3 372.0,1346.3 369.0,1346.3 369.0,1343.2 366.0,1343.2 366.0,1340.2 363.0,1340.2 363.0,1339.7 362.5,1339.7 362.5,1334.6 360.0,1334.6 360.0,1328.5 357.0,1328.5 357.0,1322.4 354.0,1322.4 354.0,1319.3 352.5,1319.3 352.5,1317.0 351.0,1317.0 351.0,1312.4 348.0,1312.4 348.0,1307.8 345.0,1307.8 345.0,1304.0 342.5,1304.0 342.5,1303.5 342.0,1303.5 342.0,1300.4 339.0,1300.4 339.0,1297.3 336.0,1297.3 336.0,1294.2 333.0,1294.2 333.0,1293.7 332.5,1293.7 332.5,1289.2 330.0,1289.2 330.0,1283.8 327.0,1283.8 327.0,1278.4 324.0,1278.4 324.0,1275.6 322.5,1275.6 322.5,1273.3 321.0,1273.3 321.0,1268.7 318.0,1268.7 318.0,1264.0 315.0,1264.0 315.0,1260.1 312.5,1260.1 312.5,1259.3 312.0,1259.3 312.0,1254.6 309.0,1254.6 309.0,1249.9 306.0,1249.9 306.0,1245.2 303.0,1245.2 303.0,1244.4 302.5,1244.4 302.5,1241.1 300.0,1241.1 300.0,1237.2 297.0,1237.2 297.0,1233.3 294.0,1233.3 294.0,1231.3 292.5,1231.3 292.5,1228.1 291.0,1228.1 291.0,1221.8 288.0,1221.8 288.0,1215.4 285.0,1215.4 285.0,1210.6 282.0,1210.6 282.0,1205.8 279.0,1205.8 279.0,1201.0 276.0,1201.0 276.0,1199.4 275.0,1199.4 275.0,1196.8 273.0,1196.8 273.0,1192.7 270.0,1192.7 270.0,1188.7 267.0,1188.7 267.0,1186.0 265.0,1186.0 265.0,1184.9 264.0,1184.9 264.0,1181.7 261.0,1181.7 261.0,1178.5 258.0,1178.5 258.0,1175.2 255.0,1175.2 255.0,1169.5 252.0,1169.5 252.0,1163.8 249.0,1163.8 249.0,1158.0 246.0,1158.0 246.0,1156.1 245.0,1156.1 245.0,1152.8 243.0,1152.8 243.0,1147.8 240.0,1147.8 240.0,1142.8 237.0,1142.8 237.0,1139.4 235.0,1139.4 235.0,1136.9 234.0,1136.9 234.0,1129.3 231.0,1129.3 231.0,1121.6 228.0,1121.6 228.0,1113.8 225.0,1113.8 225.0,1103.3 222.0,1103.3 222.0,1092.5 219.0,1092.5 219.0,1086.9 217.5,1086.9 217.5,1078.6 216.0,1078.6 216.0,1058.2 213.0,1058.2" fill="#00468B" fill-opacity="0.3"/>
<polygon points="213.0,1058.2 214.5,1058.2 214.5,1077.0 218.0,1077.0 218.0,1096.8 218.8,1096.8 218.8,1101.3 223.0,1101.3 223.0,1121.3 223.8,1121.3 223.8,1124.9 228.0,1124.9 228.0,1141.5 230.0,1141.5 230.0,1149.4 233.0,1149.4 233.0,1159.2 236.2,1159.2 236.2,1169.8 238.0,1169.8 238.0,1174.3 242.5,1174.3 242.5,1186.0 243.0,1186.0 243.0,1187.4 248.0,1187.4 248.0,1202.4 248.8,1202.4 248.8,1204.6 253.0,1204.6 253.0,1209.4 255.0,1209.4 255.0,1211.7 258.0,1211.7 258.0,1220.2 260.0,1220.2 260.0,1225.8 263.0,1225.8 263.0,1230.1 265.0,1230.1 265.0,1233.0 268.0,1233.0 268.0,1234.7 273.0,1234.7 273.0,1237.5 277.5,1237.5 277.5,1240.1 278.0,1240.1 278.0,1240.8 283.0,1240.8 283.0,1248.0 285.0,1248.0 285.0,1250.9 288.0,1250.9 288.0,1252.6 293.0,1252.6 293.0,1255.5 297.5,1255.5 297.5,1258.1 298.0,1258.1 298.0,1258.7 303.0,1258.7 303.0,1264.3 305.0,1264.3 305.0,1266.5 308.0,1266.5 308.0,1268.0 313.0,1268.0 313.0,1270.4 315.0,1270.4 315.0,1271.4 318.0,1271.4 318.0,1276.2 322.5,1276.2 322.5,1283.5 323.0,1283.5 323.0,1283.9 328.0,1283.9 328.0,1288.2 332.5,1288.2 332.5,1292.1 333.0,1292.1 333.0,1292.1 338.0,1292.1 338.0,1292.7 342.5,1292.7 342.5,1293.3 343.0,1293.3 343.0,1294.0 347.5,1294.0 347.5,1300.6 348.0,1300.6 348.0,1300.9 353.0,1300.9 353.0,1304.0 357.5,1304.0 357.5,1306.8 358.0,1306.8 358.0,1307.0 363.0,1307.0 363.0,1309.5 368.0,1309.5 368.0,1311.9 370.0,1311.9 370.0,1312.9 373.0,1312.9 373.0,1314.4 378.0,1314.4 378.0,1316.8 380.0,1316.8 380.0,1317.8 383.0,1317.8 383.0,1317.9 388.0,1317.9 388.0,1318.0 393.0,1318.0 393.0,1318.1 398.0,1318.1 398.0,1318.2 403.0,1318.2 403.0,1318.2 407.5,1318.2 407.5,1318.3 408.0,1318.3 408.0,1318.5 413.0,1318.5 413.0,1320.3 418.0,1320.3 418.0,1322.1 420.0,1322.1 420.0,1322.8 423.0,1322.8 423.0,1324.3 427.5,1324.3 427.5,1326.5 428.0,1326.5 428.0,1326.5 433.0,1326.5 433.0,1326.6 438.0,1326.6 438.0,1326.8 443.0,1326.8 443.0,1326.9 445.0,1326.9 445.0,1327.0 447.5,1327.0 447.5,1332.7 448.0,1332.7 448.0,1332.7 453.0,1332.7 453.0,1332.8 458.0,1332.8 458.0,1332.8 463.0,1332.8 463.0,1332.9 468.0,1332.9 468.0,1333.0 473.0,1333.0 473.0,1333.0 478.0,1333.0 478.0,1333.1 482.5,1333.1 482.5,1333.2 483.0,1333.2 483.0,1333.2 487.0,1333.2 487.0,1333.2 488.0,1333.2 488.0,1333.6 493.0,1333.6 493.0,1335.9 498.0,1335.9 498.0,1338.2 499.5,1338.2 499.5,1338.9 503.0,1338.9 503.0,1339.0 508.0,1339.0 508.0,1339.0 513.0,1339.0 513.0,1339.1 518.0,1339.1 518.0,1339.2 523.0,1339.2 523.0,1339.3 528.0,1339.3 528.0,1339.4 529.5,1339.4 529.5,1339.4 533.0,1339.4 533.0,1340.8 534.5,1340.8 534.5,1341.4 538.0,1341.4 538.0,1341.4 543.0,1341.4 543.0,1341.5 548.0,1341.5 548.0,1341.6 553.0,1341.6 553.0,1341.7 558.0,1341.7 558.0,1341.8 563.0,1341.8 563.0,1341.9 568.0,1341.9 568.0,1342.0 573.0,1342.0 573.0,1342.0 574.5,1342.0 574.5,1342.1 578.0,1342.1 578.0,1344.0 582.0,1344.0 582.0,1346.3 583.0,1346.3 583.0,1346.3 588.0,1346.3 588.0,1346.6 593.0,1346.6 593.0,1346.9 598.0,1346.9 598.0,1347.1 603.0,1347.1 603.0,1347.4 604.5,1347.4 604.5,1347.5 608.0,1347.5 608.0,1348.8 613.0,1348.8 613.0,1350.6 614.5,1350.6 614.5,1351.2 618.0,1351.2 618.0,1351.5 623.0,1351.5 623.0,1352.0 627.0,1352.0 627.0,1352.4 628.0,1352.4 628.0,1352.5 633.0,1352.5 633.0,1352.9 638.0,1352.9 638.0,1353.3 642.0,1353.3 642.0,1353.6 643.0,1353.6 643.0,1354.1 648.0,1354.1 648.0,1356.6 652.0,1356.6 652.0,1358.6 653.0,1358.6 653.0,1358.6 658.0,1358.6 658.0,1358.6 663.0,1358.6 663.0,1358.6 668.0,1358.6 668.0,1358.6 672.0,1358.6 672.0,1358.6 673.0,1358.6 673.0,1358.7 678.0,1358.7 678.0,1359.7 683.0,1359.7 683.0,1360.7 684.5,1360.7 684.5,1361.0 688.0,1361.0 688.0,1361.4 693.0,1361.4 693.0,1362.0 694.5,1362.0 694.5,1362.2 698.0,1362.2 698.0,1364.8 699.5,1364.8 699.5,1365.9 703.0,1365.9 703.0,1366.1 708.0,1366.1 708.0,1366.2 713.0,1366.2 713.0,1366.4 718.0,1366.4 718.0,1366.5 722.0,1366.5 722.0,1366.6 723.0,1366.6 723.0,1367.7 727.0,1367.7 727.0,1372.1 728.0,1372.1 728.0,1372.2 733.0,1372.2 733.0,1372.2 738.0,1372.2 738.0,1372.2 743.0,1372.2 743.0,1372.2 748.0,1372.2 748.0,1372.2 753.0,1372.2 753.0,1372.2 758.0,1372.2 758.0,1372.2 763.0,1372.2 763.0,1372.3 768.0,1372.3 768.0,1372.3 773.0,1372.3 773.0,1372.3 778.0,1372.3 778.0,1372.3 783.0,1372.3 783.0,1372.3 788.0,1372.3 788.0,1372.3 793.0,1372.3 793.0,1372.4 798.0,1372.4 798.0,1372.4 803.0,1372.4 803.0,1372.4 808.0,1372.4 808.0,1372.4 813.0,1372.4 813.0,1372.4 818.0,1372.4 818.0,1372.4 823.0,1372.4 823.0,1372.5 828.0,1372.5 828.0,1372.5 833.0,1372.5 833.0,1372.5 838.0,1372.5 838.0,1372.5 843.0,1372.5 843.0,1372.5 848.0,1372.5 848.0,1372.5 853.0,1372.5 853.0,1372.6 858.0,1372.6 858.0,1372.6 863.0,1372.6 863.0,1372.6 868.0,1372.6 868.0,1372.6 873.0,1372.6 873.0,1372.6 878.0,1372.6 878.0,1372.6 883.0,1372.6 883.0,1372.7 888.0,1372.7 888.0,1372.7 893.0,1372.7 893.0,1372.7 896.8,1372.7 896.8,1372.7 896.8,1447.2 896.8,1447.2 893.0,1447.2 893.0,1447.2 888.0,1447.2 888.0,1447.2 883.0,1447.2 883.0,1447.2 878.0,1447.2 878.0,1447.1 873.0,1447.1 873.0,1447.1 868.0,1447.1 868.0,1447.1 863.0,1447.1 863.0,1447.1 858.0,1447.1 858.0,1447.1 853.0,1447.1 853.0,1447.1 848.0,1447.1 848.0,1447.1 843.0,1447.1 843.0,1447.1 838.0,1447.1 838.0,1447.0 833.0,1447.0 833.0,1447.0 828.0,1447.0 828.0,1447.0 823.0,1447.0 823.0,1447.0 818.0,1447.0 818.0,1447.0 813.0,1447.0 813.0,1447.0 808.0,1447.0 808.0,1447.0 803.0,1447.0 803.0,1447.0 798.0,1447.0 798.0,1446.9 793.0,1446.9 793.0,1446.9 788.0,1446.9 788.0,1446.9 783.0,1446.9 783.0,1446.9 778.0,1446.9 778.0,1446.9 773.0,1446.9 773.0,1446.9 768.0,1446.9 768.0,1446.9 763.0,1446.9 763.0,1446.9 758.0,1446.9 758.0,1446.8 753.0,1446.8 753.0,1446.8 748.0,1446.8 748.0,1446.8 743.0,1446.8 743.0,1446.8 738.0,1446.8 738.0,1446.8 733.0,1446.8 733.0,1446.8 728.0,1446.8 728.0,1446.8 727.0,1446.8 727.0,1442.5 723.0,1442.5 723.0,1441.4 722.0,1441.4 722.0,1441.2 718.0,1441.2 718.0,1441.1 713.0,1441.1 713.0,1440.9 708.0,1440.9 708.0,1440.7 703.0,1440.7 703.0,1440.6 699.5,1440.6 699.5,1439.5 698.0,1439.5 698.0,1436.9 694.5,1436.9 694.5,1436.7 693.0,1436.7 693.0,1436.1 688.0,1436.1 688.0,1435.6 684.5,1435.6 684.5,1435.3 683.0,1435.3 683.0,1434.4 678.0,1434.4 678.0,1433.4 673.0,1433.4 673.0,1433.1 672.0,1433.1 672.0,1433.1 668.0,1433.1 668.0,1433.1 663.0,1433.1 663.0,1433.1 658.0,1433.1 658.0,1433.1 653.0,1433.1 653.0,1433.1 652.0,1433.1 652.0,1431.1 648.0,1431.1 648.0,1428.7 643.0,1428.7 643.0,1428.2 642.0,1428.2 642.0,1427.8 638.0,1427.8 638.0,1427.4 633.0,1427.4 633.0,1427.0 628.0,1427.0 628.0,1426.9 627.0,1426.9 627.0,1426.5 623.0,1426.5 623.0,1426.0 618.0,1426.0 618.0,1425.6 614.5,1425.6 614.5,1425.1 613.0,1425.1 613.0,1423.2 608.0,1423.2 608.0,1421.9 604.5,1421.9 604.5,1421.8 603.0,1421.8 603.0,1421.5 598.0,1421.5 598.0,1421.2 593.0,1421.2 593.0,1421.0 588.0,1421.0 588.0,1420.7 583.0,1420.7 583.0,1420.6 582.0,1420.6 582.0,1418.4 578.0,1418.4 578.0,1416.4 574.5,1416.4 574.5,1416.4 573.0,1416.4 573.0,1416.3 568.0,1416.3 568.0,1416.2 563.0,1416.2 563.0,1416.0 558.0,1416.0 558.0,1416.0 553.0,1416.0 553.0,1415.9 548.0,1415.9 548.0,1415.8 543.0,1415.8 543.0,1415.7 538.0,1415.7 538.0,1415.6 534.5,1415.6 534.5,1415.0 533.0,1415.0 533.0,1413.6 529.5,1413.6 529.5,1413.6 528.0,1413.6 528.0,1413.5 523.0,1413.5 523.0,1413.4 518.0,1413.4 518.0,1413.4 513.0,1413.4 513.0,1413.3 508.0,1413.3 508.0,1413.2 503.0,1413.2 503.0,1413.1 499.5,1413.1 499.5,1412.4 498.0,1412.4 498.0,1410.2 493.0,1410.2 493.0,1407.9 488.0,1407.9 488.0,1407.4 487.0,1407.4 487.0,1407.4 483.0,1407.4 483.0,1407.4 482.5,1407.4 482.5,1407.4 478.0,1407.4 478.0,1407.3 473.0,1407.3 473.0,1407.2 468.0,1407.2 468.0,1407.2 463.0,1407.2 463.0,1407.1 458.0,1407.1 458.0,1407.0 453.0,1407.0 453.0,1406.9 448.0,1406.9 448.0,1406.9 447.5,1406.9 447.5,1401.2 445.0,1401.2 445.0,1401.2 443.0,1401.2 443.0,1401.0 438.0,1401.0 438.0,1400.9 433.0,1400.9 433.0,1400.7 428.0,1400.7 428.0,1400.7 427.5,1400.7 427.5,1398.5 423.0,1398.5 423.0,1397.0 420.0,1397.0 420.0,1396.3 418.0,1396.3 418.0,1394.5 413.0,1394.5 413.0,1392.7 408.0,1392.7 408.0,1392.5 407.5,1392.5 407.5,1392.4 403.0,1392.4 403.0,1392.3 398.0,1392.3 398.0,1392.2 393.0,1392.2 393.0,1392.1 388.0,1392.1 388.0,1392.0 383.0,1392.0 383.0,1392.0 380.0,1392.0 380.0,1391.0 378.0,1391.0 378.0,1388.5 373.0,1388.5 373.0,1387.0 370.0,1387.0 370.0,1386.0 368.0,1386.0 368.0,1383.5 363.0,1383.5 363.0,1381.0 358.0,1381.0 358.0,1380.7 357.5,1380.7 357.5,1377.9 353.0,1377.9 353.0,1374.8 348.0,1374.8 348.0,1374.4 347.5,1374.4 347.5,1367.7 343.0,1367.7 343.0,1366.9 342.5,1366.9 342.5,1366.3 338.0,1366.3 338.0,1365.7 333.0,1365.7 333.0,1365.6 332.5,1365.6 332.5,1361.7 328.0,1361.7 328.0,1357.2 323.0,1357.2 323.0,1356.8 322.5,1356.8 322.5,1349.2 318.0,1349.2 318.0,1344.1 315.0,1344.1 315.0,1343.1 313.0,1343.1 313.0,1340.5 308.0,1340.5 308.0,1339.0 305.0,1339.0 305.0,1336.6 303.0,1336.6 303.0,1330.7 298.0,1330.7 298.0,1330.1 297.5,1330.1 297.5,1327.3 293.0,1327.3 293.0,1324.2 288.0,1324.2 288.0,1322.4 285.0,1322.4 285.0,1319.3 283.0,1319.3 283.0,1311.6 278.0,1311.6 278.0,1310.8 277.5,1310.8 277.5,1308.0 273.0,1308.0 273.0,1304.9 268.0,1304.9 268.0,1303.1 265.0,1303.1 265.0,1300.0 263.0,1300.0 263.0,1295.3 260.0,1295.3 260.0,1289.1 258.0,1289.1 258.0,1279.7 255.0,1279.7 255.0,1277.2 253.0,1277.2 253.0,1271.9 248.8,1271.9 248.8,1269.3 248.0,1269.3 248.0,1252.5 243.0,1252.5 243.0,1250.8 242.5,1250.8 242.5,1237.4 238.0,1237.4 238.0,1232.2 236.2,1232.2 236.2,1219.6 233.0,1219.6 233.0,1207.9 230.0,1207.9 230.0,1198.4 228.0,1198.4 228.0,1177.8 223.8,1177.8 223.8,1173.2 223.0,1173.2 223.0,1146.8 218.8,1146.8 218.8,1140.7 218.0,1140.7 218.0,1111.5 214.5,1111.5 214.5,1058.2 213.0,1058.2" fill="#ED0000" fill-opacity="0.3"/>
<path d="M547.0 1422.0h10.0M552.0 1417.0v10.0M550.8 1423.2h10.0M555.8 1418.2v10.0M554.5 1424.5h10.0M559.5 1419.5v10.0M562.0 1427.0h10.0M567.0 1422.0v10.0M565.3 1429.8h10.0M570.3 1424.8v10.0M568.7 1432.6h10.0M573.7 1427.6v10.0M572.0 1434.2h10.0M577.0 1429.2v10.0M575.3 1435.4h10.0M580.3 1430.4v10.0M578.7 1436.7h10.0M583.7 1431.7v10.0M582.0 1438.2h10.0M587.0 1433.2v10.0M587.0 1440.8h10.0M592.0 1435.8v10.0M590.8 1440.9h10.0M595.8 1435.9v10.0M594.5 1441.0h10.0M599.5 1436.0v10.0M609.5 1443.2h10.0M614.5 1438.2v10.0M613.0 1443.4h10.0M618.0 1438.4v10.0M616.5 1443.6h10.0M621.5 1438.6v10.0M620.0 1443.8h10.0M625.0 1438.8v10.0M623.5 1444.0h10.0M628.5 1439.0v10.0M627.0 1445.5h10.0M632.0 1440.5v10.0M642.0 1447.4h10.0M647.0 1442.4v10.0M654.5 1452.0h10.0M659.5 1447.0v10.0M657.5 1452.0h10.0M662.5 1447.0v10.0M660.5 1452.1h10.0M665.5 1447.1v10.0M663.5 1452.1h10.0M668.5 1447.1v10.0M666.5 1452.2h10.0M671.5 1447.2v10.0M669.5 1452.2h10.0M674.5 1447.2v10.0M682.0 1452.4h10.0M687.0 1447.4v10.0M693.2 1453.2h10.0M698.2 1448.2v10.0M702.0 1456.6h10.0M707.0 1451.6v10.0M708.2 1456.8h10.0M713.2 1451.8v10.0M722.0 1460.8h10.0M727.0 1455.8v10.0M725.6 1460.8h10.0M730.6 1455.8v10.0M729.1 1460.8h10.0M734.1 1455.8v10.0M732.7 1460.8h10.0M737.7 1455.8v10.0M736.3 1460.8h10.0M741.3 1455.8v10.0M739.9 1460.8h10.0M744.9 1455.8v10.0M743.4 1460.8h10.0M748.4 1455.8v10.0M747.0 1461.2h10.0M752.0 1456.2v10.0M757.0 1462.2h10.0M762.0 1457.2v10.0M760.2 1462.4h10.0M765.2 1457.4v10.0M763.4 1462.6h10.0M768.4 1457.6v10.0M766.6 1462.7h10.0M771.6 1457.7v10.0M769.9 1462.9h10.0M774.9 1457.9v10.0M773.1 1463.1h10.0M778.1 1458.1v10.0M776.3 1463.2h10.0M781.3 1458.2v10.0M779.5 1467.0h10.0M784.5 1462.0v10.0M785.8 1474.5h10.0M790.8 1469.5v10.0M788.9 1474.6h10.0M793.9 1469.6v10.0M792.0 1474.6h10.0M797.0 1469.6v10.0M795.1 1474.7h10.0M800.1 1469.7v10.0M798.2 1474.7h10.0M803.2 1469.7v10.0M801.4 1474.8h10.0M806.4 1469.8v10.0M804.5 1474.8h10.0M809.5 1469.8v10.0M807.6 1474.9h10.0M812.6 1469.9v10.0M810.8 1474.9h10.0M815.8 1469.9v10.0M813.9 1475.0h10.0M818.9 1470.0v10.0M817.0 1475.0h10.0M822.0 1470.0v10.0M828.2 1484.0h10.0M833.2 1479.0v10.0M830.9 1484.0h10.0M835.9 1479.0v10.0M833.6 1484.0h10.0M838.6 1479.0v10.0M836.3 1484.1h10.0M841.3 1479.1v10.0M839.0 1484.1h10.0M844.0 1479.1v10.0M841.6 1484.1h10.0M846.6 1479.1v10.0M844.3 1484.1h10.0M849.3 1479.1v10.0M847.0 1484.2h10.0M852.0 1479.2v10.0M849.7 1484.2h10.0M854.7 1479.2v10.0M852.4 1484.2h10.0M857.4 1479.2v10.0M855.0 1484.2h10.0M860.0 1479.2v10.0M857.7 1484.3h10.0M862.7 1479.3v10.0M860.4 1484.3h10.0M865.4 1479.3v10.0M863.1 1484.3h10.0M868.1 1479.3v10.0M865.8 1484.3h10.0M870.8 1479.3v10.0M868.4 1484.3h10.0M873.4 1479.3v10.0M871.1 1484.4h10.0M876.1 1479.4v10.0M873.8 1484.4h10.0M878.8 1479.4v10.0M876.5 1484.4h10.0M881.5 1479.4v10.0M879.1 1484.4h10.0M884.1 1479.4v10.0M881.8 1484.5h10.0M886.8 1479.5v10.0M884.5 1484.5h10.0M889.5 1479.5v10.0" stroke="#00468B" stroke-width="1.9" fill="none"/>
<path d="M574.5 1384.3h10.0M579.5 1379.3v10.0M577.8 1385.8h10.0M582.8 1380.8v10.0M581.2 1386.0h10.0M586.2 1381.0v10.0M584.5 1386.2h10.0M589.5 1381.2v10.0M598.2 1386.9h10.0M603.2 1381.9v10.0M610.8 1390.9h10.0M615.8 1385.9v10.0M622.0 1392.0h10.0M627.0 1387.0v10.0M625.0 1392.2h10.0M630.0 1387.2v10.0M628.0 1392.5h10.0M633.0 1387.5v10.0M631.0 1392.8h10.0M636.0 1387.8v10.0M634.0 1393.0h10.0M639.0 1388.0v10.0M637.0 1393.2h10.0M642.0 1388.2v10.0M642.0 1395.8h10.0M647.0 1390.8v10.0M646.2 1397.8h10.0M651.2 1392.8v10.0M650.3 1398.2h10.0M655.3 1393.2v10.0M654.5 1398.2h10.0M659.5 1393.2v10.0M667.0 1398.2h10.0M672.0 1393.2v10.0M670.8 1399.0h10.0M675.8 1394.0v10.0M674.5 1399.8h10.0M679.5 1394.8v10.0M678.2 1400.5h10.0M683.2 1395.5v10.0M682.0 1401.1h10.0M687.0 1396.1v10.0M685.8 1401.5h10.0M690.8 1396.5v10.0M689.5 1402.0h10.0M694.5 1397.0v10.0M697.0 1405.8h10.0M702.0 1400.8v10.0M702.0 1406.0h10.0M707.0 1401.0v10.0M707.0 1406.2h10.0M712.0 1401.2v10.0M712.0 1406.3h10.0M717.0 1401.3v10.0M722.0 1412.0h10.0M727.0 1407.0v10.0M724.9 1412.0h10.0M729.9 1407.0v10.0M727.8 1412.0h10.0M732.8 1407.0v10.0M730.6 1412.0h10.0M735.6 1407.0v10.0M733.5 1412.0h10.0M738.5 1407.0v10.0M736.4 1412.0h10.0M741.4 1407.0v10.0M739.3 1412.0h10.0M744.3 1407.0v10.0M742.2 1412.1h10.0M747.2 1407.1v10.0M745.1 1412.1h10.0M750.1 1407.1v10.0M747.9 1412.1h10.0M752.9 1407.1v10.0M750.8 1412.1h10.0M755.8 1407.1v10.0M753.7 1412.1h10.0M758.7 1407.1v10.0M756.6 1412.1h10.0M761.6 1407.1v10.0M759.5 1412.1h10.0M764.5 1407.1v10.0M762.3 1412.1h10.0M767.3 1407.1v10.0M765.2 1412.1h10.0M770.2 1407.1v10.0M768.1 1412.1h10.0M773.1 1407.1v10.0M771.0 1412.1h10.0M776.0 1407.1v10.0M773.9 1412.1h10.0M778.9 1407.1v10.0M776.7 1412.2h10.0M781.7 1407.2v10.0M779.6 1412.2h10.0M784.6 1407.2v10.0M782.5 1412.2h10.0M787.5 1407.2v10.0M785.4 1412.2h10.0M790.4 1407.2v10.0M788.3 1412.2h10.0M793.3 1407.2v10.0M791.2 1412.2h10.0M796.2 1407.2v10.0M794.0 1412.2h10.0M799.0 1407.2v10.0M796.9 1412.2h10.0M801.9 1407.2v10.0M799.8 1412.2h10.0M804.8 1407.2v10.0M802.7 1412.2h10.0M807.7 1407.2v10.0M805.6 1412.2h10.0M810.6 1407.2v10.0M808.4 1412.2h10.0M813.4 1407.2v10.0M811.3 1412.3h10.0M816.3 1407.3v10.0M814.2 1412.3h10.0M819.2 1407.3v10.0M817.1 1412.3h10.0M822.1 1407.3v10.0M820.0 1412.3h10.0M825.0 1407.3v10.0M822.8 1412.3h10.0M827.8 1407.3v10.0M825.7 1412.3h10.0M830.7 1407.3v10.0M828.6 1412.3h10.0M833.6 1407.3v10.0M831.5 1412.3h10.0M836.5 1407.3v10.0M834.4 1412.3h10.0M839.4 1407.3v10.0M837.3 1412.3h10.0M842.3 1407.3v10.0M840.1 1412.3h10.0M845.1 1407.3v10.0M843.0 1412.3h10.0M848.0 1407.3v10.0M845.9 1412.4h10.0M850.9 1407.4v10.0M848.8 1412.4h10.0M853.8 1407.4v10.0M851.7 1412.4h10.0M856.7 1407.4v10.0M854.5 1412.4h10.0M859.5 1407.4v10.0M857.4 1412.4h10.0M862.4 1407.4v10.0M860.3 1412.4h10.0M865.3 1407.4v10.0M863.2 1412.4h10.0M868.2 1407.4v10.0M866.1 1412.4h10.0M871.1 1407.4v10.0M868.9 1412.4h10.0M873.9 1407.4v10.0M871.8 1412.4h10.0M876.8 1407.4v10.0M874.7 1412.4h10.0M879.7 1407.4v10.0M877.6 1412.4h10.0M882.6 1407.4v10.0M880.5 1412.5h10.0M885.5 1407.5v10.0M883.4 1412.5h10.0M888.4 1407.5v10.0M886.2 1412.5h10.0M891.2 1407.5v10.0M889.1 1412.5h10.0M894.1 1407.5v10.0M892.0 1412.5h10.0M897.0 1407.5v10.0" stroke="#ED0000" stroke-width="1.9" fill="none"/>
<rect x="177.6" y="1027.0" width="777.8" height="688.8" fill="none" stroke="#555" stroke-width="1.5"/>
<line x1="212.5" x2="212.5" y1="1715.8" y2="1720.8" stroke="#333" stroke-width="1.4"/>
<text x="212.5" y="1738.2" text-anchor="middle" class="tk">0</text>
<line x1="448.3" x2="448.3" y1="1715.8" y2="1720.8" stroke="#333" stroke-width="1.4"/>
<text x="448.3" y="1738.2" text-anchor="middle" class="tk">500</text>
<line x1="684.2" x2="684.2" y1="1715.8" y2="1720.8" stroke="#333" stroke-width="1.4"/>
<text x="684.2" y="1738.2" text-anchor="middle" class="tk">1000</text>
<line x1="920.0" x2="920.0" y1="1715.8" y2="1720.8" stroke="#333" stroke-width="1.4"/>
<text x="920.0" y="1738.2" text-anchor="middle" class="tk">1500</text>
<line x1="172.6" x2="177.6" y1="1685.0" y2="1685.0" stroke="#333" stroke-width="1.4"/>
<text x="168.6" y="1690.9" text-anchor="end" class="tk">0.00</text>
<line x1="172.6" x2="177.6" y1="1528.3" y2="1528.3" stroke="#333" stroke-width="1.4"/>
<text x="168.6" y="1534.2" text-anchor="end" class="tk">0.25</text>
<line x1="172.6" x2="177.6" y1="1371.6" y2="1371.6" stroke="#333" stroke-width="1.4"/>
<text x="168.6" y="1377.5" text-anchor="end" class="tk">0.50</text>
<line x1="172.6" x2="177.6" y1="1214.9" y2="1214.9" stroke="#333" stroke-width="1.4"/>
<text x="168.6" y="1220.8" text-anchor="end" class="tk">0.75</text>
<line x1="172.6" x2="177.6" y1="1058.2" y2="1058.2" stroke="#333" stroke-width="1.4"/>
<text x="168.6" y="1064.2" text-anchor="end" class="tk">1.00</text>
<text x="566.5" y="1759.2" text-anchor="middle" class="ax" style="font-size:18.9px">Time (Days)</text>
<text transform="translate(133.1 1371.4) rotate(-90)" text-anchor="middle" class="ax" style="font-size:18.2px">Survival Probability</text>
<text x="178.1" y="948.8" class="ti" textLength="325.5" lengthAdjust="spacingAndGlyphs">Kaplan-Meier Curve by Tumor Type</text>
<text x="227.6" y="1506.8" class="an">Log-rank</text>
<text x="227.6" y="1568.3" class="an">p = 0.43</text>
<text x="379.5" y="993.6" class="lt" textLength="97.0" lengthAdjust="spacingAndGlyphs">Tumor Type</text>
<rect x="487.2" y="971.4" width="27.3" height="26.6" fill="#00468B" fill-opacity="0.3"/>
<path d="M489.3 984.6h23.4M501.0 979.3v10.6" stroke="#00468B" stroke-width="2" fill="none"/>
<text x="525.0" y="993.2" class="ll" textLength="96.5" lengthAdjust="spacingAndGlyphs">LTTT=NSCLC</text>
<rect x="631.8" y="971.4" width="27.3" height="26.6" fill="#ED0000" fill-opacity="0.3"/>
<path d="M633.9 984.6h23.4M645.6 979.3v10.6" stroke="#ED0000" stroke-width="2" fill="none"/>
<text x="668.8" y="993.2" class="ll" textLength="84.5" lengthAdjust="spacingAndGlyphs">LTTT=SCLC</text>
<line x1="1188.5" x2="1188.5" y1="1027.0" y2="1715.8" stroke="#f3f3f3" stroke-width="0.7"/>
<line x1="1424.1" x2="1424.1" y1="1027.0" y2="1715.8" stroke="#f3f3f3" stroke-width="0.7"/>
<line x1="1659.7" x2="1659.7" y1="1027.0" y2="1715.8" stroke="#f3f3f3" stroke-width="0.7"/>
<line x1="1034.8" x2="1813.8" y1="1606.7" y2="1606.7" stroke="#f3f3f3" stroke-width="0.7"/>
<line x1="1034.8" x2="1813.8" y1="1450.0" y2="1450.0" stroke="#f3f3f3" stroke-width="0.7"/>
<line x1="1034.8" x2="1813.8" y1="1293.3" y2="1293.3" stroke="#f3f3f3" stroke-width="0.7"/>
<line x1="1034.8" x2="1813.8" y1="1136.6" y2="1136.6" stroke="#f3f3f3" stroke-width="0.7"/>
<line x1="1070.8" x2="1070.8" y1="1027.0" y2="1715.8" stroke="#ececec" stroke-width="1.1"/>
<line x1="1306.3" x2="1306.3" y1="1027.0" y2="1715.8" stroke="#ececec" stroke-width="1.1"/>
<line x1="1541.9" x2="1541.9" y1="1027.0" y2="1715.8" stroke="#ececec" stroke-width="1.1"/>
<line x1="1777.5" x2="1777.5" y1="1027.0" y2="1715.8" stroke="#ececec" stroke-width="1.1"/>
<line x1="1034.8" x2="1813.8" y1="1685.0" y2="1685.0" stroke="#ececec" stroke-width="1.1"/>
<line x1="1034.8" x2="1813.8" y1="1528.3" y2="1528.3" stroke="#ececec" stroke-width="1.1"/>
<line x1="1034.8" x2="1813.8" y1="1371.6" y2="1371.6" stroke="#ececec" stroke-width="1.1"/>
<line x1="1034.8" x2="1813.8" y1="1214.9" y2="1214.9" stroke="#ececec" stroke-width="1.1"/>
<line x1="1034.8" x2="1813.8" y1="1058.2" y2="1058.2" stroke="#ececec" stroke-width="1.1"/>
<polyline points="1070.8,1057.5 1072.5,1084.5 1077.5,1109.5 1083.8,1132.0 1092.5,1152.0 1100.0,1159.5 1107.5,1174.5 1117.5,1189.5 1130.0,1204.5 1140.0,1219.5 1150.0,1229.5 1160.0,1239.5 1167.5,1240.8 1175.0,1252.0 1185.0,1267.0 1192.5,1278.2 1202.5,1282.0 1210.0,1297.0 1220.0,1307.0 1230.0,1317.0 1242.5,1319.5 1255.0,1325.8 1277.5,1327.0 1287.5,1335.8 1300.0,1339.5 1307.5,1343.2 1322.5,1345.8 1335.0,1349.5 1345.0,1359.5 1350.0,1362.0 1360.0,1365.8 1375.0,1368.2 1387.5,1373.2 1400.0,1378.2 1422.5,1379.5 1432.5,1387.0 1442.5,1392.5 1467.5,1393.2 1472.5,1398.2 1497.5,1398.8 1502.5,1400.8 1532.5,1401.2 1540.0,1407.0 1555.0,1407.5 1562.5,1414.5 1580.0,1415.0 1585.0,1419.5 1610.0,1420.0 1615.0,1423.2 1642.5,1424.0 1646.2,1438.2 1758.8,1438.8" fill="none" stroke="#00468B" stroke-width="2.1" stroke-linejoin="round"/>
<polyline points="1070.8,1057.5 1073.8,1082.0 1080.0,1109.5 1087.5,1137.0 1095.0,1162.0 1102.5,1179.5 1110.0,1197.0 1120.0,1217.0 1135.0,1229.5 1145.0,1247.0 1155.0,1259.5 1165.0,1274.5 1175.0,1289.5 1185.0,1302.0 1192.5,1309.5 1200.0,1312.0 1210.0,1327.0 1220.0,1339.5 1230.0,1349.5 1240.0,1359.5 1250.0,1368.2 1260.0,1374.5 1267.5,1377.0 1280.0,1382.0 1295.0,1387.0 1310.0,1392.0 1325.0,1397.0 1340.0,1402.0 1350.0,1405.8 1362.5,1409.5 1377.5,1412.0 1385.0,1415.8 1407.5,1420.8 1415.0,1424.5 1432.5,1425.8 1437.5,1429.5 1450.0,1433.2 1472.5,1434.5 1485.0,1435.8 1490.0,1440.8 1507.5,1442.0 1512.5,1447.0 1550.0,1447.5 1562.5,1449.5 1575.0,1450.8 1625.0,1451.2 1632.5,1455.0 1680.0,1455.5 1687.5,1465.8 1695.0,1468.2 1750.0,1468.2" fill="none" stroke="#ED0000" stroke-width="2.1" stroke-linejoin="round"/>
<polygon points="1070.8,1058.2 1072.5,1058.2 1072.5,1069.5 1075.8,1069.5 1075.8,1081.8 1077.5,1081.8 1077.5,1088.8 1080.8,1088.8 1080.8,1098.5 1083.8,1098.5 1083.8,1107.6 1085.8,1107.6 1085.8,1111.5 1090.8,1111.5 1090.8,1121.4 1092.5,1121.4 1092.5,1124.9 1095.8,1124.9 1095.8,1127.8 1100.0,1127.8 1100.0,1131.5 1100.8,1131.5 1100.8,1132.8 1105.8,1132.8 1105.8,1141.7 1107.5,1141.7 1107.5,1144.9 1110.8,1144.9 1110.8,1149.3 1115.8,1149.3 1115.8,1156.0 1117.5,1156.0 1117.5,1158.4 1120.8,1158.4 1120.8,1162.0 1125.8,1162.0 1125.8,1167.4 1130.0,1167.4 1130.0,1172.1 1130.8,1172.1 1130.8,1173.2 1135.8,1173.2 1135.8,1180.1 1140.0,1180.1 1140.0,1186.0 1140.8,1186.0 1140.8,1186.7 1145.8,1186.7 1145.8,1191.3 1150.0,1191.3 1150.0,1195.3 1150.8,1195.3 1150.8,1196.0 1155.8,1196.0 1155.8,1200.6 1160.0,1200.6 1160.0,1204.6 1160.8,1204.6 1160.8,1204.7 1165.8,1204.7 1165.8,1205.5 1167.5,1205.5 1167.5,1205.8 1170.8,1205.8 1170.8,1210.4 1175.0,1210.4 1175.0,1216.4 1175.8,1216.4 1175.8,1217.4 1180.8,1217.4 1180.8,1224.5 1185.0,1224.5 1185.0,1230.6 1185.8,1230.6 1185.8,1231.7 1190.8,1231.7 1190.8,1238.8 1192.5,1238.8 1192.5,1241.3 1195.8,1241.3 1195.8,1242.5 1200.8,1242.5 1200.8,1244.3 1202.5,1244.3 1202.5,1244.9 1205.8,1244.9 1205.8,1251.1 1210.0,1251.1 1210.0,1259.3 1210.8,1259.3 1210.8,1260.0 1215.8,1260.0 1215.8,1264.9 1220.0,1264.9 1220.0,1269.0 1220.8,1269.0 1220.8,1269.7 1225.8,1269.7 1225.8,1274.5 1230.0,1274.5 1230.0,1278.7 1230.8,1278.7 1230.8,1278.8 1235.8,1278.8 1235.8,1279.8 1240.8,1279.8 1240.8,1280.7 1242.5,1280.7 1242.5,1281.1 1245.8,1281.1 1245.8,1282.7 1250.8,1282.7 1250.8,1285.1 1255.0,1285.1 1255.0,1287.2 1255.8,1287.2 1255.8,1287.2 1260.8,1287.2 1260.8,1287.5 1265.8,1287.5 1265.8,1287.8 1270.8,1287.8 1270.8,1288.0 1275.8,1288.0 1275.8,1288.3 1277.5,1288.3 1277.5,1288.4 1280.8,1288.4 1280.8,1291.2 1285.8,1291.2 1285.8,1295.4 1287.5,1295.4 1287.5,1296.9 1290.8,1296.9 1290.8,1297.9 1295.8,1297.9 1295.8,1299.4 1300.0,1299.4 1300.0,1300.6 1300.8,1300.6 1300.8,1301.0 1305.8,1301.0 1305.8,1303.4 1307.5,1303.4 1307.5,1304.3 1310.8,1304.3 1310.8,1304.8 1315.8,1304.8 1315.8,1305.6 1320.8,1305.6 1320.8,1306.5 1322.5,1306.5 1322.5,1306.8 1325.8,1306.8 1325.8,1307.7 1330.8,1307.7 1330.8,1309.2 1335.0,1309.2 1335.0,1310.4 1335.8,1310.4 1335.8,1311.2 1340.8,1311.2 1340.8,1316.1 1345.0,1316.1 1345.0,1320.3 1345.8,1320.3 1345.8,1320.7 1350.0,1320.7 1350.0,1322.8 1350.8,1322.8 1350.8,1323.1 1355.8,1323.1 1355.8,1324.9 1360.0,1324.9 1360.0,1326.5 1360.8,1326.5 1360.8,1326.6 1365.8,1326.6 1365.8,1327.4 1370.8,1327.4 1370.8,1328.3 1375.0,1328.3 1375.0,1329.0 1375.8,1329.0 1375.8,1329.3 1380.8,1329.3 1380.8,1331.2 1385.8,1331.2 1385.8,1333.2 1387.5,1333.2 1387.5,1333.9 1390.8,1333.9 1390.8,1335.2 1395.8,1335.2 1395.8,1337.2 1400.0,1337.2 1400.0,1338.9 1400.8,1338.9 1400.8,1338.9 1405.8,1338.9 1405.8,1339.2 1410.8,1339.2 1410.8,1339.5 1415.8,1339.5 1415.8,1339.7 1420.8,1339.7 1420.8,1340.0 1422.5,1340.0 1422.5,1340.0 1425.8,1340.0 1425.8,1342.4 1430.8,1342.4 1430.8,1346.1 1432.5,1346.1 1432.5,1347.4 1435.8,1347.4 1435.8,1349.1 1440.8,1349.1 1440.8,1351.8 1442.5,1351.8 1442.5,1352.7 1445.8,1352.7 1445.8,1352.8 1450.8,1352.8 1450.8,1352.8 1455.8,1352.8 1455.8,1352.9 1460.8,1352.9 1460.8,1353.0 1465.8,1353.0 1465.8,1353.1 1467.5,1353.1 1467.5,1353.1 1470.8,1353.1 1470.8,1356.3 1472.5,1356.3 1472.5,1358.0 1475.8,1358.0 1475.8,1358.0 1480.8,1358.0 1480.8,1358.1 1485.8,1358.1 1485.8,1358.1 1490.8,1358.1 1490.8,1358.1 1495.8,1358.1 1495.8,1358.1 1497.5,1358.1 1497.5,1358.2 1500.8,1358.2 1500.8,1359.4 1502.5,1359.4 1502.5,1360.1 1505.8,1360.1 1505.8,1360.1 1510.8,1360.1 1510.8,1360.1 1515.8,1360.1 1515.8,1360.1 1520.8,1360.1 1520.8,1360.1 1525.8,1360.1 1525.8,1360.1 1530.8,1360.1 1530.8,1360.1 1532.5,1360.1 1532.5,1360.1 1535.8,1360.1 1535.8,1362.5 1540.0,1362.5 1540.0,1365.7 1540.8,1365.7 1540.8,1365.8 1545.8,1365.8 1545.8,1365.8 1550.8,1365.8 1550.8,1365.9 1555.0,1365.9 1555.0,1366.0 1555.8,1366.0 1555.8,1366.7 1560.8,1366.7 1560.8,1371.3 1562.5,1371.3 1562.5,1372.9 1565.8,1372.9 1565.8,1373.0 1570.8,1373.0 1570.8,1373.0 1575.8,1373.0 1575.8,1373.1 1580.0,1373.1 1580.0,1373.1 1580.8,1373.1 1580.8,1373.8 1585.0,1373.8 1585.0,1377.6 1585.8,1377.6 1585.8,1377.6 1590.8,1377.6 1590.8,1377.6 1595.8,1377.6 1595.8,1377.6 1600.8,1377.6 1600.8,1377.6 1605.8,1377.6 1605.8,1377.6 1610.0,1377.6 1610.0,1377.7 1610.8,1377.7 1610.8,1378.1 1615.0,1378.1 1615.0,1380.8 1615.8,1380.8 1615.8,1380.9 1620.8,1380.9 1620.8,1380.9 1625.8,1380.9 1625.8,1381.0 1630.8,1381.0 1630.8,1381.0 1635.8,1381.0 1635.8,1381.0 1640.8,1381.0 1640.8,1381.1 1642.5,1381.1 1642.5,1381.1 1645.8,1381.1 1645.8,1393.6 1646.2,1393.6 1646.2,1395.5 1650.8,1395.5 1650.8,1395.5 1655.8,1395.5 1655.8,1395.6 1660.8,1395.6 1660.8,1395.6 1665.8,1395.6 1665.8,1395.6 1670.8,1395.6 1670.8,1395.6 1675.8,1395.6 1675.8,1395.7 1680.8,1395.7 1680.8,1395.7 1685.8,1395.7 1685.8,1395.7 1690.8,1395.7 1690.8,1395.7 1695.8,1395.7 1695.8,1395.8 1700.8,1395.8 1700.8,1395.8 1705.8,1395.8 1705.8,1395.8 1710.8,1395.8 1710.8,1395.8 1715.8,1395.8 1715.8,1395.9 1720.8,1395.9 1720.8,1395.9 1725.8,1395.9 1725.8,1395.9 1730.8,1395.9 1730.8,1395.9 1735.8,1395.9 1735.8,1396.0 1740.8,1396.0 1740.8,1396.0 1745.8,1396.0 1745.8,1396.0 1750.8,1396.0 1750.8,1396.1 1754.8,1396.1 1754.8,1396.1 1754.8,1475.1 1754.8,1475.1 1750.8,1475.1 1750.8,1475.1 1745.8,1475.1 1745.8,1475.0 1740.8,1475.0 1740.8,1475.0 1735.8,1475.0 1735.8,1475.0 1730.8,1475.0 1730.8,1475.0 1725.8,1475.0 1725.8,1475.0 1720.8,1475.0 1720.8,1474.9 1715.8,1474.9 1715.8,1474.9 1710.8,1474.9 1710.8,1474.9 1705.8,1474.9 1705.8,1474.9 1700.8,1474.9 1700.8,1474.9 1695.8,1474.9 1695.8,1474.8 1690.8,1474.8 1690.8,1474.8 1685.8,1474.8 1685.8,1474.8 1680.8,1474.8 1680.8,1474.8 1675.8,1474.8 1675.8,1474.8 1670.8,1474.8 1670.8,1474.8 1665.8,1474.8 1665.8,1474.7 1660.8,1474.7 1660.8,1474.7 1655.8,1474.7 1655.8,1474.7 1650.8,1474.7 1650.8,1474.7 1646.2,1474.7 1646.2,1472.8 1645.8,1472.8 1645.8,1460.8 1642.5,1460.8 1642.5,1460.8 1640.8,1460.8 1640.8,1460.6 1635.8,1460.6 1635.8,1460.4 1630.8,1460.4 1630.8,1460.2 1625.8,1460.2 1625.8,1460.0 1620.8,1460.0 1620.8,1459.8 1615.8,1459.8 1615.8,1459.7 1615.0,1459.7 1615.0,1457.0 1610.8,1457.0 1610.8,1456.5 1610.0,1456.5 1610.0,1456.4 1605.8,1456.4 1605.8,1456.2 1600.8,1456.2 1600.8,1456.0 1595.8,1456.0 1595.8,1455.9 1590.8,1455.9 1590.8,1455.7 1585.8,1455.7 1585.8,1455.7 1585.0,1455.7 1585.0,1451.9 1580.8,1451.9 1580.8,1451.3 1580.0,1451.3 1580.0,1451.1 1575.8,1451.1 1575.8,1450.9 1570.8,1450.9 1570.8,1450.7 1565.8,1450.7 1565.8,1450.5 1562.5,1450.5 1562.5,1448.9 1560.8,1448.9 1560.8,1444.3 1555.8,1444.3 1555.8,1443.6 1555.0,1443.6 1555.0,1443.4 1550.8,1443.4 1550.8,1443.2 1545.8,1443.2 1545.8,1443.0 1540.8,1443.0 1540.8,1442.9 1540.0,1442.9 1540.0,1439.7 1535.8,1439.7 1535.8,1437.2 1532.5,1437.2 1532.5,1437.1 1530.8,1437.1 1530.8,1437.0 1525.8,1437.0 1525.8,1436.9 1520.8,1436.9 1520.8,1436.7 1515.8,1436.7 1515.8,1436.6 1510.8,1436.6 1510.8,1436.4 1505.8,1436.4 1505.8,1436.3 1502.5,1436.3 1502.5,1435.6 1500.8,1435.6 1500.8,1434.3 1497.5,1434.3 1497.5,1434.3 1495.8,1434.3 1495.8,1434.1 1490.8,1434.1 1490.8,1433.9 1485.8,1433.9 1485.8,1433.8 1480.8,1433.8 1480.8,1433.6 1475.8,1433.6 1475.8,1433.5 1472.5,1433.5 1472.5,1431.8 1470.8,1431.8 1470.8,1428.5 1467.5,1428.5 1467.5,1428.5 1465.8,1428.5 1465.8,1428.3 1460.8,1428.3 1460.8,1428.1 1455.8,1428.1 1455.8,1427.9 1450.8,1427.9 1450.8,1427.7 1445.8,1427.7 1445.8,1427.5 1442.5,1427.5 1442.5,1426.6 1440.8,1426.6 1440.8,1423.8 1435.8,1423.8 1435.8,1422.0 1432.5,1422.0 1432.5,1420.7 1430.8,1420.7 1430.8,1416.9 1425.8,1416.9 1425.8,1414.5 1422.5,1414.5 1422.5,1414.3 1420.8,1414.3 1420.8,1414.0 1415.8,1414.0 1415.8,1413.7 1410.8,1413.7 1410.8,1413.4 1405.8,1413.4 1405.8,1413.2 1400.8,1413.2 1400.8,1413.1 1400.0,1413.1 1400.0,1411.4 1395.8,1411.4 1395.8,1409.5 1390.8,1409.5 1390.8,1408.2 1387.5,1408.2 1387.5,1407.5 1385.8,1407.5 1385.8,1405.5 1380.8,1405.5 1380.8,1403.5 1375.8,1403.5 1375.8,1403.2 1375.0,1403.2 1375.0,1402.5 1370.8,1402.5 1370.8,1401.7 1365.8,1401.7 1365.8,1400.8 1360.8,1400.8 1360.8,1400.7 1360.0,1400.7 1360.0,1399.1 1355.8,1399.1 1355.8,1397.3 1350.8,1397.3 1350.8,1397.0 1350.0,1397.0 1350.0,1394.9 1345.8,1394.9 1345.8,1394.5 1345.0,1394.5 1345.0,1390.2 1340.8,1390.2 1340.8,1385.2 1335.8,1385.2 1335.8,1384.5 1335.0,1384.5 1335.0,1383.2 1330.8,1383.2 1330.8,1381.7 1325.8,1381.7 1325.8,1380.7 1322.5,1380.7 1322.5,1380.4 1320.8,1380.4 1320.8,1379.6 1315.8,1379.6 1315.8,1378.8 1310.8,1378.8 1310.8,1378.2 1307.5,1378.2 1307.5,1377.3 1305.8,1377.3 1305.8,1374.8 1300.8,1374.8 1300.8,1374.4 1300.0,1374.4 1300.0,1373.2 1295.8,1373.2 1295.8,1371.7 1290.8,1371.7 1290.8,1370.7 1287.5,1370.7 1287.5,1369.1 1285.8,1369.1 1285.8,1364.7 1280.8,1364.7 1280.8,1361.8 1277.5,1361.8 1277.5,1361.7 1275.8,1361.7 1275.8,1361.5 1270.8,1361.5 1270.8,1361.2 1265.8,1361.2 1265.8,1360.9 1260.8,1360.9 1260.8,1360.6 1255.8,1360.6 1255.8,1360.6 1255.0,1360.6 1255.0,1358.4 1250.8,1358.4 1250.8,1355.9 1245.8,1355.9 1245.8,1354.3 1242.5,1354.3 1242.5,1353.9 1240.8,1353.9 1240.8,1352.9 1235.8,1352.9 1235.8,1351.9 1230.8,1351.9 1230.8,1351.7 1230.0,1351.7 1230.0,1347.4 1225.8,1347.4 1225.8,1342.3 1220.8,1342.3 1220.8,1341.6 1220.0,1341.6 1220.0,1337.2 1215.8,1337.2 1215.8,1332.1 1210.8,1332.1 1210.8,1331.4 1210.0,1331.4 1210.0,1322.7 1205.8,1322.7 1205.8,1316.0 1202.5,1316.0 1202.5,1315.3 1200.8,1315.3 1200.8,1313.4 1195.8,1313.4 1195.8,1312.1 1192.5,1312.1 1192.5,1309.4 1190.8,1309.4 1190.8,1301.7 1185.8,1301.7 1185.8,1300.5 1185.0,1300.5 1185.0,1293.9 1180.8,1293.9 1180.8,1286.1 1175.8,1286.1 1175.8,1284.9 1175.0,1284.9 1175.0,1278.3 1170.8,1278.3 1170.8,1273.2 1167.5,1273.2 1167.5,1272.9 1165.8,1272.9 1165.8,1272.0 1160.8,1272.0 1160.8,1271.9 1160.0,1271.9 1160.0,1267.4 1155.8,1267.4 1155.8,1262.1 1150.8,1262.1 1150.8,1261.3 1150.0,1261.3 1150.0,1256.9 1145.8,1256.9 1145.8,1251.6 1140.8,1251.6 1140.8,1250.8 1140.0,1250.8 1140.0,1244.0 1135.8,1244.0 1135.8,1236.0 1130.8,1236.0 1130.8,1234.8 1130.0,1234.8 1130.0,1229.4 1125.8,1229.4 1125.8,1222.9 1120.8,1222.9 1120.8,1218.7 1117.5,1218.7 1117.5,1215.9 1115.8,1215.9 1115.8,1207.8 1110.8,1207.8 1110.8,1202.5 1107.5,1202.5 1107.5,1198.7 1105.8,1198.7 1105.8,1187.7 1100.8,1187.7 1100.8,1186.1 1100.0,1186.1 1100.0,1181.4 1095.8,1181.4 1095.8,1177.8 1092.5,1177.8 1092.5,1173.3 1090.8,1173.3 1090.8,1160.5 1085.8,1160.5 1085.8,1155.4 1083.8,1155.4 1083.8,1143.0 1080.8,1143.0 1080.8,1129.4 1077.5,1129.4 1077.5,1119.1 1075.8,1119.1 1075.8,1099.2 1072.5,1099.2 1072.5,1058.2 1070.8,1058.2" fill="#00468B" fill-opacity="0.3"/>
<polygon points="1070.8,1058.2 1073.8,1058.2 1073.8,1072.3 1076.8,1072.3 1076.8,1083.3 1079.8,1083.3 1079.8,1094.6 1080.0,1094.6 1080.0,1095.6 1082.8,1095.6 1082.8,1104.5 1085.8,1104.5 1085.8,1114.3 1087.5,1114.3 1087.5,1120.1 1088.8,1120.1 1088.8,1123.9 1091.8,1123.9 1091.8,1133.0 1094.8,1133.0 1094.8,1142.3 1095.0,1142.3 1095.0,1143.0 1097.8,1143.0 1097.8,1149.0 1100.8,1149.0 1100.8,1155.5 1102.5,1155.5 1102.5,1159.3 1103.8,1159.3 1103.8,1162.0 1106.8,1162.0 1106.8,1168.6 1109.8,1168.6 1109.8,1175.2 1110.0,1175.2 1110.0,1175.7 1112.8,1175.7 1112.8,1180.9 1115.8,1180.9 1115.8,1186.6 1118.8,1186.6 1118.8,1192.3 1120.0,1192.3 1120.0,1194.7 1121.8,1194.7 1121.8,1196.1 1124.8,1196.1 1124.8,1198.4 1127.8,1198.4 1127.8,1200.8 1130.8,1200.8 1130.8,1203.2 1133.8,1203.2 1133.8,1205.6 1135.0,1205.6 1135.0,1206.6 1136.8,1206.6 1136.8,1209.5 1139.8,1209.5 1139.8,1214.6 1142.8,1214.6 1142.8,1219.6 1145.0,1219.6 1145.0,1223.4 1145.8,1223.4 1145.8,1224.3 1148.8,1224.3 1148.8,1227.9 1151.8,1227.9 1151.8,1231.5 1154.8,1231.5 1154.8,1235.1 1155.0,1235.1 1155.0,1235.4 1157.8,1235.4 1157.8,1239.4 1160.8,1239.4 1160.8,1243.8 1163.8,1243.8 1163.8,1248.1 1165.0,1248.1 1165.0,1250.0 1166.8,1250.0 1166.8,1252.5 1169.8,1252.5 1169.8,1256.9 1172.8,1256.9 1172.8,1261.3 1175.0,1261.3 1175.0,1264.5 1175.8,1264.5 1175.8,1265.5 1178.8,1265.5 1178.8,1269.1 1181.8,1269.1 1181.8,1272.8 1184.8,1272.8 1184.8,1276.4 1185.0,1276.4 1185.0,1276.8 1187.8,1276.8 1187.8,1279.4 1190.8,1279.4 1190.8,1282.4 1192.5,1282.4 1192.5,1284.1 1193.8,1284.1 1193.8,1284.5 1196.8,1284.5 1196.8,1285.5 1199.8,1285.5 1199.8,1286.5 1200.0,1286.5 1200.0,1286.6 1202.8,1286.6 1202.8,1290.6 1205.8,1290.6 1205.8,1295.0 1208.8,1295.0 1208.8,1299.5 1210.0,1299.5 1210.0,1301.3 1211.8,1301.3 1211.8,1303.5 1214.8,1303.5 1214.8,1307.2 1217.8,1307.2 1217.8,1310.9 1220.0,1310.9 1220.0,1313.6 1220.8,1313.6 1220.8,1314.4 1223.8,1314.4 1223.8,1317.3 1226.8,1317.3 1226.8,1320.3 1229.8,1320.3 1229.8,1323.3 1230.0,1323.3 1230.0,1323.5 1232.8,1323.5 1232.8,1326.3 1235.8,1326.3 1235.8,1329.2 1238.8,1329.2 1238.8,1332.2 1240.0,1332.2 1240.0,1333.5 1241.8,1333.5 1241.8,1335.0 1244.8,1335.0 1244.8,1337.6 1247.8,1337.6 1247.8,1340.2 1250.0,1340.2 1250.0,1342.2 1250.8,1342.2 1250.8,1342.6 1253.8,1342.6 1253.8,1344.5 1256.8,1344.5 1256.8,1346.4 1259.8,1346.4 1259.8,1348.2 1260.0,1348.2 1260.0,1348.4 1262.8,1348.4 1262.8,1349.3 1265.8,1349.3 1265.8,1350.3 1267.5,1350.3 1267.5,1350.9 1268.8,1350.9 1268.8,1351.4 1271.8,1351.4 1271.8,1352.6 1274.8,1352.6 1274.8,1353.8 1277.8,1353.8 1277.8,1355.0 1280.0,1355.0 1280.0,1355.9 1280.8,1355.9 1280.8,1356.1 1283.8,1356.1 1283.8,1357.1 1286.8,1357.1 1286.8,1358.1 1289.8,1358.1 1289.8,1359.1 1292.8,1359.1 1292.8,1360.1 1295.0,1360.1 1295.0,1360.9 1295.8,1360.9 1295.8,1361.1 1298.8,1361.1 1298.8,1362.1 1301.8,1362.1 1301.8,1363.1 1304.8,1363.1 1304.8,1364.1 1307.8,1364.1 1307.8,1365.1 1310.0,1365.1 1310.0,1365.9 1310.8,1365.9 1310.8,1366.1 1313.8,1366.1 1313.8,1367.1 1316.8,1367.1 1316.8,1368.1 1319.8,1368.1 1319.8,1369.1 1322.8,1369.1 1322.8,1370.1 1325.0,1370.1 1325.0,1370.9 1325.8,1370.9 1325.8,1371.1 1328.8,1371.1 1328.8,1372.1 1331.8,1372.1 1331.8,1373.1 1334.8,1373.1 1334.8,1374.2 1337.8,1374.2 1337.8,1375.2 1340.0,1375.2 1340.0,1375.9 1340.8,1375.9 1340.8,1376.2 1343.8,1376.2 1343.8,1377.3 1346.8,1377.3 1346.8,1378.5 1349.8,1378.5 1349.8,1379.6 1350.0,1379.6 1350.0,1379.7 1352.8,1379.7 1352.8,1380.5 1355.8,1380.5 1355.8,1381.4 1358.8,1381.4 1358.8,1382.3 1361.8,1382.3 1361.8,1383.2 1362.5,1383.2 1362.5,1383.4 1364.8,1383.4 1364.8,1383.8 1367.8,1383.8 1367.8,1384.3 1370.8,1384.3 1370.8,1384.8 1373.8,1384.8 1373.8,1385.3 1376.8,1385.3 1376.8,1385.8 1377.5,1385.8 1377.5,1386.0 1379.8,1386.0 1379.8,1387.1 1382.8,1387.1 1382.8,1388.6 1385.0,1388.6 1385.0,1389.7 1385.8,1389.7 1385.8,1389.9 1388.8,1389.9 1388.8,1390.6 1391.8,1390.6 1391.8,1391.3 1394.8,1391.3 1394.8,1391.9 1397.8,1391.9 1397.8,1392.6 1400.8,1392.6 1400.8,1393.3 1403.8,1393.3 1403.8,1393.9 1406.8,1393.9 1406.8,1394.6 1407.5,1394.6 1407.5,1394.8 1409.8,1394.8 1409.8,1395.9 1412.8,1395.9 1412.8,1397.4 1415.0,1397.4 1415.0,1398.6 1415.8,1398.6 1415.8,1398.6 1418.8,1398.6 1418.8,1398.8 1421.8,1398.8 1421.8,1399.0 1424.8,1399.0 1424.8,1399.1 1427.8,1399.1 1427.8,1399.3 1430.8,1399.3 1430.8,1399.5 1432.5,1399.5 1432.5,1399.6 1433.8,1399.6 1433.8,1400.5 1436.8,1400.5 1436.8,1402.7 1437.5,1402.7 1437.5,1403.3 1439.8,1403.3 1439.8,1403.9 1442.8,1403.9 1442.8,1404.8 1445.8,1404.8 1445.8,1405.6 1448.8,1405.6 1448.8,1406.5 1450.0,1406.5 1450.0,1406.9 1451.8,1406.9 1451.8,1406.9 1454.8,1406.9 1454.8,1407.1 1457.8,1407.1 1457.8,1407.2 1460.8,1407.2 1460.8,1407.3 1463.8,1407.3 1463.8,1407.4 1466.8,1407.4 1466.8,1407.5 1469.8,1407.5 1469.8,1407.7 1472.5,1407.7 1472.5,1407.8 1472.8,1407.8 1472.8,1407.8 1475.8,1407.8 1475.8,1408.0 1478.8,1408.0 1478.8,1408.3 1481.8,1408.3 1481.8,1408.5 1484.8,1408.5 1484.8,1408.8 1485.0,1408.8 1485.0,1408.8 1487.8,1408.8 1487.8,1411.6 1490.0,1411.6 1490.0,1413.8 1490.8,1413.8 1490.8,1413.9 1493.8,1413.9 1493.8,1414.0 1496.8,1414.0 1496.8,1414.2 1499.8,1414.2 1499.8,1414.3 1502.8,1414.3 1502.8,1414.5 1505.8,1414.5 1505.8,1414.7 1507.5,1414.7 1507.5,1414.8 1508.8,1414.8 1508.8,1416.0 1511.8,1416.0 1511.8,1419.0 1512.5,1419.0 1512.5,1419.8 1514.8,1419.8 1514.8,1419.8 1517.8,1419.8 1517.8,1419.8 1520.8,1419.8 1520.8,1419.9 1523.8,1419.9 1523.8,1419.9 1526.8,1419.9 1526.8,1420.0 1529.8,1420.0 1529.8,1420.0 1532.8,1420.0 1532.8,1420.1 1535.8,1420.1 1535.8,1420.1 1538.8,1420.1 1538.8,1420.1 1541.8,1420.1 1541.8,1420.2 1544.8,1420.2 1544.8,1420.2 1547.8,1420.2 1547.8,1420.3 1550.0,1420.3 1550.0,1420.3 1550.8,1420.3 1550.8,1419.7 1553.8,1419.7 1553.8,1420.1 1556.8,1420.1 1556.8,1420.5 1559.8,1420.5 1559.8,1421.0 1562.5,1421.0 1562.5,1421.4 1562.8,1421.4 1562.8,1421.4 1565.8,1421.4 1565.8,1421.6 1568.8,1421.6 1568.8,1421.9 1571.8,1421.9 1571.8,1422.1 1574.8,1422.1 1574.8,1422.4 1575.0,1422.4 1575.0,1422.4 1577.8,1422.4 1577.8,1422.4 1580.8,1422.4 1580.8,1422.4 1583.8,1422.4 1583.8,1422.5 1586.8,1422.5 1586.8,1422.5 1589.8,1422.5 1589.8,1422.5 1592.8,1422.5 1592.8,1422.6 1595.8,1422.6 1595.8,1422.6 1598.8,1422.6 1598.8,1422.6 1601.8,1422.6 1601.8,1422.7 1604.8,1422.7 1604.8,1422.7 1607.8,1422.7 1607.8,1422.7 1610.8,1422.7 1610.8,1422.8 1613.8,1422.8 1613.8,1422.8 1616.8,1422.8 1616.8,1422.8 1619.8,1422.8 1619.8,1422.9 1622.8,1422.9 1622.8,1422.9 1625.0,1422.9 1625.0,1422.9 1625.8,1422.9 1625.8,1422.2 1628.8,1422.2 1628.8,1423.6 1631.8,1423.6 1631.8,1425.1 1632.5,1425.1 1632.5,1425.5 1634.8,1425.5 1634.8,1425.5 1637.8,1425.5 1637.8,1425.5 1640.8,1425.5 1640.8,1425.5 1643.8,1425.5 1643.8,1425.6 1646.8,1425.6 1646.8,1425.6 1649.8,1425.6 1649.8,1425.7 1652.8,1425.7 1652.8,1425.7 1655.8,1425.7 1655.8,1425.7 1658.8,1425.7 1658.8,1425.8 1661.8,1425.8 1661.8,1425.8 1664.8,1425.8 1664.8,1425.8 1667.8,1425.8 1667.8,1425.9 1670.8,1425.9 1670.8,1425.9 1673.8,1425.9 1673.8,1425.9 1676.8,1425.9 1676.8,1426.0 1679.8,1426.0 1679.8,1426.0 1680.0,1426.0 1680.0,1426.0 1682.8,1426.0 1682.8,1428.6 1685.8,1428.6 1685.8,1432.7 1687.5,1432.7 1687.5,1435.1 1688.8,1435.1 1688.8,1435.5 1691.8,1435.5 1691.8,1436.4 1694.8,1436.4 1694.8,1437.4 1695.0,1437.4 1695.0,1437.4 1697.8,1437.4 1697.8,1437.4 1700.8,1437.4 1700.8,1437.4 1703.8,1437.4 1703.8,1437.4 1706.8,1437.4 1706.8,1437.4 1709.8,1437.4 1709.8,1437.4 1712.8,1437.4 1712.8,1437.4 1715.8,1437.4 1715.8,1437.4 1718.8,1437.4 1718.8,1437.4 1721.8,1437.4 1721.8,1437.4 1724.8,1437.4 1724.8,1437.4 1727.8,1437.4 1727.8,1437.4 1730.8,1437.4 1730.8,1437.4 1733.8,1437.4 1733.8,1437.4 1736.8,1437.4 1736.8,1437.4 1739.8,1437.4 1739.8,1437.4 1742.8,1437.4 1742.8,1437.4 1745.8,1437.4 1745.8,1437.4 1746.0,1437.4 1746.0,1437.4 1746.0,1495.2 1746.0,1495.2 1745.8,1495.2 1745.8,1495.2 1742.8,1495.2 1742.8,1495.2 1739.8,1495.2 1739.8,1495.2 1736.8,1495.2 1736.8,1495.2 1733.8,1495.2 1733.8,1495.2 1730.8,1495.2 1730.8,1495.2 1727.8,1495.2 1727.8,1495.2 1724.8,1495.2 1724.8,1495.2 1721.8,1495.2 1721.8,1495.2 1718.8,1495.2 1718.8,1495.2 1715.8,1495.2 1715.8,1495.2 1712.8,1495.2 1712.8,1495.2 1709.8,1495.2 1709.8,1495.2 1706.8,1495.2 1706.8,1495.2 1703.8,1495.2 1703.8,1495.2 1700.8,1495.2 1700.8,1495.2 1697.8,1495.2 1697.8,1495.2 1695.0,1495.2 1695.0,1495.1 1694.8,1495.1 1694.8,1494.1 1691.8,1494.1 1691.8,1493.1 1688.8,1493.1 1688.8,1492.7 1687.5,1492.7 1687.5,1490.3 1685.8,1490.3 1685.8,1486.3 1682.8,1486.3 1682.8,1481.6 1680.0,1481.6 1680.0,1481.6 1679.8,1481.6 1679.8,1481.6 1676.8,1481.6 1676.8,1481.6 1673.8,1481.6 1673.8,1481.5 1670.8,1481.5 1670.8,1481.5 1667.8,1481.5 1667.8,1481.5 1664.8,1481.5 1664.8,1481.5 1661.8,1481.5 1661.8,1481.4 1658.8,1481.4 1658.8,1481.4 1655.8,1481.4 1655.8,1481.4 1652.8,1481.4 1652.8,1481.3 1649.8,1481.3 1649.8,1481.3 1646.8,1481.3 1646.8,1481.3 1643.8,1481.3 1643.8,1481.3 1640.8,1481.3 1640.8,1481.2 1637.8,1481.2 1637.8,1481.2 1634.8,1481.2 1634.8,1481.2 1632.5,1481.2 1632.5,1480.8 1631.8,1480.8 1631.8,1479.3 1628.8,1479.3 1628.8,1477.8 1625.8,1477.8 1625.8,1476.5 1625.0,1476.5 1625.0,1476.5 1622.8,1476.5 1622.8,1476.5 1619.8,1476.5 1619.8,1476.4 1616.8,1476.4 1616.8,1476.4 1613.8,1476.4 1613.8,1476.4 1610.8,1476.4 1610.8,1476.3 1607.8,1476.3 1607.8,1476.3 1604.8,1476.3 1604.8,1476.3 1601.8,1476.3 1601.8,1476.3 1598.8,1476.3 1598.8,1476.2 1595.8,1476.2 1595.8,1476.2 1592.8,1476.2 1592.8,1476.2 1589.8,1476.2 1589.8,1476.2 1586.8,1476.2 1586.8,1476.1 1583.8,1476.1 1583.8,1476.1 1580.8,1476.1 1580.8,1476.1 1577.8,1476.1 1577.8,1476.1 1575.0,1476.1 1575.0,1476.0 1574.8,1476.0 1574.8,1475.7 1571.8,1475.7 1571.8,1475.4 1568.8,1475.4 1568.8,1475.0 1565.8,1475.0 1565.8,1474.7 1562.8,1474.7 1562.8,1474.6 1562.5,1474.6 1562.5,1474.2 1559.8,1474.2 1559.8,1473.7 1556.8,1473.7 1556.8,1473.1 1553.8,1473.1 1553.8,1472.6 1550.8,1472.6 1550.8,1471.9 1550.0,1471.9 1550.0,1471.9 1547.8,1471.9 1547.8,1471.8 1544.8,1471.8 1544.8,1471.8 1541.8,1471.8 1541.8,1471.8 1538.8,1471.8 1538.8,1471.7 1535.8,1471.7 1535.8,1471.7 1532.8,1471.7 1532.8,1471.7 1529.8,1471.7 1529.8,1471.6 1526.8,1471.6 1526.8,1471.6 1523.8,1471.6 1523.8,1471.5 1520.8,1471.5 1520.8,1471.5 1517.8,1471.5 1517.8,1471.5 1514.8,1471.5 1514.8,1471.4 1512.5,1471.4 1512.5,1470.7 1511.8,1470.7 1511.8,1467.7 1508.8,1467.7 1508.8,1466.5 1507.5,1466.5 1507.5,1466.3 1505.8,1466.3 1505.8,1466.1 1502.8,1466.1 1502.8,1465.8 1499.8,1465.8 1499.8,1465.6 1496.8,1465.6 1496.8,1465.3 1493.8,1465.3 1493.8,1465.1 1490.8,1465.1 1490.8,1465.0 1490.0,1465.0 1490.0,1462.8 1487.8,1462.8 1487.8,1460.0 1485.0,1460.0 1485.0,1460.0 1484.8,1460.0 1484.8,1459.7 1481.8,1459.7 1481.8,1459.4 1478.8,1459.4 1478.8,1459.0 1475.8,1459.0 1475.8,1458.7 1472.8,1458.7 1472.8,1458.7 1472.5,1458.7 1472.5,1458.5 1469.8,1458.5 1469.8,1458.3 1466.8,1458.3 1466.8,1458.1 1463.8,1458.1 1463.8,1457.9 1460.8,1457.9 1460.8,1457.7 1457.8,1457.7 1457.8,1457.4 1454.8,1457.4 1454.8,1457.2 1451.8,1457.2 1451.8,1457.1 1450.0,1457.1 1450.0,1456.7 1448.8,1456.7 1448.8,1455.8 1445.8,1455.8 1445.8,1454.9 1442.8,1454.9 1442.8,1454.0 1439.8,1454.0 1439.8,1453.3 1437.5,1453.3 1437.5,1452.7 1436.8,1452.7 1436.8,1450.5 1433.8,1450.5 1433.8,1449.5 1432.5,1449.5 1432.5,1449.4 1430.8,1449.4 1430.8,1449.1 1427.8,1449.1 1427.8,1448.9 1424.8,1448.9 1424.8,1448.6 1421.8,1448.6 1421.8,1448.4 1418.8,1448.4 1418.8,1448.1 1415.8,1448.1 1415.8,1448.1 1415.0,1448.1 1415.0,1447.0 1412.8,1447.0 1412.8,1445.5 1409.8,1445.5 1409.8,1444.4 1407.5,1444.4 1407.5,1444.2 1406.8,1444.2 1406.8,1443.6 1403.8,1443.6 1403.8,1442.9 1400.8,1442.9 1400.8,1442.3 1397.8,1442.3 1397.8,1441.6 1394.8,1441.6 1394.8,1440.9 1391.8,1440.9 1391.8,1440.3 1388.8,1440.3 1388.8,1439.6 1385.8,1439.6 1385.8,1439.5 1385.0,1439.5 1385.0,1438.4 1382.8,1438.4 1382.8,1436.9 1379.8,1436.9 1379.8,1435.8 1377.5,1435.8 1377.5,1435.6 1376.8,1435.6 1376.8,1435.2 1373.8,1435.2 1373.8,1434.7 1370.8,1434.7 1370.8,1434.2 1367.8,1434.2 1367.8,1433.7 1364.8,1433.7 1364.8,1433.3 1362.5,1433.3 1362.5,1433.1 1361.8,1433.1 1361.8,1432.2 1358.8,1432.2 1358.8,1431.3 1355.8,1431.3 1355.8,1430.4 1352.8,1430.4 1352.8,1429.6 1350.0,1429.6 1350.0,1429.5 1349.8,1429.5 1349.8,1428.4 1346.8,1428.4 1346.8,1427.3 1343.8,1427.3 1343.8,1426.2 1340.8,1426.2 1340.8,1425.9 1340.0,1425.9 1340.0,1425.1 1337.8,1425.1 1337.8,1424.2 1334.8,1424.2 1334.8,1423.2 1331.8,1423.2 1331.8,1422.2 1328.8,1422.2 1328.8,1421.2 1325.8,1421.2 1325.8,1420.9 1325.0,1420.9 1325.0,1420.2 1322.8,1420.2 1322.8,1419.2 1319.8,1419.2 1319.8,1418.2 1316.8,1418.2 1316.8,1417.2 1313.8,1417.2 1313.8,1416.2 1310.8,1416.2 1310.8,1416.0 1310.0,1416.0 1310.0,1415.2 1307.8,1415.2 1307.8,1414.2 1304.8,1414.2 1304.8,1413.3 1301.8,1413.3 1301.8,1412.3 1298.8,1412.3 1298.8,1411.3 1295.8,1411.3 1295.8,1411.0 1295.0,1411.0 1295.0,1410.3 1292.8,1410.3 1292.8,1409.3 1289.8,1409.3 1289.8,1408.3 1286.8,1408.3 1286.8,1407.3 1283.8,1407.3 1283.8,1406.3 1280.8,1406.3 1280.8,1406.1 1280.0,1406.1 1280.0,1405.2 1277.8,1405.2 1277.8,1404.0 1274.8,1404.0 1274.8,1402.8 1271.8,1402.8 1271.8,1401.6 1268.8,1401.6 1268.8,1401.1 1267.5,1401.1 1267.5,1400.5 1265.8,1400.5 1265.8,1399.5 1262.8,1399.5 1262.8,1398.6 1260.0,1398.6 1260.0,1398.4 1259.8,1398.4 1259.8,1396.6 1256.8,1396.6 1256.8,1394.7 1253.8,1394.7 1253.8,1392.8 1250.8,1392.8 1250.8,1392.4 1250.0,1392.4 1250.0,1390.4 1247.8,1390.4 1247.8,1387.8 1244.8,1387.8 1244.8,1385.1 1241.8,1385.1 1241.8,1383.6 1240.0,1383.6 1240.0,1382.4 1238.8,1382.4 1238.8,1379.4 1235.8,1379.4 1235.8,1376.4 1232.8,1376.4 1232.8,1373.6 1230.0,1373.6 1230.0,1373.4 1229.8,1373.4 1229.8,1370.3 1226.8,1370.3 1226.8,1367.3 1223.8,1367.3 1223.8,1364.3 1220.8,1364.3 1220.8,1363.6 1220.0,1363.6 1220.0,1360.7 1217.8,1360.7 1217.8,1357.0 1214.8,1357.0 1214.8,1353.2 1211.8,1353.2 1211.8,1351.0 1210.0,1351.0 1210.0,1349.1 1208.8,1349.1 1208.8,1344.5 1205.8,1344.5 1205.8,1340.0 1202.8,1340.0 1202.8,1335.8 1200.0,1335.8 1200.0,1335.7 1199.8,1335.7 1199.8,1334.7 1196.8,1334.7 1196.8,1333.7 1193.8,1333.7 1193.8,1333.3 1192.5,1333.3 1192.5,1331.5 1190.8,1331.5 1190.8,1328.5 1187.8,1328.5 1187.8,1325.7 1185.0,1325.7 1185.0,1325.4 1184.8,1325.4 1184.8,1321.6 1181.8,1321.6 1181.8,1317.7 1178.8,1317.7 1178.8,1313.9 1175.8,1313.9 1175.8,1313.0 1175.0,1313.0 1175.0,1309.5 1172.8,1309.5 1172.8,1304.9 1169.8,1304.9 1169.8,1300.3 1166.8,1300.3 1166.8,1297.7 1165.0,1297.7 1165.0,1295.7 1163.8,1295.7 1163.8,1291.1 1160.8,1291.1 1160.8,1286.5 1157.8,1286.5 1157.8,1282.3 1155.0,1282.3 1155.0,1282.0 1154.8,1282.0 1154.8,1278.1 1151.8,1278.1 1151.8,1274.2 1148.8,1274.2 1148.8,1270.4 1145.8,1270.4 1145.8,1269.4 1145.0,1269.4 1145.0,1265.3 1142.8,1265.3 1142.8,1259.9 1139.8,1259.9 1139.8,1254.5 1136.8,1254.5 1136.8,1251.3 1135.0,1251.3 1135.0,1250.2 1133.8,1250.2 1133.8,1247.6 1130.8,1247.6 1130.8,1245.0 1127.8,1245.0 1127.8,1242.4 1124.8,1242.4 1124.8,1239.8 1121.8,1239.8 1121.8,1238.3 1120.0,1238.3 1120.0,1235.7 1118.8,1235.7 1118.8,1229.4 1115.8,1229.4 1115.8,1223.2 1112.8,1223.2 1112.8,1217.4 1110.0,1217.4 1110.0,1216.8 1109.8,1216.8 1109.8,1209.4 1106.8,1209.4 1106.8,1202.0 1103.8,1202.0 1103.8,1198.9 1102.5,1198.9 1102.5,1194.6 1100.8,1194.6 1100.8,1187.2 1097.8,1187.2 1097.8,1180.3 1095.0,1180.3 1095.0,1179.4 1094.8,1179.4 1094.8,1168.7 1091.8,1168.7 1091.8,1157.9 1088.8,1157.9 1088.8,1153.4 1087.5,1153.4 1087.5,1146.4 1085.8,1146.4 1085.8,1134.3 1082.8,1134.3 1082.8,1123.1 1080.0,1123.1 1080.0,1121.8 1079.8,1121.8 1079.8,1106.9 1076.8,1106.9 1076.8,1091.5 1073.8,1091.5 1073.8,1058.2 1070.8,1058.2" fill="#ED0000" fill-opacity="0.3"/>
<path d="M1407.5 1378.9h10.0M1412.5 1373.9v10.0M1418.8 1380.4h10.0M1423.8 1375.4v10.0M1428.8 1387.7h10.0M1433.8 1382.7v10.0M1432.5 1389.8h10.0M1437.5 1384.8v10.0M1436.2 1391.8h10.0M1441.2 1386.8v10.0M1440.0 1392.6h10.0M1445.0 1387.6v10.0M1452.5 1393.0h10.0M1457.5 1388.0v10.0M1456.2 1393.1h10.0M1461.2 1388.1v10.0M1470.0 1398.3h10.0M1475.0 1393.3v10.0M1473.6 1398.4h10.0M1478.6 1393.4v10.0M1477.1 1398.4h10.0M1482.1 1393.4v10.0M1480.7 1398.5h10.0M1485.7 1393.5v10.0M1484.3 1398.6h10.0M1489.3 1393.6v10.0M1487.9 1398.7h10.0M1492.9 1393.7v10.0M1491.4 1398.7h10.0M1496.4 1393.7v10.0M1495.0 1399.8h10.0M1500.0 1394.8v10.0M1507.5 1400.9h10.0M1512.5 1395.9v10.0M1511.5 1401.0h10.0M1516.5 1396.0v10.0M1515.5 1401.0h10.0M1520.5 1396.0v10.0M1519.5 1401.1h10.0M1524.5 1396.1v10.0M1523.5 1401.2h10.0M1528.5 1396.2v10.0M1527.5 1401.2h10.0M1532.5 1396.2v10.0M1540.0 1407.2h10.0M1545.0 1402.2v10.0M1543.8 1407.3h10.0M1548.8 1402.3v10.0M1547.5 1407.4h10.0M1552.5 1402.4v10.0M1551.2 1408.7h10.0M1556.2 1403.7v10.0M1563.8 1414.7h10.0M1568.8 1409.7v10.0M1585.0 1419.6h10.0M1590.0 1414.6v10.0M1588.5 1419.7h10.0M1593.5 1414.7v10.0M1592.1 1419.7h10.0M1597.1 1414.7v10.0M1595.6 1419.8h10.0M1600.6 1414.8v10.0M1599.2 1419.9h10.0M1604.2 1414.9v10.0M1602.7 1420.0h10.0M1607.7 1415.0v10.0M1606.2 1420.8h10.0M1611.2 1415.8v10.0M1607.5 1421.6h10.0M1612.5 1416.6v10.0M1611.1 1423.3h10.0M1616.1 1418.3v10.0M1614.7 1423.4h10.0M1619.7 1418.4v10.0M1618.3 1423.5h10.0M1623.3 1418.5v10.0M1621.9 1423.6h10.0M1626.9 1418.6v10.0M1625.5 1423.7h10.0M1630.5 1418.7v10.0M1629.1 1423.8h10.0M1634.1 1418.8v10.0M1632.7 1423.9h10.0M1637.7 1418.9v10.0M1636.2 1424.0h10.0M1641.2 1419.0v10.0M1642.5 1438.3h10.0M1647.5 1433.3v10.0M1645.5 1438.3h10.0M1650.5 1433.3v10.0M1648.4 1438.3h10.0M1653.4 1433.3v10.0M1651.4 1438.3h10.0M1656.4 1433.3v10.0M1654.4 1438.3h10.0M1659.4 1433.3v10.0M1657.4 1438.3h10.0M1662.4 1433.3v10.0M1660.3 1438.3h10.0M1665.3 1433.3v10.0M1663.3 1438.3h10.0M1668.3 1433.3v10.0M1666.3 1438.4h10.0M1671.3 1433.4v10.0M1669.3 1438.4h10.0M1674.3 1433.4v10.0M1672.2 1438.4h10.0M1677.2 1433.4v10.0M1675.2 1438.4h10.0M1680.2 1433.4v10.0M1678.2 1438.4h10.0M1683.2 1433.4v10.0M1681.1 1438.4h10.0M1686.1 1433.4v10.0M1684.1 1438.4h10.0M1689.1 1433.4v10.0M1687.1 1438.5h10.0M1692.1 1433.5v10.0M1690.1 1438.5h10.0M1695.1 1433.5v10.0M1693.0 1438.5h10.0M1698.0 1433.5v10.0M1696.0 1438.5h10.0M1701.0 1433.5v10.0M1699.0 1438.5h10.0M1704.0 1433.5v10.0M1702.0 1438.5h10.0M1707.0 1433.5v10.0M1704.9 1438.5h10.0M1709.9 1433.5v10.0M1707.9 1438.5h10.0M1712.9 1433.5v10.0M1710.9 1438.6h10.0M1715.9 1433.6v10.0M1713.9 1438.6h10.0M1718.9 1433.6v10.0M1716.8 1438.6h10.0M1721.8 1433.6v10.0M1719.8 1438.6h10.0M1724.8 1433.6v10.0M1722.8 1438.6h10.0M1727.8 1433.6v10.0M1725.7 1438.6h10.0M1730.7 1433.6v10.0M1728.7 1438.6h10.0M1733.7 1433.6v10.0M1731.7 1438.7h10.0M1736.7 1433.7v10.0M1734.7 1438.7h10.0M1739.7 1433.7v10.0M1737.6 1438.7h10.0M1742.6 1433.7v10.0M1740.6 1438.7h10.0M1745.6 1433.7v10.0M1743.6 1438.7h10.0M1748.6 1433.7v10.0M1746.6 1438.7h10.0M1751.6 1433.7v10.0M1749.5 1438.7h10.0M1754.5 1433.7v10.0M1752.5 1438.7h10.0M1757.5 1433.7v10.0" stroke="#00468B" stroke-width="1.9" fill="none"/>
<path d="M1405.0 1422.0h10.0M1410.0 1417.0v10.0M1410.0 1424.5h10.0M1415.0 1419.5v10.0M1422.5 1425.4h10.0M1427.5 1420.4v10.0M1426.2 1425.7h10.0M1431.2 1420.7v10.0M1430.0 1427.6h10.0M1435.0 1422.6v10.0M1433.8 1429.9h10.0M1438.8 1424.9v10.0M1437.5 1431.0h10.0M1442.5 1426.0v10.0M1441.2 1432.1h10.0M1446.2 1427.1v10.0M1445.0 1433.2h10.0M1450.0 1428.2v10.0M1470.0 1434.8h10.0M1475.0 1429.8v10.0M1472.5 1435.0h10.0M1477.5 1430.0v10.0M1482.5 1438.2h10.0M1487.5 1433.2v10.0M1486.0 1440.8h10.0M1491.0 1435.8v10.0M1489.5 1441.1h10.0M1494.5 1436.1v10.0M1493.0 1441.3h10.0M1498.0 1436.3v10.0M1496.5 1441.6h10.0M1501.5 1436.6v10.0M1500.0 1441.8h10.0M1505.0 1436.8v10.0M1505.0 1444.5h10.0M1510.0 1439.5v10.0M1508.1 1447.0h10.0M1513.1 1442.0v10.0M1511.2 1447.0h10.0M1516.2 1442.0v10.0M1514.3 1447.1h10.0M1519.3 1442.1v10.0M1517.4 1447.1h10.0M1522.4 1442.1v10.0M1520.5 1447.2h10.0M1525.5 1442.2v10.0M1523.6 1447.2h10.0M1528.6 1442.2v10.0M1526.7 1447.3h10.0M1531.7 1442.3v10.0M1529.8 1447.3h10.0M1534.8 1442.3v10.0M1532.9 1447.3h10.0M1537.9 1442.3v10.0M1536.0 1447.4h10.0M1541.0 1442.4v10.0M1539.0 1447.4h10.0M1544.0 1442.4v10.0M1542.1 1447.5h10.0M1547.1 1442.5v10.0M1545.2 1447.5h10.0M1550.2 1442.5v10.0M1548.3 1448.0h10.0M1553.3 1443.0v10.0M1551.4 1448.5h10.0M1556.4 1443.5v10.0M1554.5 1449.0h10.0M1559.5 1444.0v10.0M1557.6 1449.5h10.0M1562.6 1444.5v10.0M1560.7 1449.8h10.0M1565.7 1444.8v10.0M1563.8 1450.1h10.0M1568.8 1445.1v10.0M1566.9 1450.4h10.0M1571.9 1445.4v10.0M1570.0 1450.8h10.0M1575.0 1445.8v10.0M1580.0 1450.8h10.0M1585.0 1445.8v10.0M1583.1 1450.9h10.0M1588.1 1445.9v10.0M1586.1 1450.9h10.0M1591.1 1445.9v10.0M1589.2 1450.9h10.0M1594.2 1445.9v10.0M1592.3 1451.0h10.0M1597.3 1446.0v10.0M1595.3 1451.0h10.0M1600.3 1446.0v10.0M1598.4 1451.0h10.0M1603.4 1446.0v10.0M1601.5 1451.1h10.0M1606.5 1446.1v10.0M1604.5 1451.1h10.0M1609.5 1446.1v10.0M1607.6 1451.1h10.0M1612.6 1446.1v10.0M1610.6 1451.2h10.0M1615.6 1446.2v10.0M1613.7 1451.2h10.0M1618.7 1446.2v10.0M1616.8 1451.2h10.0M1621.8 1446.2v10.0M1619.8 1451.2h10.0M1624.8 1446.2v10.0M1622.9 1452.7h10.0M1627.9 1447.7v10.0M1626.0 1454.2h10.0M1631.0 1449.2v10.0M1629.0 1455.0h10.0M1634.0 1450.0v10.0M1632.1 1455.0h10.0M1637.1 1450.0v10.0M1635.2 1455.1h10.0M1640.2 1450.1v10.0M1638.2 1455.1h10.0M1643.2 1450.1v10.0M1641.3 1455.1h10.0M1646.3 1450.1v10.0M1644.4 1455.2h10.0M1649.4 1450.2v10.0M1647.4 1455.2h10.0M1652.4 1450.2v10.0M1650.5 1455.2h10.0M1655.5 1450.2v10.0M1653.5 1455.3h10.0M1658.5 1450.3v10.0M1656.6 1455.3h10.0M1661.6 1450.3v10.0M1659.7 1455.3h10.0M1664.7 1450.3v10.0M1662.7 1455.4h10.0M1667.7 1450.4v10.0M1665.8 1455.4h10.0M1670.8 1450.4v10.0M1668.9 1455.4h10.0M1673.9 1450.4v10.0M1671.9 1455.5h10.0M1676.9 1450.5v10.0M1675.0 1455.5h10.0M1680.0 1450.5v10.0M1685.0 1466.6h10.0M1690.0 1461.6v10.0M1687.6 1467.5h10.0M1692.6 1462.5v10.0M1690.2 1468.2h10.0M1695.2 1463.2v10.0M1692.9 1468.2h10.0M1697.9 1463.2v10.0M1695.5 1468.2h10.0M1700.5 1463.2v10.0M1698.1 1468.2h10.0M1703.1 1463.2v10.0M1700.7 1468.2h10.0M1705.7 1463.2v10.0M1703.3 1468.2h10.0M1708.3 1463.2v10.0M1706.0 1468.2h10.0M1711.0 1463.2v10.0M1708.6 1468.2h10.0M1713.6 1463.2v10.0M1711.2 1468.2h10.0M1716.2 1463.2v10.0M1713.8 1468.2h10.0M1718.8 1463.2v10.0M1716.4 1468.2h10.0M1721.4 1463.2v10.0M1719.0 1468.2h10.0M1724.0 1463.2v10.0M1721.7 1468.2h10.0M1726.7 1463.2v10.0M1724.3 1468.2h10.0M1729.3 1463.2v10.0M1726.9 1468.2h10.0M1731.9 1463.2v10.0M1729.5 1468.2h10.0M1734.5 1463.2v10.0M1732.1 1468.2h10.0M1737.1 1463.2v10.0M1734.8 1468.2h10.0M1739.8 1463.2v10.0M1737.4 1468.2h10.0M1742.4 1463.2v10.0M1740.0 1468.2h10.0M1745.0 1463.2v10.0" stroke="#ED0000" stroke-width="1.9" fill="none"/>
<rect x="1034.8" y="1027.0" width="779.0" height="688.8" fill="none" stroke="#555" stroke-width="1.5"/>
<line x1="1070.8" x2="1070.8" y1="1715.8" y2="1720.8" stroke="#333" stroke-width="1.4"/>
<text x="1070.8" y="1738.2" text-anchor="middle" class="tk">0</text>
<line x1="1306.3" x2="1306.3" y1="1715.8" y2="1720.8" stroke="#333" stroke-width="1.4"/>
<text x="1306.3" y="1738.2" text-anchor="middle" class="tk">500</text>
<line x1="1541.9" x2="1541.9" y1="1715.8" y2="1720.8" stroke="#333" stroke-width="1.4"/>
<text x="1541.9" y="1738.2" text-anchor="middle" class="tk">1000</text>
<line x1="1777.5" x2="1777.5" y1="1715.8" y2="1720.8" stroke="#333" stroke-width="1.4"/>
<text x="1777.5" y="1738.2" text-anchor="middle" class="tk">1500</text>
<line x1="1029.8" x2="1034.8" y1="1685.0" y2="1685.0" stroke="#333" stroke-width="1.4"/>
<text x="1025.8" y="1690.9" text-anchor="end" class="tk">0.00</text>
<line x1="1029.8" x2="1034.8" y1="1528.3" y2="1528.3" stroke="#333" stroke-width="1.4"/>
<text x="1025.8" y="1534.2" text-anchor="end" class="tk">0.25</text>
<line x1="1029.8" x2="1034.8" y1="1371.6" y2="1371.6" stroke="#333" stroke-width="1.4"/>
<text x="1025.8" y="1377.5" text-anchor="end" class="tk">0.50</text>
<line x1="1029.8" x2="1034.8" y1="1214.9" y2="1214.9" stroke="#333" stroke-width="1.4"/>
<text x="1025.8" y="1220.8" text-anchor="end" class="tk">0.75</text>
<line x1="1029.8" x2="1034.8" y1="1058.2" y2="1058.2" stroke="#333" stroke-width="1.4"/>
<text x="1025.8" y="1064.2" text-anchor="end" class="tk">1.00</text>
<text x="1424.3" y="1759.2" text-anchor="middle" class="ax" style="font-size:18.9px">Time (Days)</text>
<text transform="translate(990.3 1371.4) rotate(-90)" text-anchor="middle" class="ax" style="font-size:18.2px">Survival Probability</text>
<text x="1035.3" y="948.8" class="ti" textLength="313.0" lengthAdjust="spacingAndGlyphs">Kaplan-Meier Curve by Residence</text>
<text x="1084.8" y="1506.8" class="an">Log-rank</text>
<text x="1084.8" y="1568.3" class="an">p = 0.14</text>
<text x="1200.0" y="993.6" class="lt" textLength="86.5" lengthAdjust="spacingAndGlyphs">Residence</text>
<rect x="1297.2" y="971.4" width="27.3" height="26.6" fill="#00468B" fill-opacity="0.3"/>
<path d="M1299.3 984.6h23.4M1311.0 979.3v10.6" stroke="#00468B" stroke-width="2" fill="none"/>
<text x="1335.8" y="993.2" class="ll" textLength="129.5" lengthAdjust="spacingAndGlyphs">Urban.Rural=Rural</text>
<rect x="1475.5" y="971.4" width="27.3" height="26.6" fill="#ED0000" fill-opacity="0.3"/>
<path d="M1477.6 984.6h23.4M1489.3 979.3v10.6" stroke="#ED0000" stroke-width="2" fill="none"/>
<text x="1512.5" y="993.2" class="ll" textLength="134.8" lengthAdjust="spacingAndGlyphs">Urban.Rural=Urban</text>
</g>
<text transform="translate(107.0 168.0) scale(1.000 1)" class="big">A</text>
<text transform="translate(966.5 168.0) scale(1.000 1)" class="big">B</text>
<text transform="translate(110.4 1010.3) scale(1.180 1)" class="big">C</text>
<text transform="translate(961.2 1010.3) scale(1.120 1)" class="big">D</text>
<text x="107.3" y="1852.3" class="cap" textLength="911" lengthAdjust="spacingAndGlyphs"><tspan font-weight="bold">Figure 2.</tspan> The Kaplan-Meier survival curves by each independent variable</text>
<text x="107.3" y="1918.3" class="cap" textLength="1721.5" lengthAdjust="spacingAndGlyphs">A) Kaplan-Meier survival curve by gender, B) Kaplan-Meier survival curve by Age, C) Kaplan-Meier survival curve by residential area, D)</text>
<text x="107.3" y="1960.3" class="cap" textLength="887.5" lengthAdjust="spacingAndGlyphs">Kaplan-Meier survival curve by tumor type with intersecting chart lines</text>
</svg>
</body></html>
